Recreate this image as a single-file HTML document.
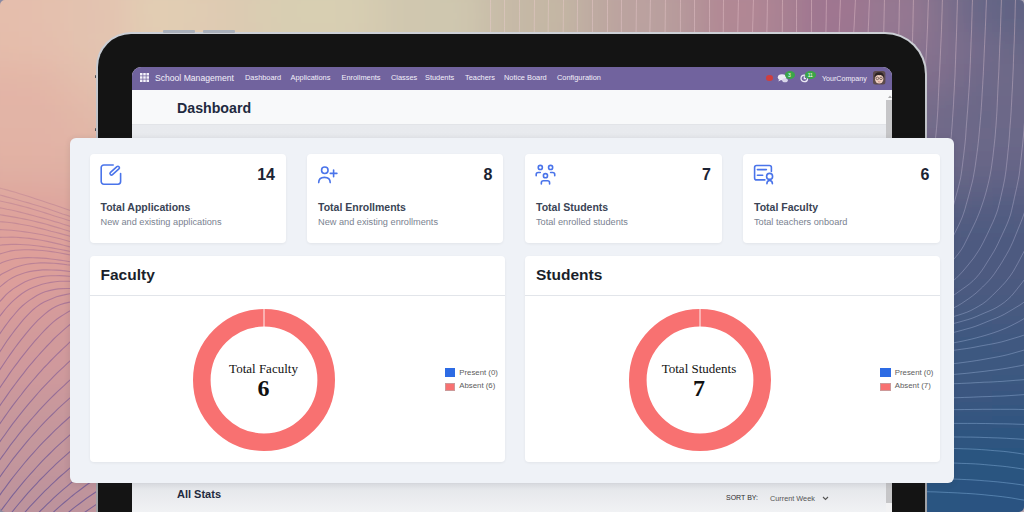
<!DOCTYPE html>
<html><head><meta charset="utf-8">
<style>
*{margin:0;padding:0;box-sizing:border-box}
html,body{width:1024px;height:512px;overflow:hidden;background:#7a6e88}
body{position:relative;font-family:"Liberation Sans",sans-serif}
.abs{position:absolute}
#tablet{position:absolute;left:96px;top:32px;width:831px;height:540px;border-radius:35px 42px 0 0;background:linear-gradient(#cdd0d6,#b4b6bc 30%,#9c9ea2);}
#bezel{position:absolute;left:2.3px;top:2.3px;right:2.3px;bottom:0;border-radius:33px 40px 0 0;background:#141414}
#screen{position:absolute;left:132px;top:67px;width:760px;height:460px;border-radius:9px 9px 0 0;overflow:hidden;background:linear-gradient(#e8eaee 58px,#eceef1 300px,#e3e5e9 416px,#f3f4f6 450px)}
#nav{position:absolute;left:0;top:0;width:760px;height:23px;background:#71639e;color:#fff;font-size:7.4px}
#nav span{position:absolute;top:6.4px;white-space:nowrap;color:#f3f0fa}
#cp{position:absolute;left:0;top:23px;width:760px;height:34.6px;background:#f8f9fa;border-bottom:1px solid #e2e4e8}
#overlay{position:absolute;left:70px;top:138px;width:884px;height:344.5px;border-radius:6px;background:#eff2f7;box-shadow:0 1px 6px rgba(40,40,60,.12)}
.card{position:absolute;background:#fff;border-radius:4px;box-shadow:0 1px 3px rgba(0,0,0,.06)}
.stat .num{position:absolute;right:10.5px;top:12.4px;font-size:16px;font-weight:bold;color:#1c2333}
.stat .t{position:absolute;left:11px;top:46.8px;font-size:10.5px;font-weight:bold;color:#3a4455;white-space:nowrap}
.stat .s{position:absolute;left:11px;top:63px;font-size:9.2px;color:#7a8290;white-space:nowrap}
.stat svg{position:absolute}
.chart .h{position:absolute;left:11px;top:9.4px;font-size:15.5px;font-weight:bold;color:#1a1f2b}
.chart .line{position:absolute;left:0;right:0;top:39px;height:1px;background:#e2e5ea}
.legend{position:absolute;font-size:7.8px;color:#5c5c5c;white-space:nowrap}
.legend i{position:absolute;left:0;width:10.5px;height:8.5px}
.legend span{position:absolute;left:14.5px}
.ctext{position:absolute;font-family:"Liberation Serif",serif;text-align:center;color:#111}
</style></head><body>
<svg width="1024" height="512" style="position:absolute;left:0;top:0"><defs><filter id="bl" x="-5%" y="-5%" width="110%" height="110%"><feGaussianBlur stdDeviation="14" edgeMode="duplicate"/></filter></defs><g filter="url(#bl)"><rect x="-32" y="-32" width="32" height="32" fill="#e5beac"/><rect x="0" y="-32" width="32" height="32" fill="#e5bfad"/><rect x="32" y="-32" width="32" height="32" fill="#e4c0ad"/><rect x="64" y="-32" width="32" height="32" fill="#e3c2af"/><rect x="96" y="-32" width="32" height="32" fill="#e3c5b0"/><rect x="128" y="-32" width="32" height="32" fill="#e2ccb3"/><rect x="160" y="-32" width="32" height="32" fill="#e1cdb3"/><rect x="192" y="-32" width="32" height="32" fill="#e0cbb2"/><rect x="224" y="-32" width="32" height="32" fill="#dccbb1"/><rect x="256" y="-32" width="32" height="32" fill="#d9cdb2"/><rect x="288" y="-32" width="32" height="32" fill="#d8cfb2"/><rect x="320" y="-32" width="32" height="32" fill="#d8cfb2"/><rect x="352" y="-32" width="32" height="32" fill="#d5ccb1"/><rect x="384" y="-32" width="32" height="32" fill="#d0c7af"/><rect x="416" y="-32" width="32" height="32" fill="#cfc7af"/><rect x="448" y="-32" width="32" height="32" fill="#cec5ae"/><rect x="480" y="-32" width="32" height="32" fill="#c8bca8"/><rect x="512" y="-32" width="32" height="32" fill="#c5b7a5"/><rect x="544" y="-32" width="32" height="32" fill="#c4b6a4"/><rect x="576" y="-32" width="32" height="32" fill="#beaba2"/><rect x="608" y="-32" width="32" height="32" fill="#bba29f"/><rect x="640" y="-32" width="32" height="32" fill="#baa09f"/><rect x="672" y="-32" width="32" height="32" fill="#b5959a"/><rect x="704" y="-32" width="32" height="32" fill="#b18994"/><rect x="736" y="-32" width="32" height="32" fill="#b08794"/><rect x="768" y="-32" width="32" height="32" fill="#a88192"/><rect x="800" y="-32" width="32" height="32" fill="#9f7790"/><rect x="832" y="-32" width="32" height="32" fill="#9e7690"/><rect x="864" y="-32" width="32" height="32" fill="#967790"/><rect x="896" y="-32" width="32" height="32" fill="#907690"/><rect x="928" y="-32" width="32" height="32" fill="#7d6f8c"/><rect x="960" y="-32" width="32" height="32" fill="#6b6787"/><rect x="992" y="-32" width="32" height="32" fill="#626384"/><rect x="1024" y="-32" width="32" height="32" fill="#626384"/><rect x="-32" y="0" width="32" height="32" fill="#e5beac"/><rect x="0" y="0" width="32" height="32" fill="#e5beac"/><rect x="32" y="0" width="32" height="32" fill="#e4c0ae"/><rect x="64" y="0" width="32" height="32" fill="#e3c2af"/><rect x="96" y="0" width="32" height="32" fill="#e3c3b0"/><rect x="128" y="0" width="32" height="32" fill="#e2cdb3"/><rect x="160" y="0" width="32" height="32" fill="#e1cdb3"/><rect x="192" y="0" width="32" height="32" fill="#e0ccb3"/><rect x="224" y="0" width="32" height="32" fill="#dccbb2"/><rect x="256" y="0" width="32" height="32" fill="#d9ceb2"/><rect x="288" y="0" width="32" height="32" fill="#d8cfb2"/><rect x="320" y="0" width="32" height="32" fill="#d8cfb2"/><rect x="352" y="0" width="32" height="32" fill="#d6ccb1"/><rect x="384" y="0" width="32" height="32" fill="#d0c7af"/><rect x="416" y="0" width="32" height="32" fill="#cfc7af"/><rect x="448" y="0" width="32" height="32" fill="#cfc7af"/><rect x="480" y="0" width="32" height="32" fill="#c8bca8"/><rect x="512" y="0" width="32" height="32" fill="#c5b7a5"/><rect x="544" y="0" width="32" height="32" fill="#c4b7a4"/><rect x="576" y="0" width="32" height="32" fill="#beaaa1"/><rect x="608" y="0" width="32" height="32" fill="#bba29f"/><rect x="640" y="0" width="32" height="32" fill="#baa19f"/><rect x="672" y="0" width="32" height="32" fill="#b5969a"/><rect x="704" y="0" width="32" height="32" fill="#b18894"/><rect x="736" y="0" width="32" height="32" fill="#b18794"/><rect x="768" y="0" width="32" height="32" fill="#a98192"/><rect x="800" y="0" width="32" height="32" fill="#9f7690"/><rect x="832" y="0" width="32" height="32" fill="#9f7690"/><rect x="864" y="0" width="32" height="32" fill="#967891"/><rect x="896" y="0" width="32" height="32" fill="#957991"/><rect x="928" y="0" width="32" height="32" fill="#7f708c"/><rect x="960" y="0" width="32" height="32" fill="#6a6888"/><rect x="992" y="0" width="32" height="32" fill="#616384"/><rect x="1024" y="0" width="32" height="32" fill="#626384"/><rect x="-32" y="32" width="32" height="32" fill="#e4bcab"/><rect x="0" y="32" width="32" height="32" fill="#e5bdab"/><rect x="32" y="32" width="32" height="32" fill="#e4bead"/><rect x="64" y="32" width="32" height="32" fill="#e3c2af"/><rect x="96" y="32" width="32" height="32" fill="#e3c4b0"/><rect x="128" y="32" width="32" height="32" fill="#e2cab2"/><rect x="160" y="32" width="32" height="32" fill="#e1ccb3"/><rect x="192" y="32" width="32" height="32" fill="#e0cab2"/><rect x="224" y="32" width="32" height="32" fill="#dccab1"/><rect x="256" y="32" width="32" height="32" fill="#d9ccb1"/><rect x="288" y="32" width="32" height="32" fill="#d8ceb2"/><rect x="320" y="32" width="32" height="32" fill="#d8ceb2"/><rect x="352" y="32" width="32" height="32" fill="#d5cbb1"/><rect x="384" y="32" width="32" height="32" fill="#d0c7af"/><rect x="416" y="32" width="32" height="32" fill="#cfc7af"/><rect x="448" y="32" width="32" height="32" fill="#cec5ae"/><rect x="480" y="32" width="32" height="32" fill="#c8bca8"/><rect x="512" y="32" width="32" height="32" fill="#c4b7a5"/><rect x="544" y="32" width="32" height="32" fill="#c3b5a4"/><rect x="576" y="32" width="32" height="32" fill="#beaaa1"/><rect x="608" y="32" width="32" height="32" fill="#baa29f"/><rect x="640" y="32" width="32" height="32" fill="#b9a09f"/><rect x="672" y="32" width="32" height="32" fill="#b4959a"/><rect x="704" y="32" width="32" height="32" fill="#b08a95"/><rect x="736" y="32" width="32" height="32" fill="#af8794"/><rect x="768" y="32" width="32" height="32" fill="#a68092"/><rect x="800" y="32" width="32" height="32" fill="#9e7890"/><rect x="832" y="32" width="32" height="32" fill="#9b7690"/><rect x="864" y="32" width="32" height="32" fill="#937790"/><rect x="896" y="32" width="32" height="32" fill="#8d7590"/><rect x="928" y="32" width="32" height="32" fill="#816f8d"/><rect x="960" y="32" width="32" height="32" fill="#756b8a"/><rect x="992" y="32" width="32" height="32" fill="#6b6787"/><rect x="1024" y="32" width="32" height="32" fill="#686686"/><rect x="-32" y="64" width="32" height="32" fill="#e3b6a7"/><rect x="0" y="64" width="32" height="32" fill="#e3b5a6"/><rect x="32" y="64" width="32" height="32" fill="#e3b7a8"/><rect x="64" y="64" width="32" height="32" fill="#e3bdac"/><rect x="96" y="64" width="32" height="32" fill="#e2c1ae"/><rect x="128" y="64" width="32" height="32" fill="#e1c5b0"/><rect x="160" y="64" width="32" height="32" fill="#e0c7b1"/><rect x="192" y="64" width="32" height="32" fill="#dec7b0"/><rect x="224" y="64" width="32" height="32" fill="#dbc7b0"/><rect x="256" y="64" width="32" height="32" fill="#d8c9b0"/><rect x="288" y="64" width="32" height="32" fill="#d7cbb1"/><rect x="320" y="64" width="32" height="32" fill="#d6cab0"/><rect x="352" y="64" width="32" height="32" fill="#d3c8af"/><rect x="384" y="64" width="32" height="32" fill="#cfc5ae"/><rect x="416" y="64" width="32" height="32" fill="#cec3ad"/><rect x="448" y="64" width="32" height="32" fill="#cbc0ac"/><rect x="480" y="64" width="32" height="32" fill="#c7baa8"/><rect x="512" y="64" width="32" height="32" fill="#c4b5a5"/><rect x="544" y="64" width="32" height="32" fill="#c1b1a3"/><rect x="576" y="64" width="32" height="32" fill="#bda9a1"/><rect x="608" y="64" width="32" height="32" fill="#b9a29f"/><rect x="640" y="64" width="32" height="32" fill="#b69c9d"/><rect x="672" y="64" width="32" height="32" fill="#b29499"/><rect x="704" y="64" width="32" height="32" fill="#ad8b96"/><rect x="736" y="64" width="32" height="32" fill="#a98594"/><rect x="768" y="64" width="32" height="32" fill="#a17f92"/><rect x="800" y="64" width="32" height="32" fill="#997990"/><rect x="832" y="64" width="32" height="32" fill="#93768f"/><rect x="864" y="64" width="32" height="32" fill="#8a738e"/><rect x="896" y="64" width="32" height="32" fill="#81708d"/><rect x="928" y="64" width="32" height="32" fill="#7e6e8c"/><rect x="960" y="64" width="32" height="32" fill="#6e6989"/><rect x="992" y="64" width="32" height="32" fill="#6e6988"/><rect x="1024" y="64" width="32" height="32" fill="#6d6888"/><rect x="-32" y="96" width="32" height="32" fill="#e2b4a6"/><rect x="0" y="96" width="32" height="32" fill="#e2b4a6"/><rect x="32" y="96" width="32" height="32" fill="#e2b4a6"/><rect x="64" y="96" width="32" height="32" fill="#e2b8a8"/><rect x="96" y="96" width="32" height="32" fill="#e1bcab"/><rect x="128" y="96" width="32" height="32" fill="#e0c0ad"/><rect x="160" y="96" width="32" height="32" fill="#dfc2ae"/><rect x="192" y="96" width="32" height="32" fill="#ddc3ae"/><rect x="224" y="96" width="32" height="32" fill="#dac4ae"/><rect x="256" y="96" width="32" height="32" fill="#d8c5ae"/><rect x="288" y="96" width="32" height="32" fill="#d6c6af"/><rect x="320" y="96" width="32" height="32" fill="#d4c6ae"/><rect x="352" y="96" width="32" height="32" fill="#d1c4ae"/><rect x="384" y="96" width="32" height="32" fill="#cec2ac"/><rect x="416" y="96" width="32" height="32" fill="#cbbfab"/><rect x="448" y="96" width="32" height="32" fill="#c9bcaa"/><rect x="480" y="96" width="32" height="32" fill="#c5b7a7"/><rect x="512" y="96" width="32" height="32" fill="#c2b2a5"/><rect x="544" y="96" width="32" height="32" fill="#beada2"/><rect x="576" y="96" width="32" height="32" fill="#baa6a0"/><rect x="608" y="96" width="32" height="32" fill="#b69f9e"/><rect x="640" y="96" width="32" height="32" fill="#b2999b"/><rect x="672" y="96" width="32" height="32" fill="#ad9298"/><rect x="704" y="96" width="32" height="32" fill="#a88a96"/><rect x="736" y="96" width="32" height="32" fill="#a28493"/><rect x="768" y="96" width="32" height="32" fill="#9a7e91"/><rect x="800" y="96" width="32" height="32" fill="#92788f"/><rect x="832" y="96" width="32" height="32" fill="#8b748e"/><rect x="864" y="96" width="32" height="32" fill="#83718d"/><rect x="896" y="96" width="32" height="32" fill="#7a6d8b"/><rect x="928" y="96" width="32" height="32" fill="#706a89"/><rect x="960" y="96" width="32" height="32" fill="#6a6888"/><rect x="992" y="96" width="32" height="32" fill="#6c6888"/><rect x="1024" y="96" width="32" height="32" fill="#6d6888"/><rect x="-32" y="128" width="32" height="32" fill="#e2b3a5"/><rect x="0" y="128" width="32" height="32" fill="#e2b3a5"/><rect x="32" y="128" width="32" height="32" fill="#e2b3a6"/><rect x="64" y="128" width="32" height="32" fill="#e1b5a6"/><rect x="96" y="128" width="32" height="32" fill="#e0b7a8"/><rect x="128" y="128" width="32" height="32" fill="#debaaa"/><rect x="160" y="128" width="32" height="32" fill="#ddbcab"/><rect x="192" y="128" width="32" height="32" fill="#dbbeab"/><rect x="224" y="128" width="32" height="32" fill="#d9bfac"/><rect x="256" y="128" width="32" height="32" fill="#d6c0ac"/><rect x="288" y="128" width="32" height="32" fill="#d4c1ac"/><rect x="320" y="128" width="32" height="32" fill="#d1c1ac"/><rect x="352" y="128" width="32" height="32" fill="#cfbfac"/><rect x="384" y="128" width="32" height="32" fill="#ccbdab"/><rect x="416" y="128" width="32" height="32" fill="#c9bba9"/><rect x="448" y="128" width="32" height="32" fill="#c6b7a8"/><rect x="480" y="128" width="32" height="32" fill="#c2b3a6"/><rect x="512" y="128" width="32" height="32" fill="#bfaea3"/><rect x="544" y="128" width="32" height="32" fill="#bba9a1"/><rect x="576" y="128" width="32" height="32" fill="#b7a39f"/><rect x="608" y="128" width="32" height="32" fill="#b29c9d"/><rect x="640" y="128" width="32" height="32" fill="#ad969a"/><rect x="672" y="128" width="32" height="32" fill="#a88f98"/><rect x="704" y="128" width="32" height="32" fill="#a28895"/><rect x="736" y="128" width="32" height="32" fill="#9b8292"/><rect x="768" y="128" width="32" height="32" fill="#937c90"/><rect x="800" y="128" width="32" height="32" fill="#8b778e"/><rect x="832" y="128" width="32" height="32" fill="#84728d"/><rect x="864" y="128" width="32" height="32" fill="#7c6f8b"/><rect x="896" y="128" width="32" height="32" fill="#756c8a"/><rect x="928" y="128" width="32" height="32" fill="#6f6989"/><rect x="960" y="128" width="32" height="32" fill="#6c6888"/><rect x="992" y="128" width="32" height="32" fill="#6b6888"/><rect x="1024" y="128" width="32" height="32" fill="#6b6888"/><rect x="-32" y="160" width="32" height="32" fill="#e0ada2"/><rect x="0" y="160" width="32" height="32" fill="#e0aea2"/><rect x="32" y="160" width="32" height="32" fill="#e0aea3"/><rect x="64" y="160" width="32" height="32" fill="#dfafa3"/><rect x="96" y="160" width="32" height="32" fill="#deb1a5"/><rect x="128" y="160" width="32" height="32" fill="#dcb3a6"/><rect x="160" y="160" width="32" height="32" fill="#dbb6a8"/><rect x="192" y="160" width="32" height="32" fill="#d9b8a9"/><rect x="224" y="160" width="32" height="32" fill="#d7baa9"/><rect x="256" y="160" width="32" height="32" fill="#d4bbaa"/><rect x="288" y="160" width="32" height="32" fill="#d2bbaa"/><rect x="320" y="160" width="32" height="32" fill="#cfbbaa"/><rect x="352" y="160" width="32" height="32" fill="#ccbaaa"/><rect x="384" y="160" width="32" height="32" fill="#c9b9a9"/><rect x="416" y="160" width="32" height="32" fill="#c6b6a7"/><rect x="448" y="160" width="32" height="32" fill="#c3b3a6"/><rect x="480" y="160" width="32" height="32" fill="#bfafa4"/><rect x="512" y="160" width="32" height="32" fill="#bbaaa2"/><rect x="544" y="160" width="32" height="32" fill="#b7a5a0"/><rect x="576" y="160" width="32" height="32" fill="#b29f9e"/><rect x="608" y="160" width="32" height="32" fill="#ad999b"/><rect x="640" y="160" width="32" height="32" fill="#a89399"/><rect x="672" y="160" width="32" height="32" fill="#a28c96"/><rect x="704" y="160" width="32" height="32" fill="#9b8594"/><rect x="736" y="160" width="32" height="32" fill="#937f91"/><rect x="768" y="160" width="32" height="32" fill="#8c7a8f"/><rect x="800" y="160" width="32" height="32" fill="#84748d"/><rect x="832" y="160" width="32" height="32" fill="#7c708c"/><rect x="864" y="160" width="32" height="32" fill="#756c8a"/><rect x="896" y="160" width="32" height="32" fill="#6e6988"/><rect x="928" y="160" width="32" height="32" fill="#696787"/><rect x="960" y="160" width="32" height="32" fill="#656586"/><rect x="992" y="160" width="32" height="32" fill="#636486"/><rect x="1024" y="160" width="32" height="32" fill="#636486"/><rect x="-32" y="192" width="32" height="32" fill="#dea49d"/><rect x="0" y="192" width="32" height="32" fill="#dea39c"/><rect x="32" y="192" width="32" height="32" fill="#dea49d"/><rect x="64" y="192" width="32" height="32" fill="#dda79f"/><rect x="96" y="192" width="32" height="32" fill="#dcaaa1"/><rect x="128" y="192" width="32" height="32" fill="#daada3"/><rect x="160" y="192" width="32" height="32" fill="#d9b0a5"/><rect x="192" y="192" width="32" height="32" fill="#d7b2a6"/><rect x="224" y="192" width="32" height="32" fill="#d5b4a7"/><rect x="256" y="192" width="32" height="32" fill="#d2b6a8"/><rect x="288" y="192" width="32" height="32" fill="#d0b6a8"/><rect x="320" y="192" width="32" height="32" fill="#cdb6a8"/><rect x="352" y="192" width="32" height="32" fill="#cab6a8"/><rect x="384" y="192" width="32" height="32" fill="#c7b4a7"/><rect x="416" y="192" width="32" height="32" fill="#c4b2a6"/><rect x="448" y="192" width="32" height="32" fill="#c0aea4"/><rect x="480" y="192" width="32" height="32" fill="#bcaba3"/><rect x="512" y="192" width="32" height="32" fill="#b8a6a1"/><rect x="544" y="192" width="32" height="32" fill="#b3a19f"/><rect x="576" y="192" width="32" height="32" fill="#ae9b9c"/><rect x="608" y="192" width="32" height="32" fill="#a8959a"/><rect x="640" y="192" width="32" height="32" fill="#a28f98"/><rect x="672" y="192" width="32" height="32" fill="#9b8995"/><rect x="704" y="192" width="32" height="32" fill="#948293"/><rect x="736" y="192" width="32" height="32" fill="#8c7c90"/><rect x="768" y="192" width="32" height="32" fill="#84778e"/><rect x="800" y="192" width="32" height="32" fill="#7b728c"/><rect x="832" y="192" width="32" height="32" fill="#736d8a"/><rect x="864" y="192" width="32" height="32" fill="#6b6988"/><rect x="896" y="192" width="32" height="32" fill="#626486"/><rect x="928" y="192" width="32" height="32" fill="#5a6083"/><rect x="960" y="192" width="32" height="32" fill="#545d82"/><rect x="992" y="192" width="32" height="32" fill="#535d82"/><rect x="1024" y="192" width="32" height="32" fill="#575f83"/><rect x="-32" y="224" width="32" height="32" fill="#dea09a"/><rect x="0" y="224" width="32" height="32" fill="#dea09a"/><rect x="32" y="224" width="32" height="32" fill="#dea09a"/><rect x="64" y="224" width="32" height="32" fill="#dca29c"/><rect x="96" y="224" width="32" height="32" fill="#daa49e"/><rect x="128" y="224" width="32" height="32" fill="#d8a7a0"/><rect x="160" y="224" width="32" height="32" fill="#d6aaa2"/><rect x="192" y="224" width="32" height="32" fill="#d5ada3"/><rect x="224" y="224" width="32" height="32" fill="#d3afa5"/><rect x="256" y="224" width="32" height="32" fill="#d0b0a5"/><rect x="288" y="224" width="32" height="32" fill="#ceb1a6"/><rect x="320" y="224" width="32" height="32" fill="#cbb2a6"/><rect x="352" y="224" width="32" height="32" fill="#c8b1a6"/><rect x="384" y="224" width="32" height="32" fill="#c4afa5"/><rect x="416" y="224" width="32" height="32" fill="#c1ada4"/><rect x="448" y="224" width="32" height="32" fill="#bdaaa3"/><rect x="480" y="224" width="32" height="32" fill="#b8a6a1"/><rect x="512" y="224" width="32" height="32" fill="#b4a29f"/><rect x="544" y="224" width="32" height="32" fill="#ae9d9d"/><rect x="576" y="224" width="32" height="32" fill="#a9989b"/><rect x="608" y="224" width="32" height="32" fill="#a29299"/><rect x="640" y="224" width="32" height="32" fill="#9c8c96"/><rect x="672" y="224" width="32" height="32" fill="#948594"/><rect x="704" y="224" width="32" height="32" fill="#8c7f91"/><rect x="736" y="224" width="32" height="32" fill="#84798f"/><rect x="768" y="224" width="32" height="32" fill="#7b748c"/><rect x="800" y="224" width="32" height="32" fill="#726e8a"/><rect x="832" y="224" width="32" height="32" fill="#696988"/><rect x="864" y="224" width="32" height="32" fill="#606486"/><rect x="896" y="224" width="32" height="32" fill="#586083"/><rect x="928" y="224" width="32" height="32" fill="#505c81"/><rect x="960" y="224" width="32" height="32" fill="#4d5a80"/><rect x="992" y="224" width="32" height="32" fill="#4d5a80"/><rect x="1024" y="224" width="32" height="32" fill="#4f5b81"/><rect x="-32" y="256" width="32" height="32" fill="#dda09a"/><rect x="0" y="256" width="32" height="32" fill="#de9f9a"/><rect x="32" y="256" width="32" height="32" fill="#dd9f9a"/><rect x="64" y="256" width="32" height="32" fill="#da9f9b"/><rect x="96" y="256" width="32" height="32" fill="#d7a19d"/><rect x="128" y="256" width="32" height="32" fill="#d5a39e"/><rect x="160" y="256" width="32" height="32" fill="#d4a5a0"/><rect x="192" y="256" width="32" height="32" fill="#d3a8a1"/><rect x="224" y="256" width="32" height="32" fill="#d1aaa2"/><rect x="256" y="256" width="32" height="32" fill="#cfaca3"/><rect x="288" y="256" width="32" height="32" fill="#ccada4"/><rect x="320" y="256" width="32" height="32" fill="#c9ada4"/><rect x="352" y="256" width="32" height="32" fill="#c6ada4"/><rect x="384" y="256" width="32" height="32" fill="#c2aba3"/><rect x="416" y="256" width="32" height="32" fill="#bea9a2"/><rect x="448" y="256" width="32" height="32" fill="#baa6a1"/><rect x="480" y="256" width="32" height="32" fill="#b5a29f"/><rect x="512" y="256" width="32" height="32" fill="#b09e9e"/><rect x="544" y="256" width="32" height="32" fill="#aa999c"/><rect x="576" y="256" width="32" height="32" fill="#a49499"/><rect x="608" y="256" width="32" height="32" fill="#9d8e97"/><rect x="640" y="256" width="32" height="32" fill="#958895"/><rect x="672" y="256" width="32" height="32" fill="#8d8292"/><rect x="704" y="256" width="32" height="32" fill="#857c90"/><rect x="736" y="256" width="32" height="32" fill="#7c768d"/><rect x="768" y="256" width="32" height="32" fill="#73708b"/><rect x="800" y="256" width="32" height="32" fill="#696b89"/><rect x="832" y="256" width="32" height="32" fill="#606686"/><rect x="864" y="256" width="32" height="32" fill="#586184"/><rect x="896" y="256" width="32" height="32" fill="#515d82"/><rect x="928" y="256" width="32" height="32" fill="#4d5b80"/><rect x="960" y="256" width="32" height="32" fill="#4d5a80"/><rect x="992" y="256" width="32" height="32" fill="#4d5a80"/><rect x="1024" y="256" width="32" height="32" fill="#4d5a80"/><rect x="-32" y="288" width="32" height="32" fill="#d99e9b"/><rect x="0" y="288" width="32" height="32" fill="#d99d9b"/><rect x="32" y="288" width="32" height="32" fill="#d69c9b"/><rect x="64" y="288" width="32" height="32" fill="#d49c9b"/><rect x="96" y="288" width="32" height="32" fill="#d49e9c"/><rect x="128" y="288" width="32" height="32" fill="#d39f9d"/><rect x="160" y="288" width="32" height="32" fill="#d2a29e"/><rect x="192" y="288" width="32" height="32" fill="#d0a4a0"/><rect x="224" y="288" width="32" height="32" fill="#cfa6a1"/><rect x="256" y="288" width="32" height="32" fill="#cda8a2"/><rect x="288" y="288" width="32" height="32" fill="#caa9a2"/><rect x="320" y="288" width="32" height="32" fill="#c7a9a2"/><rect x="352" y="288" width="32" height="32" fill="#c4a9a2"/><rect x="384" y="288" width="32" height="32" fill="#c0a7a2"/><rect x="416" y="288" width="32" height="32" fill="#bba5a1"/><rect x="448" y="288" width="32" height="32" fill="#b6a29f"/><rect x="480" y="288" width="32" height="32" fill="#b19f9e"/><rect x="512" y="288" width="32" height="32" fill="#ac9a9c"/><rect x="544" y="288" width="32" height="32" fill="#a5969a"/><rect x="576" y="288" width="32" height="32" fill="#9e9098"/><rect x="608" y="288" width="32" height="32" fill="#978b96"/><rect x="640" y="288" width="32" height="32" fill="#8f8593"/><rect x="672" y="288" width="32" height="32" fill="#867f91"/><rect x="704" y="288" width="32" height="32" fill="#7d788e"/><rect x="736" y="288" width="32" height="32" fill="#74728c"/><rect x="768" y="288" width="32" height="32" fill="#6a6d89"/><rect x="800" y="288" width="32" height="32" fill="#616887"/><rect x="832" y="288" width="32" height="32" fill="#586385"/><rect x="864" y="288" width="32" height="32" fill="#505f83"/><rect x="896" y="288" width="32" height="32" fill="#4b5c81"/><rect x="928" y="288" width="32" height="32" fill="#495a80"/><rect x="960" y="288" width="32" height="32" fill="#495a80"/><rect x="992" y="288" width="32" height="32" fill="#4a5a80"/><rect x="1024" y="288" width="32" height="32" fill="#495a80"/><rect x="-32" y="320" width="32" height="32" fill="#d29b9b"/><rect x="0" y="320" width="32" height="32" fill="#d19a9b"/><rect x="32" y="320" width="32" height="32" fill="#d19a9b"/><rect x="64" y="320" width="32" height="32" fill="#d19a9c"/><rect x="96" y="320" width="32" height="32" fill="#d19b9c"/><rect x="128" y="320" width="32" height="32" fill="#d09d9d"/><rect x="160" y="320" width="32" height="32" fill="#cf9f9e"/><rect x="192" y="320" width="32" height="32" fill="#cea19f"/><rect x="224" y="320" width="32" height="32" fill="#cda39f"/><rect x="256" y="320" width="32" height="32" fill="#cba4a0"/><rect x="288" y="320" width="32" height="32" fill="#c8a5a1"/><rect x="320" y="320" width="32" height="32" fill="#c5a6a1"/><rect x="352" y="320" width="32" height="32" fill="#c2a5a1"/><rect x="384" y="320" width="32" height="32" fill="#bda4a0"/><rect x="416" y="320" width="32" height="32" fill="#b9a29f"/><rect x="448" y="320" width="32" height="32" fill="#b49f9e"/><rect x="480" y="320" width="32" height="32" fill="#ae9b9d"/><rect x="512" y="320" width="32" height="32" fill="#a8979b"/><rect x="544" y="320" width="32" height="32" fill="#a19299"/><rect x="576" y="320" width="32" height="32" fill="#9a8d97"/><rect x="608" y="320" width="32" height="32" fill="#928794"/><rect x="640" y="320" width="32" height="32" fill="#898192"/><rect x="672" y="320" width="32" height="32" fill="#807b90"/><rect x="704" y="320" width="32" height="32" fill="#76758d"/><rect x="736" y="320" width="32" height="32" fill="#6c6f8b"/><rect x="768" y="320" width="32" height="32" fill="#626a88"/><rect x="800" y="320" width="32" height="32" fill="#596586"/><rect x="832" y="320" width="32" height="32" fill="#506084"/><rect x="864" y="320" width="32" height="32" fill="#495d82"/><rect x="896" y="320" width="32" height="32" fill="#435a81"/><rect x="928" y="320" width="32" height="32" fill="#405880"/><rect x="960" y="320" width="32" height="32" fill="#3e5880"/><rect x="992" y="320" width="32" height="32" fill="#3f5880"/><rect x="1024" y="320" width="32" height="32" fill="#425980"/><rect x="-32" y="352" width="32" height="32" fill="#cf9a9c"/><rect x="0" y="352" width="32" height="32" fill="#d0999c"/><rect x="32" y="352" width="32" height="32" fill="#d0999c"/><rect x="64" y="352" width="32" height="32" fill="#cf9a9c"/><rect x="96" y="352" width="32" height="32" fill="#ce9a9c"/><rect x="128" y="352" width="32" height="32" fill="#cd9b9c"/><rect x="160" y="352" width="32" height="32" fill="#cd9d9d"/><rect x="192" y="352" width="32" height="32" fill="#cc9e9e"/><rect x="224" y="352" width="32" height="32" fill="#cba09f"/><rect x="256" y="352" width="32" height="32" fill="#c9a29f"/><rect x="288" y="352" width="32" height="32" fill="#c7a3a0"/><rect x="320" y="352" width="32" height="32" fill="#c4a3a0"/><rect x="352" y="352" width="32" height="32" fill="#c0a2a0"/><rect x="384" y="352" width="32" height="32" fill="#bba19f"/><rect x="416" y="352" width="32" height="32" fill="#b69f9e"/><rect x="448" y="352" width="32" height="32" fill="#b19c9d"/><rect x="480" y="352" width="32" height="32" fill="#ab989b"/><rect x="512" y="352" width="32" height="32" fill="#a4949a"/><rect x="544" y="352" width="32" height="32" fill="#9d8f98"/><rect x="576" y="352" width="32" height="32" fill="#958a96"/><rect x="608" y="352" width="32" height="32" fill="#8c8493"/><rect x="640" y="352" width="32" height="32" fill="#837e91"/><rect x="672" y="352" width="32" height="32" fill="#7a788e"/><rect x="704" y="352" width="32" height="32" fill="#70728c"/><rect x="736" y="352" width="32" height="32" fill="#666c89"/><rect x="768" y="352" width="32" height="32" fill="#5c6787"/><rect x="800" y="352" width="32" height="32" fill="#526285"/><rect x="832" y="352" width="32" height="32" fill="#4a5e83"/><rect x="864" y="352" width="32" height="32" fill="#435b82"/><rect x="896" y="352" width="32" height="32" fill="#3f5980"/><rect x="928" y="352" width="32" height="32" fill="#3d5880"/><rect x="960" y="352" width="32" height="32" fill="#3d5880"/><rect x="992" y="352" width="32" height="32" fill="#3c5880"/><rect x="1024" y="352" width="32" height="32" fill="#3d5880"/><rect x="-32" y="384" width="32" height="32" fill="#ca989c"/><rect x="0" y="384" width="32" height="32" fill="#c9989c"/><rect x="32" y="384" width="32" height="32" fill="#c9989c"/><rect x="64" y="384" width="32" height="32" fill="#c9989c"/><rect x="96" y="384" width="32" height="32" fill="#ca999c"/><rect x="128" y="384" width="32" height="32" fill="#ca9a9c"/><rect x="160" y="384" width="32" height="32" fill="#ca9b9d"/><rect x="192" y="384" width="32" height="32" fill="#ca9c9d"/><rect x="224" y="384" width="32" height="32" fill="#c99e9e"/><rect x="256" y="384" width="32" height="32" fill="#c79f9e"/><rect x="288" y="384" width="32" height="32" fill="#c5a09f"/><rect x="320" y="384" width="32" height="32" fill="#c2a09f"/><rect x="352" y="384" width="32" height="32" fill="#bea09f"/><rect x="384" y="384" width="32" height="32" fill="#b99e9e"/><rect x="416" y="384" width="32" height="32" fill="#b49c9d"/><rect x="448" y="384" width="32" height="32" fill="#ae999c"/><rect x="480" y="384" width="32" height="32" fill="#a8969a"/><rect x="512" y="384" width="32" height="32" fill="#a19199"/><rect x="544" y="384" width="32" height="32" fill="#998c97"/><rect x="576" y="384" width="32" height="32" fill="#918794"/><rect x="608" y="384" width="32" height="32" fill="#888292"/><rect x="640" y="384" width="32" height="32" fill="#7e7c90"/><rect x="672" y="384" width="32" height="32" fill="#74768d"/><rect x="704" y="384" width="32" height="32" fill="#6a708b"/><rect x="736" y="384" width="32" height="32" fill="#606a88"/><rect x="768" y="384" width="32" height="32" fill="#566586"/><rect x="800" y="384" width="32" height="32" fill="#4c6084"/><rect x="832" y="384" width="32" height="32" fill="#445c83"/><rect x="864" y="384" width="32" height="32" fill="#3e5a81"/><rect x="896" y="384" width="32" height="32" fill="#3b5880"/><rect x="928" y="384" width="32" height="32" fill="#3a5780"/><rect x="960" y="384" width="32" height="32" fill="#3b5780"/><rect x="992" y="384" width="32" height="32" fill="#395780"/><rect x="1024" y="384" width="32" height="32" fill="#385780"/><rect x="-32" y="416" width="32" height="32" fill="#c6979c"/><rect x="0" y="416" width="32" height="32" fill="#c5979c"/><rect x="32" y="416" width="32" height="32" fill="#c5979c"/><rect x="64" y="416" width="32" height="32" fill="#c5979c"/><rect x="96" y="416" width="32" height="32" fill="#c6979c"/><rect x="128" y="416" width="32" height="32" fill="#c7989c"/><rect x="160" y="416" width="32" height="32" fill="#c7999c"/><rect x="192" y="416" width="32" height="32" fill="#c89b9d"/><rect x="224" y="416" width="32" height="32" fill="#c79c9d"/><rect x="256" y="416" width="32" height="32" fill="#c69d9e"/><rect x="288" y="416" width="32" height="32" fill="#c39e9e"/><rect x="320" y="416" width="32" height="32" fill="#c09e9e"/><rect x="352" y="416" width="32" height="32" fill="#bc9d9e"/><rect x="384" y="416" width="32" height="32" fill="#b89c9d"/><rect x="416" y="416" width="32" height="32" fill="#b29a9c"/><rect x="448" y="416" width="32" height="32" fill="#ac979b"/><rect x="480" y="416" width="32" height="32" fill="#a59399"/><rect x="512" y="416" width="32" height="32" fill="#9e8f98"/><rect x="544" y="416" width="32" height="32" fill="#968a96"/><rect x="576" y="416" width="32" height="32" fill="#8d8594"/><rect x="608" y="416" width="32" height="32" fill="#847f91"/><rect x="640" y="416" width="32" height="32" fill="#7a798f"/><rect x="672" y="416" width="32" height="32" fill="#70748c"/><rect x="704" y="416" width="32" height="32" fill="#656e8a"/><rect x="736" y="416" width="32" height="32" fill="#5b6888"/><rect x="768" y="416" width="32" height="32" fill="#516386"/><rect x="800" y="416" width="32" height="32" fill="#485f84"/><rect x="832" y="416" width="32" height="32" fill="#405b82"/><rect x="864" y="416" width="32" height="32" fill="#3a5881"/><rect x="896" y="416" width="32" height="32" fill="#355781"/><rect x="928" y="416" width="32" height="32" fill="#315680"/><rect x="960" y="416" width="32" height="32" fill="#2e5580"/><rect x="992" y="416" width="32" height="32" fill="#2e5580"/><rect x="1024" y="416" width="32" height="32" fill="#305580"/><rect x="-32" y="448" width="32" height="32" fill="#c3969c"/><rect x="0" y="448" width="32" height="32" fill="#c3969c"/><rect x="32" y="448" width="32" height="32" fill="#c3969c"/><rect x="64" y="448" width="32" height="32" fill="#c2959c"/><rect x="96" y="448" width="32" height="32" fill="#c3969c"/><rect x="128" y="448" width="32" height="32" fill="#c4979c"/><rect x="160" y="448" width="32" height="32" fill="#c5989c"/><rect x="192" y="448" width="32" height="32" fill="#c69a9d"/><rect x="224" y="448" width="32" height="32" fill="#c59b9d"/><rect x="256" y="448" width="32" height="32" fill="#c49c9d"/><rect x="288" y="448" width="32" height="32" fill="#c29c9d"/><rect x="320" y="448" width="32" height="32" fill="#bf9c9d"/><rect x="352" y="448" width="32" height="32" fill="#bb9c9d"/><rect x="384" y="448" width="32" height="32" fill="#b69a9c"/><rect x="416" y="448" width="32" height="32" fill="#b0989b"/><rect x="448" y="448" width="32" height="32" fill="#aa959a"/><rect x="480" y="448" width="32" height="32" fill="#a39199"/><rect x="512" y="448" width="32" height="32" fill="#9b8d97"/><rect x="544" y="448" width="32" height="32" fill="#938895"/><rect x="576" y="448" width="32" height="32" fill="#8a8393"/><rect x="608" y="448" width="32" height="32" fill="#807d90"/><rect x="640" y="448" width="32" height="32" fill="#76788e"/><rect x="672" y="448" width="32" height="32" fill="#6c728c"/><rect x="704" y="448" width="32" height="32" fill="#626c89"/><rect x="736" y="448" width="32" height="32" fill="#576787"/><rect x="768" y="448" width="32" height="32" fill="#4d6285"/><rect x="800" y="448" width="32" height="32" fill="#445e84"/><rect x="832" y="448" width="32" height="32" fill="#3d5a82"/><rect x="864" y="448" width="32" height="32" fill="#365781"/><rect x="896" y="448" width="32" height="32" fill="#315681"/><rect x="928" y="448" width="32" height="32" fill="#2d5480"/><rect x="960" y="448" width="32" height="32" fill="#2c5480"/><rect x="992" y="448" width="32" height="32" fill="#2c5480"/><rect x="1024" y="448" width="32" height="32" fill="#2d5480"/><rect x="-32" y="480" width="32" height="32" fill="#c0949c"/><rect x="0" y="480" width="32" height="32" fill="#bd939c"/><rect x="32" y="480" width="32" height="32" fill="#bd939c"/><rect x="64" y="480" width="32" height="32" fill="#be939c"/><rect x="96" y="480" width="32" height="32" fill="#c1959c"/><rect x="128" y="480" width="32" height="32" fill="#c2969c"/><rect x="160" y="480" width="32" height="32" fill="#c4979c"/><rect x="192" y="480" width="32" height="32" fill="#c4999c"/><rect x="224" y="480" width="32" height="32" fill="#c49a9d"/><rect x="256" y="480" width="32" height="32" fill="#c39b9d"/><rect x="288" y="480" width="32" height="32" fill="#c19b9d"/><rect x="320" y="480" width="32" height="32" fill="#bd9b9d"/><rect x="352" y="480" width="32" height="32" fill="#b99a9c"/><rect x="384" y="480" width="32" height="32" fill="#b4989c"/><rect x="416" y="480" width="32" height="32" fill="#ae969b"/><rect x="448" y="480" width="32" height="32" fill="#a89399"/><rect x="480" y="480" width="32" height="32" fill="#a18f98"/><rect x="512" y="480" width="32" height="32" fill="#998b96"/><rect x="544" y="480" width="32" height="32" fill="#908694"/><rect x="576" y="480" width="32" height="32" fill="#878192"/><rect x="608" y="480" width="32" height="32" fill="#7e7c90"/><rect x="640" y="480" width="32" height="32" fill="#74768e"/><rect x="672" y="480" width="32" height="32" fill="#69718b"/><rect x="704" y="480" width="32" height="32" fill="#5f6b89"/><rect x="736" y="480" width="32" height="32" fill="#556687"/><rect x="768" y="480" width="32" height="32" fill="#4b6185"/><rect x="800" y="480" width="32" height="32" fill="#425d84"/><rect x="832" y="480" width="32" height="32" fill="#3b5982"/><rect x="864" y="480" width="32" height="32" fill="#345781"/><rect x="896" y="480" width="32" height="32" fill="#2f5581"/><rect x="928" y="480" width="32" height="32" fill="#2c5481"/><rect x="960" y="480" width="32" height="32" fill="#2a5381"/><rect x="992" y="480" width="32" height="32" fill="#2a5381"/><rect x="1024" y="480" width="32" height="32" fill="#2c5481"/><rect x="-32" y="512" width="32" height="32" fill="#bf949c"/><rect x="0" y="512" width="32" height="32" fill="#bd939c"/><rect x="32" y="512" width="32" height="32" fill="#bd939c"/><rect x="64" y="512" width="32" height="32" fill="#be939c"/><rect x="96" y="512" width="32" height="32" fill="#c0949c"/><rect x="128" y="512" width="32" height="32" fill="#c1969c"/><rect x="160" y="512" width="32" height="32" fill="#c3979c"/><rect x="192" y="512" width="32" height="32" fill="#c3989c"/><rect x="224" y="512" width="32" height="32" fill="#c3999c"/><rect x="256" y="512" width="32" height="32" fill="#c19a9d"/><rect x="288" y="512" width="32" height="32" fill="#bf9a9d"/><rect x="320" y="512" width="32" height="32" fill="#bc9a9c"/><rect x="352" y="512" width="32" height="32" fill="#b8999c"/><rect x="384" y="512" width="32" height="32" fill="#b3979b"/><rect x="416" y="512" width="32" height="32" fill="#ad949a"/><rect x="448" y="512" width="32" height="32" fill="#a69199"/><rect x="480" y="512" width="32" height="32" fill="#9f8e97"/><rect x="512" y="512" width="32" height="32" fill="#978a96"/><rect x="544" y="512" width="32" height="32" fill="#8e8594"/><rect x="576" y="512" width="32" height="32" fill="#858092"/><rect x="608" y="512" width="32" height="32" fill="#7c7b8f"/><rect x="640" y="512" width="32" height="32" fill="#72758d"/><rect x="672" y="512" width="32" height="32" fill="#68708b"/><rect x="704" y="512" width="32" height="32" fill="#5d6a89"/><rect x="736" y="512" width="32" height="32" fill="#546587"/><rect x="768" y="512" width="32" height="32" fill="#4a6185"/><rect x="800" y="512" width="32" height="32" fill="#425d84"/><rect x="832" y="512" width="32" height="32" fill="#3a5982"/><rect x="864" y="512" width="32" height="32" fill="#345782"/><rect x="896" y="512" width="32" height="32" fill="#2f5581"/><rect x="928" y="512" width="32" height="32" fill="#2b5381"/><rect x="960" y="512" width="32" height="32" fill="#2a5381"/><rect x="992" y="512" width="32" height="32" fill="#2a5381"/><rect x="1024" y="512" width="32" height="32" fill="#2c5481"/></g></svg><svg width="1024" height="512" style="position:absolute;left:0;top:0" fill="none"><defs><linearGradient id="rg" gradientUnits="userSpaceOnUse" x1="0" y1="0" x2="0" y2="512"><stop offset="0" stop-color="#f4d0d4" stop-opacity="0.42"/><stop offset="0.5" stop-color="#c8c8e8" stop-opacity="0.35"/><stop offset="1" stop-color="#8cc0ec" stop-opacity="0.45"/></linearGradient><linearGradient id="lg" gradientUnits="userSpaceOnUse" x1="0" y1="170" x2="0" y2="512"><stop offset="0" stop-color="#a86c8c" stop-opacity="0.1"/><stop offset="0.08" stop-color="#a86c8c" stop-opacity="0.35"/><stop offset="0.4" stop-color="#8a5a94" stop-opacity="0.55"/><stop offset="1" stop-color="#5c4c94" stop-opacity="0.7"/></linearGradient></defs><g stroke="url(#rg)" stroke-width="0.9"><path d="M430.0 359.4 L432.4 355.6 L434.8 351.8 L437.1 348.0 L439.4 344.1 L441.7 340.2 L443.9 336.3 L446.1 332.4 L448.3 328.4 L450.4 324.5 L452.5 320.5 L454.5 316.5 L456.5 312.4 L458.5 308.4 L460.4 304.3 L462.2 300.2 L464.0 296.0 L465.7 291.9 L467.4 287.7 L469.1 283.5 L470.6 279.3 L472.1 275.1 L473.6 270.8 L475.0 266.5 L476.3 262.2 L477.6 257.9 L478.8 253.6 L479.9 249.2 L481.0 244.9 L482.0 240.5 L482.9 236.1 L483.8 231.6 L484.6 227.2 L485.3 222.8 L486.0 218.3 L486.6 213.9 L487.1 209.4 L487.6 204.9 L488.0 200.4 L488.4 196.0 L488.7 191.5 L489.0 187.0 L489.2 182.5 L489.4 178.0 L489.6 173.5 L489.7 169.0 L489.8 164.5 L489.8 160.0 L489.9 155.5 L489.9 151.0 L490.0 146.5 L490.0 142.0 L490.0 137.5 L490.0 133.0 L490.0 128.5 L490.0 124.0 L490.0 119.5 L490.0 115.0 L490.0 110.5 L490.0 106.0 L490.0 101.5 L490.0 97.0 L490.0 92.5 L490.1 88.0 L490.1 83.5 L490.1 79.0 L490.2 74.5 L490.2 70.0 L490.3 65.5 L490.3 61.0 L490.4 56.5 L490.4 52.0 L490.4 47.5 L490.5 43.0 L490.5 38.5 L490.5 34.0 L490.5 29.5 L490.5 25.0 L490.5 20.5 L490.5 16.0 L490.5 11.5 L490.5 7.0 L490.5 2.5 L490.5 -2.0 L490.5 -6.5 L490.5 -6.5"/><path d="M429.6 378.9 L432.2 375.2 L434.7 371.5 L437.3 367.8 L439.8 364.1 L442.2 360.3 L444.7 356.5 L447.1 352.7 L449.5 348.9 L451.8 345.1 L454.1 341.2 L456.4 337.3 L458.6 333.4 L460.8 329.5 L463.0 325.5 L465.1 321.6 L467.2 317.6 L469.2 313.6 L471.2 309.5 L473.1 305.5 L475.0 301.4 L476.9 297.3 L478.6 293.1 L480.4 289.0 L482.0 284.8 L483.7 280.6 L485.2 276.4 L486.7 272.2 L488.2 267.9 L489.5 263.6 L490.9 259.3 L492.1 255.0 L493.3 250.6 L494.4 246.3 L495.4 241.9 L496.4 237.5 L497.3 233.1 L498.2 228.7 L498.9 224.2 L499.6 219.8 L500.3 215.3 L500.9 210.9 L501.4 206.4 L501.8 201.9 L502.3 197.5 L502.6 193.0 L502.9 188.5 L503.2 184.0 L503.4 179.5 L503.5 175.0 L503.7 170.5 L503.8 166.0 L503.9 161.5 L503.9 157.0 L504.0 152.5 L504.0 148.0 L504.0 143.5 L504.0 139.0 L504.0 134.5 L504.0 130.0 L504.0 125.5 L504.0 121.0 L504.0 116.5 L504.0 112.0 L504.0 107.5 L504.0 103.0 L504.0 98.5 L504.0 94.0 L504.1 89.5 L504.1 85.0 L504.1 80.5 L504.2 76.0 L504.2 71.5 L504.3 67.0 L504.3 62.5 L504.4 58.0 L504.4 53.5 L504.4 49.0 L504.5 44.5 L504.5 40.0 L504.5 35.5 L504.5 31.0 L504.5 26.5 L504.5 22.0 L504.5 17.5 L504.5 13.0 L504.5 8.5 L504.5 4.0 L504.5 -0.5 L504.5 -5.0 L504.5 -6.5"/><path d="M429.9 395.2 L432.6 391.6 L435.3 388.0 L437.9 384.4 L440.6 380.8 L443.2 377.1 L445.8 373.4 L448.4 369.7 L450.9 366.0 L453.4 362.3 L455.9 358.5 L458.4 354.8 L460.8 351.0 L463.2 347.2 L465.6 343.3 L467.9 339.5 L470.2 335.6 L472.4 331.7 L474.7 327.8 L476.8 323.9 L479.0 319.9 L481.1 315.9 L483.1 311.9 L485.1 307.9 L487.1 303.8 L489.0 299.7 L490.8 295.6 L492.6 291.5 L494.4 287.4 L496.1 283.2 L497.7 279.0 L499.3 274.8 L500.8 270.6 L502.3 266.3 L503.7 262.0 L505.0 257.7 L506.2 253.4 L507.4 249.1 L508.6 244.7 L509.6 240.3 L510.6 236.0 L511.6 231.6 L512.4 227.1 L513.2 222.7 L514.0 218.3 L514.6 213.8 L515.3 209.4 L515.8 204.9 L516.3 200.4 L516.7 195.9 L517.1 191.5 L517.4 187.0 L517.7 182.5 L517.9 178.0 L518.1 173.5 L518.3 169.0 L518.4 164.5 L518.5 160.0 L518.6 155.5 L518.6 151.0 L518.6 146.5 L518.7 142.0 L518.7 137.5 L518.7 133.0 L518.7 128.5 L518.7 124.0 L518.7 119.5 L518.7 115.0 L518.8 110.5 L518.8 106.0 L518.8 101.5 L518.8 97.0 L518.8 92.5 L518.9 88.0 L518.9 83.5 L519.0 79.0 L519.0 74.5 L519.1 70.0 L519.2 65.5 L519.2 61.0 L519.3 56.5 L519.3 52.0 L519.4 47.5 L519.4 43.0 L519.4 38.5 L519.4 34.0 L519.4 29.5 L519.5 25.0 L519.5 20.5 L519.5 16.0 L519.5 11.5 L519.5 7.0 L519.5 2.5 L519.5 -2.0 L519.5 -6.5 L519.5 -6.5"/><path d="M429.2 409.7 L432.0 406.2 L434.8 402.7 L437.6 399.1 L440.4 395.6 L443.1 392.0 L445.8 388.4 L448.5 384.8 L451.2 381.2 L453.8 377.6 L456.5 373.9 L459.1 370.3 L461.7 366.6 L464.2 362.9 L466.7 359.1 L469.2 355.4 L471.7 351.6 L474.1 347.8 L476.5 344.0 L478.9 340.2 L481.2 336.4 L483.5 332.5 L485.8 328.6 L488.0 324.7 L490.2 320.7 L492.3 316.8 L494.4 312.8 L496.5 308.8 L498.5 304.8 L500.5 300.7 L502.4 296.7 L504.2 292.6 L506.0 288.4 L507.8 284.3 L509.5 280.1 L511.1 275.9 L512.7 271.7 L514.2 267.5 L515.7 263.2 L517.1 259.0 L518.4 254.7 L519.7 250.3 L520.9 246.0 L522.1 241.7 L523.1 237.3 L524.2 232.9 L525.1 228.5 L526.0 224.1 L526.8 219.7 L527.6 215.2 L528.3 210.8 L528.9 206.3 L529.5 201.9 L530.0 197.4 L530.4 192.9 L530.8 188.4 L531.2 184.0 L531.5 179.5 L531.8 175.0 L532.0 170.5 L532.2 166.0 L532.4 161.5 L532.5 157.0 L532.6 152.5 L532.7 148.0 L532.8 143.5 L532.8 139.0 L532.9 134.5 L532.9 130.0 L533.0 125.5 L533.0 121.0 L533.1 116.5 L533.1 112.0 L533.1 107.5 L533.2 103.0 L533.2 98.5 L533.3 94.0 L533.4 89.5 L533.4 85.0 L533.5 80.5 L533.6 76.0 L533.7 71.5 L533.8 67.0 L533.9 62.5 L533.9 58.0 L534.0 53.5 L534.1 49.0 L534.1 44.5 L534.2 40.0 L534.2 35.5 L534.3 31.0 L534.3 26.5 L534.3 22.0 L534.4 17.5 L534.4 13.0 L534.4 8.5 L534.5 4.0 L534.5 -0.5 L534.5 -5.0 L534.5 -6.5"/><path d="M429.4 420.3 L432.3 416.9 L435.1 413.4 L438.0 409.9 L440.8 406.5 L443.6 402.9 L446.4 399.4 L449.2 395.9 L452.0 392.3 L454.7 388.8 L457.5 385.2 L460.2 381.6 L462.9 378.0 L465.5 374.4 L468.1 370.7 L470.8 367.0 L473.3 363.4 L475.9 359.7 L478.4 355.9 L480.9 352.2 L483.4 348.4 L485.8 344.7 L488.3 340.8 L490.6 337.0 L493.0 333.2 L495.3 329.3 L497.5 325.4 L499.8 321.5 L501.9 317.6 L504.1 313.6 L506.2 309.6 L508.2 305.6 L510.3 301.6 L512.2 297.6 L514.1 293.5 L516.0 289.4 L517.8 285.3 L519.6 281.1 L521.3 277.0 L522.9 272.8 L524.5 268.6 L526.0 264.3 L527.5 260.1 L528.9 255.8 L530.3 251.5 L531.6 247.2 L532.8 242.9 L534.0 238.5 L535.1 234.2 L536.1 229.8 L537.1 225.4 L538.0 221.0 L538.8 216.6 L539.6 212.2 L540.3 207.7 L541.0 203.3 L541.6 198.8 L542.2 194.3 L542.7 189.9 L543.2 185.4 L543.6 180.9 L543.9 176.4 L544.3 171.9 L544.5 167.4 L544.8 163.0 L545.0 158.5 L545.2 154.0 L545.4 149.5 L545.5 145.0 L545.7 140.5 L545.8 136.0 L545.9 131.5 L546.0 127.0 L546.1 122.5 L546.2 118.0 L546.3 113.5 L546.4 109.0 L546.5 104.5 L546.6 100.0 L546.7 95.5 L546.8 91.0 L546.9 86.5 L547.1 82.0 L547.2 77.5 L547.3 73.0 L547.4 68.5 L547.5 64.0 L547.6 59.5 L547.7 55.0 L547.8 50.5 L547.9 46.0 L548.0 41.5 L548.0 37.0 L548.1 32.5 L548.2 28.0 L548.2 23.5 L548.3 19.0 L548.3 14.5 L548.4 10.0 L548.4 5.5 L548.5 1.0 L548.5 -3.5 L548.6 -6.5"/><path d="M429.6 430.5 L432.6 427.1 L435.5 423.7 L438.4 420.3 L441.4 416.8 L444.3 413.4 L447.1 409.9 L450.0 406.5 L452.8 403.0 L455.7 399.5 L458.5 396.0 L461.3 392.4 L464.0 388.9 L466.8 385.3 L469.5 381.8 L472.3 378.2 L474.9 374.6 L477.6 370.9 L480.3 367.3 L482.9 363.6 L485.5 360.0 L488.0 356.3 L490.6 352.6 L493.1 348.8 L495.6 345.1 L498.0 341.3 L500.4 337.5 L502.8 333.7 L505.2 329.8 L507.5 326.0 L509.7 322.1 L512.0 318.2 L514.2 314.3 L516.3 310.3 L518.4 306.3 L520.5 302.3 L522.5 298.3 L524.5 294.3 L526.4 290.2 L528.3 286.1 L530.1 282.0 L531.9 277.9 L533.6 273.7 L535.3 269.5 L536.9 265.3 L538.4 261.1 L539.9 256.9 L541.4 252.6 L542.7 248.3 L544.1 244.0 L545.3 239.7 L546.5 235.3 L547.6 231.0 L548.7 226.6 L549.7 222.2 L550.7 217.8 L551.6 213.4 L552.4 209.0 L553.2 204.6 L553.9 200.1 L554.6 195.7 L555.2 191.2 L555.8 186.8 L556.4 182.3 L556.8 177.8 L557.3 173.3 L557.7 168.9 L558.1 164.4 L558.4 159.9 L558.7 155.4 L559.0 150.9 L559.3 146.4 L559.5 141.9 L559.8 137.4 L560.0 132.9 L560.2 128.4 L560.4 124.0 L560.6 119.5 L560.8 115.0 L561.0 110.5 L561.1 106.0 L561.3 101.5 L561.5 97.0 L561.7 92.5 L561.8 88.0 L562.0 83.5 L562.2 79.0 L562.3 74.5 L562.5 70.0 L562.6 65.5 L562.7 61.0 L562.8 56.5 L562.9 52.0 L563.0 47.5 L563.1 43.0 L563.1 38.5 L563.2 34.0 L563.2 29.5 L563.3 25.0 L563.3 20.5 L563.3 16.0 L563.4 11.5 L563.4 7.0 L563.5 2.5 L563.5 -2.0 L563.5 -6.5 L563.5 -6.5"/><path d="M430.0 439.3 L433.0 435.9 L436.0 432.5 L438.9 429.2 L441.9 425.8 L444.9 422.4 L447.8 419.0 L450.7 415.6 L453.6 412.1 L456.5 408.7 L459.4 405.2 L462.3 401.8 L465.1 398.3 L468.0 394.8 L470.8 391.3 L473.6 387.7 L476.3 384.2 L479.1 380.6 L481.8 377.1 L484.6 373.5 L487.2 369.9 L489.9 366.3 L492.6 362.6 L495.2 359.0 L497.8 355.3 L500.3 351.6 L502.9 347.9 L505.4 344.1 L507.9 340.4 L510.3 336.6 L512.7 332.8 L515.1 329.0 L517.4 325.1 L519.8 321.3 L522.0 317.4 L524.3 313.5 L526.4 309.6 L528.6 305.6 L530.7 301.6 L532.8 297.6 L534.8 293.6 L536.8 289.6 L538.7 285.5 L540.6 281.4 L542.4 277.3 L544.2 273.2 L545.9 269.0 L547.5 264.8 L549.1 260.6 L550.7 256.4 L552.2 252.1 L553.6 247.9 L555.0 243.6 L556.4 239.3 L557.6 235.0 L558.8 230.6 L560.0 226.3 L561.1 221.9 L562.1 217.6 L563.1 213.2 L564.0 208.8 L564.9 204.4 L565.8 199.9 L566.5 195.5 L567.3 191.1 L567.9 186.6 L568.6 182.2 L569.2 177.7 L569.7 173.2 L570.3 168.8 L570.8 164.3 L571.2 159.8 L571.6 155.3 L572.0 150.8 L572.4 146.4 L572.8 141.9 L573.1 137.4 L573.5 132.9 L573.8 128.4 L574.1 123.9 L574.4 119.4 L574.6 114.9 L574.9 110.4 L575.2 106.0 L575.4 101.5 L575.6 97.0 L575.9 92.5 L576.1 88.0 L576.3 83.5 L576.5 79.0 L576.6 74.5 L576.8 70.0 L576.9 65.5 L577.0 61.0 L577.1 56.5 L577.2 52.0 L577.3 47.5 L577.3 43.0 L577.4 38.5 L577.4 34.0 L577.4 29.5 L577.4 25.0 L577.4 20.5 L577.4 16.0 L577.5 11.5 L577.5 7.0 L577.5 2.5 L577.5 -2.0 L577.5 -6.5 L577.5 -6.5"/><path d="M429.8 448.7 L432.9 445.4 L435.9 442.0 L438.9 438.7 L442.0 435.4 L445.0 432.0 L448.0 428.7 L451.0 425.3 L454.0 422.0 L456.9 418.6 L459.9 415.2 L462.8 411.8 L465.7 408.3 L468.6 404.9 L471.5 401.5 L474.4 398.0 L477.3 394.5 L480.1 391.1 L482.9 387.5 L485.8 384.0 L488.5 380.5 L491.3 377.0 L494.1 373.4 L496.8 369.8 L499.5 366.2 L502.2 362.6 L504.8 359.0 L507.5 355.3 L510.1 351.6 L512.6 348.0 L515.2 344.3 L517.7 340.5 L520.2 336.8 L522.7 333.0 L525.1 329.2 L527.5 325.4 L529.9 321.6 L532.2 317.7 L534.5 313.9 L536.7 310.0 L538.9 306.0 L541.1 302.1 L543.2 298.1 L545.3 294.1 L547.3 290.1 L549.3 286.1 L551.3 282.0 L553.2 278.0 L555.0 273.9 L556.8 269.7 L558.6 265.6 L560.3 261.4 L561.9 257.2 L563.5 253.0 L565.0 248.8 L566.5 244.5 L568.0 240.3 L569.3 236.0 L570.6 231.7 L571.9 227.4 L573.1 223.0 L574.3 218.7 L575.4 214.3 L576.4 209.9 L577.4 205.5 L578.3 201.1 L579.2 196.7 L580.1 192.3 L580.9 187.9 L581.7 183.5 L582.4 179.0 L583.1 174.6 L583.7 170.1 L584.3 165.7 L584.9 161.2 L585.4 156.7 L586.0 152.3 L586.5 147.8 L586.9 143.3 L587.4 138.8 L587.8 134.4 L588.2 129.9 L588.6 125.4 L589.0 120.9 L589.3 116.4 L589.7 111.9 L590.0 107.4 L590.3 103.0 L590.6 98.5 L590.9 94.0 L591.1 89.5 L591.4 85.0 L591.6 80.5 L591.8 76.0 L591.9 71.5 L592.1 67.0 L592.2 62.5 L592.3 58.0 L592.3 53.5 L592.4 49.0 L592.4 44.5 L592.5 40.0 L592.5 35.5 L592.5 31.0 L592.5 26.5 L592.5 22.0 L592.5 17.5 L592.5 13.0 L592.5 8.5 L592.5 4.0 L592.5 -0.5 L592.5 -5.0 L592.5 -6.5"/><path d="M429.8 457.7 L432.9 454.5 L435.9 451.2 L439.0 447.9 L442.1 444.6 L445.2 441.4 L448.2 438.1 L451.3 434.7 L454.3 431.4 L457.3 428.1 L460.4 424.8 L463.4 421.4 L466.4 418.0 L469.3 414.7 L472.3 411.3 L475.2 407.9 L478.2 404.5 L481.1 401.1 L484.0 397.6 L486.9 394.2 L489.8 390.7 L492.6 387.2 L495.5 383.7 L498.3 380.2 L501.1 376.7 L503.9 373.2 L506.7 369.6 L509.4 366.1 L512.1 362.5 L514.8 358.9 L517.5 355.3 L520.1 351.6 L522.8 348.0 L525.4 344.3 L527.9 340.6 L530.5 336.9 L533.0 333.2 L535.5 329.4 L537.9 325.6 L540.3 321.8 L542.7 318.0 L545.1 314.2 L547.4 310.3 L549.7 306.4 L551.9 302.5 L554.1 298.6 L556.2 294.6 L558.4 290.7 L560.4 286.7 L562.4 282.7 L564.4 278.6 L566.4 274.5 L568.2 270.5 L570.1 266.4 L571.9 262.2 L573.6 258.1 L575.3 253.9 L576.9 249.7 L578.5 245.5 L580.0 241.3 L581.5 237.0 L582.9 232.7 L584.3 228.4 L585.6 224.1 L586.8 219.8 L588.0 215.5 L589.2 211.1 L590.3 206.8 L591.3 202.4 L592.3 198.0 L593.3 193.6 L594.2 189.2 L595.1 184.8 L595.9 180.4 L596.7 175.9 L597.4 171.5 L598.1 167.0 L598.8 162.6 L599.4 158.1 L600.0 153.7 L600.6 149.2 L601.1 144.7 L601.6 140.3 L602.1 135.8 L602.6 131.3 L603.1 126.9 L603.5 122.4 L603.9 117.9 L604.3 113.4 L604.7 108.9 L605.0 104.4 L605.3 100.0 L605.6 95.5 L605.9 91.0 L606.2 86.5 L606.4 82.0 L606.6 77.5 L606.8 73.0 L607.0 68.5 L607.1 64.0 L607.2 59.5 L607.3 55.0 L607.4 50.5 L607.4 46.0 L607.4 41.5 L607.5 37.0 L607.5 32.5 L607.5 28.0 L607.5 23.5 L607.5 19.0 L607.5 14.5 L607.5 10.0 L607.5 5.5 L607.5 1.0 L607.5 -3.5 L607.5 -6.5"/><path d="M429.2 466.6 L432.4 463.4 L435.5 460.2 L438.6 457.0 L441.8 453.7 L444.9 450.5 L448.0 447.2 L451.1 443.9 L454.2 440.7 L457.3 437.4 L460.3 434.1 L463.4 430.8 L466.4 427.5 L469.5 424.2 L472.5 420.9 L475.5 417.5 L478.5 414.2 L481.5 410.8 L484.5 407.4 L487.5 404.1 L490.4 400.7 L493.4 397.3 L496.3 393.8 L499.2 390.4 L502.1 387.0 L505.0 383.5 L507.8 380.0 L510.7 376.5 L513.5 373.0 L516.3 369.5 L519.1 366.0 L521.8 362.4 L524.6 358.8 L527.3 355.3 L530.0 351.7 L532.7 348.0 L535.3 344.4 L537.9 340.7 L540.5 337.1 L543.1 333.4 L545.6 329.6 L548.1 325.9 L550.6 322.1 L553.0 318.4 L555.5 314.6 L557.8 310.7 L560.2 306.9 L562.5 303.0 L564.7 299.1 L567.0 295.2 L569.2 291.3 L571.3 287.3 L573.4 283.4 L575.5 279.4 L577.5 275.3 L579.4 271.3 L581.4 267.2 L583.2 263.1 L585.1 259.0 L586.8 254.9 L588.6 250.7 L590.2 246.5 L591.8 242.3 L593.4 238.1 L594.9 233.9 L596.4 229.6 L597.8 225.4 L599.1 221.1 L600.4 216.8 L601.7 212.4 L602.9 208.1 L604.0 203.7 L605.1 199.4 L606.1 195.0 L607.1 190.6 L608.0 186.2 L608.9 181.8 L609.7 177.4 L610.5 172.9 L611.3 168.5 L612.0 164.1 L612.7 159.6 L613.3 155.1 L613.9 150.7 L614.5 146.2 L615.0 141.8 L615.5 137.3 L616.0 132.8 L616.5 128.3 L616.9 123.9 L617.3 119.4 L617.7 114.9 L618.1 110.4 L618.5 105.9 L618.8 101.4 L619.1 96.9 L619.4 92.5 L619.7 88.0 L620.0 83.5 L620.2 79.0 L620.4 74.5 L620.6 70.0 L620.8 65.5 L620.9 61.0 L621.1 56.5 L621.2 52.0 L621.2 47.5 L621.3 43.0 L621.3 38.5 L621.4 34.0 L621.4 29.5 L621.4 25.0 L621.4 20.5 L621.4 16.0 L621.5 11.5 L621.5 7.0 L621.5 2.5 L621.5 -2.0 L621.5 -6.5 L621.5 -6.5"/><path d="M429.8 475.1 L433.0 471.9 L436.2 468.7 L439.4 465.5 L442.5 462.3 L445.7 459.1 L448.8 455.9 L452.0 452.7 L455.1 449.5 L458.3 446.2 L461.4 443.0 L464.5 439.8 L467.6 436.5 L470.7 433.2 L473.8 430.0 L476.9 426.7 L479.9 423.4 L483.0 420.1 L486.1 416.8 L489.1 413.5 L492.1 410.1 L495.1 406.8 L498.1 403.4 L501.1 400.1 L504.1 396.7 L507.1 393.3 L510.0 389.9 L512.9 386.5 L515.9 383.1 L518.8 379.6 L521.7 376.2 L524.5 372.7 L527.4 369.2 L530.2 365.7 L533.0 362.2 L535.8 358.7 L538.6 355.1 L541.3 351.6 L544.0 348.0 L546.7 344.4 L549.4 340.8 L552.1 337.2 L554.7 333.5 L557.3 329.8 L559.9 326.1 L562.4 322.4 L564.9 318.7 L567.4 314.9 L569.9 311.2 L572.3 307.4 L574.7 303.5 L577.0 299.7 L579.3 295.8 L581.6 292.0 L583.8 288.1 L586.0 284.1 L588.2 280.2 L590.3 276.2 L592.3 272.2 L594.3 268.2 L596.3 264.1 L598.2 260.1 L600.1 256.0 L601.9 251.8 L603.7 247.7 L605.4 243.6 L607.1 239.4 L608.7 235.2 L610.3 230.9 L611.7 226.7 L613.2 222.4 L614.6 218.2 L615.9 213.9 L617.2 209.5 L618.4 205.2 L619.5 200.8 L620.6 196.5 L621.6 192.1 L622.6 187.7 L623.5 183.3 L624.4 178.9 L625.2 174.5 L625.9 170.0 L626.6 165.6 L627.3 161.1 L627.9 156.7 L628.5 152.2 L629.0 147.7 L629.5 143.3 L630.0 138.8 L630.5 134.3 L630.9 129.8 L631.3 125.4 L631.7 120.9 L632.0 116.4 L632.4 111.9 L632.7 107.4 L633.0 102.9 L633.4 98.4 L633.7 93.9 L633.9 89.5 L634.2 85.0 L634.5 80.5 L634.7 76.0 L634.9 71.5 L635.1 67.0 L635.3 62.5 L635.5 58.0 L635.6 53.5 L635.7 49.0 L635.9 44.5 L636.0 40.0 L636.0 35.5 L636.1 31.0 L636.2 26.5 L636.2 22.0 L636.3 17.5 L636.3 13.0 L636.4 8.5 L636.4 4.0 L636.5 -0.5 L636.5 -5.0 L636.6 -6.5"/><path d="M429.3 484.3 L432.6 481.1 L435.8 478.0 L439.0 474.8 L442.2 471.7 L445.4 468.5 L448.6 465.4 L451.8 462.2 L455.0 459.0 L458.2 455.8 L461.4 452.7 L464.5 449.5 L467.7 446.3 L470.9 443.1 L474.0 439.8 L477.1 436.6 L480.3 433.4 L483.4 430.1 L486.5 426.9 L489.6 423.6 L492.7 420.4 L495.8 417.1 L498.9 413.8 L501.9 410.5 L505.0 407.2 L508.0 403.9 L511.1 400.6 L514.1 397.2 L517.1 393.9 L520.1 390.5 L523.1 387.2 L526.0 383.8 L529.0 380.4 L531.9 377.0 L534.9 373.6 L537.8 370.1 L540.6 366.7 L543.5 363.2 L546.4 359.7 L549.2 356.2 L552.0 352.7 L554.8 349.2 L557.6 345.6 L560.3 342.1 L563.0 338.5 L565.7 334.9 L568.4 331.3 L571.1 327.6 L573.7 324.0 L576.3 320.3 L578.9 316.6 L581.4 312.9 L583.9 309.2 L586.4 305.4 L588.8 301.6 L591.2 297.8 L593.6 294.0 L595.9 290.2 L598.2 286.3 L600.5 282.4 L602.7 278.5 L604.9 274.5 L607.0 270.6 L609.1 266.6 L611.1 262.6 L613.1 258.5 L615.1 254.5 L616.9 250.4 L618.8 246.3 L620.6 242.1 L622.3 238.0 L623.9 233.8 L625.5 229.6 L627.1 225.4 L628.5 221.1 L630.0 216.8 L631.3 212.5 L632.6 208.2 L633.8 203.9 L634.9 199.5 L636.0 195.2 L637.0 190.8 L637.9 186.4 L638.8 182.0 L639.6 177.5 L640.4 173.1 L641.0 168.7 L641.7 164.2 L642.2 159.7 L642.8 155.3 L643.2 150.8 L643.7 146.3 L644.1 141.8 L644.5 137.3 L644.8 132.9 L645.1 128.4 L645.4 123.9 L645.7 119.4 L646.0 114.9 L646.3 110.4 L646.6 105.9 L646.8 101.4 L647.1 96.9 L647.4 92.4 L647.6 87.9 L647.9 83.5 L648.1 79.0 L648.4 74.5 L648.6 70.0 L648.8 65.5 L649.0 61.0 L649.2 56.5 L649.3 52.0 L649.5 47.5 L649.6 43.0 L649.7 38.5 L649.8 34.0 L649.9 29.5 L650.0 25.0 L650.1 20.5 L650.2 16.0 L650.3 11.5 L650.3 7.0 L650.4 2.5 L650.5 -2.0 L650.6 -6.5 L650.6 -6.5"/><path d="M429.6 493.7 L432.8 490.6 L436.1 487.5 L439.4 484.4 L442.6 481.3 L445.9 478.2 L449.1 475.1 L452.4 472.0 L455.6 468.9 L458.8 465.7 L462.1 462.6 L465.3 459.5 L468.5 456.3 L471.7 453.2 L474.9 450.0 L478.1 446.8 L481.3 443.7 L484.5 440.5 L487.7 437.3 L490.9 434.1 L494.0 430.9 L497.2 427.7 L500.3 424.5 L503.5 421.3 L506.6 418.0 L509.7 414.8 L512.8 411.6 L515.9 408.3 L519.0 405.0 L522.1 401.8 L525.2 398.5 L528.3 395.2 L531.3 391.9 L534.4 388.6 L537.4 385.2 L540.4 381.9 L543.4 378.5 L546.4 375.2 L549.4 371.8 L552.3 368.4 L555.3 365.0 L558.2 361.6 L561.1 358.2 L564.0 354.7 L566.9 351.2 L569.7 347.8 L572.6 344.3 L575.4 340.8 L578.2 337.2 L581.0 333.7 L583.7 330.1 L586.4 326.6 L589.1 323.0 L591.8 319.3 L594.5 315.7 L597.1 312.0 L599.7 308.4 L602.2 304.7 L604.8 300.9 L607.3 297.2 L609.7 293.4 L612.1 289.6 L614.5 285.8 L616.9 282.0 L619.2 278.1 L621.5 274.2 L623.7 270.3 L625.9 266.4 L628.0 262.4 L630.1 258.4 L632.1 254.4 L634.1 250.4 L636.0 246.3 L637.9 242.2 L639.6 238.1 L641.4 233.9 L643.0 229.7 L644.6 225.5 L646.2 221.3 L647.6 217.0 L649.0 212.8 L650.3 208.4 L651.5 204.1 L652.6 199.8 L653.7 195.4 L654.7 191.0 L655.6 186.6 L656.4 182.2 L657.1 177.7 L657.7 173.3 L658.3 168.8 L658.8 164.3 L659.3 159.9 L659.7 155.4 L660.1 150.9 L660.4 146.4 L660.6 141.9 L660.9 137.4 L661.1 132.9 L661.3 128.4 L661.5 123.9 L661.7 119.4 L661.9 114.9 L662.1 110.4 L662.2 105.9 L662.4 101.4 L662.6 96.9 L662.8 92.5 L663.0 88.0 L663.2 83.5 L663.5 79.0 L663.7 74.5 L663.9 70.0 L664.1 65.5 L664.3 61.0 L664.4 56.5 L664.6 52.0 L664.7 47.5 L664.8 43.0 L664.9 38.5 L665.0 34.0 L665.1 29.5 L665.2 25.0 L665.2 20.5 L665.3 16.0 L665.3 11.5 L665.4 7.0 L665.4 2.5 L665.5 -2.0 L665.6 -6.5 L665.6 -6.5"/><path d="M429.5 502.7 L432.8 499.7 L436.1 496.6 L439.4 493.6 L442.7 490.5 L446.0 487.4 L449.3 484.4 L452.5 481.3 L455.8 478.2 L459.1 475.1 L462.4 472.0 L465.6 468.9 L468.9 465.8 L472.2 462.7 L475.4 459.6 L478.7 456.5 L481.9 453.4 L485.2 450.3 L488.4 447.1 L491.6 444.0 L494.9 440.9 L498.1 437.7 L501.3 434.6 L504.5 431.4 L507.7 428.3 L510.9 425.1 L514.1 421.9 L517.3 418.7 L520.4 415.5 L523.6 412.3 L526.8 409.1 L529.9 405.9 L533.0 402.7 L536.2 399.5 L539.3 396.2 L542.4 393.0 L545.5 389.7 L548.6 386.4 L551.7 383.1 L554.7 379.9 L557.8 376.5 L560.8 373.2 L563.9 369.9 L566.9 366.6 L569.9 363.2 L572.9 359.8 L575.8 356.5 L578.8 353.1 L581.7 349.7 L584.6 346.2 L587.6 342.8 L590.4 339.4 L593.3 335.9 L596.1 332.4 L599.0 328.9 L601.8 325.4 L604.6 321.8 L607.3 318.3 L610.0 314.7 L612.7 311.1 L615.4 307.5 L618.1 303.8 L620.7 300.2 L623.3 296.5 L625.8 292.8 L628.3 289.1 L630.8 285.3 L633.2 281.5 L635.6 277.7 L638.0 273.9 L640.3 270.0 L642.6 266.1 L644.8 262.2 L647.0 258.3 L649.1 254.3 L651.1 250.3 L653.1 246.3 L655.1 242.2 L656.9 238.1 L658.7 234.0 L660.5 229.8 L662.1 225.6 L663.7 221.4 L665.2 217.2 L666.6 212.9 L667.9 208.6 L669.1 204.3 L670.3 199.9 L671.3 195.5 L672.2 191.1 L673.1 186.7 L673.8 182.3 L674.5 177.8 L675.1 173.4 L675.6 168.9 L676.0 164.4 L676.3 159.9 L676.6 155.4 L676.9 150.9 L677.1 146.4 L677.3 142.0 L677.4 137.5 L677.5 133.0 L677.6 128.5 L677.8 124.0 L677.9 119.5 L678.0 115.0 L678.1 110.5 L678.2 106.0 L678.3 101.5 L678.4 97.0 L678.6 92.5 L678.7 88.0 L678.9 83.5 L679.1 79.0 L679.3 74.5 L679.5 70.0 L679.6 65.5 L679.8 61.0 L680.0 56.5 L680.1 52.0 L680.2 47.5 L680.3 43.0 L680.3 38.5 L680.4 34.0 L680.4 29.5 L680.4 25.0 L680.4 20.5 L680.4 16.0 L680.4 11.5 L680.5 7.0 L680.5 2.5 L680.5 -2.0 L680.5 -6.5 L680.5 -6.5"/><path d="M429.4 509.8 L432.7 506.8 L436.1 503.7 L439.4 500.7 L442.7 497.7 L446.0 494.6 L449.3 491.6 L452.7 488.5 L456.0 485.5 L459.3 482.4 L462.6 479.4 L465.9 476.3 L469.2 473.3 L472.5 470.2 L475.8 467.1 L479.1 464.1 L482.3 461.0 L485.6 457.9 L488.9 454.8 L492.2 451.7 L495.4 448.7 L498.7 445.6 L502.0 442.5 L505.2 439.3 L508.5 436.2 L511.7 433.1 L515.0 430.0 L518.2 426.9 L521.4 423.7 L524.6 420.6 L527.8 417.4 L531.1 414.3 L534.3 411.1 L537.5 407.9 L540.6 404.8 L543.8 401.6 L547.0 398.4 L550.1 395.2 L553.3 392.0 L556.4 388.7 L559.6 385.5 L562.7 382.3 L565.8 379.0 L568.9 375.8 L572.0 372.5 L575.1 369.2 L578.2 365.9 L581.2 362.6 L584.3 359.3 L587.3 356.0 L590.3 352.6 L593.3 349.3 L596.3 345.9 L599.2 342.5 L602.2 339.1 L605.1 335.7 L608.0 332.3 L610.9 328.8 L613.8 325.4 L616.6 321.9 L619.5 318.4 L622.3 314.9 L625.1 311.3 L627.8 307.8 L630.5 304.2 L633.2 300.6 L635.9 297.0 L638.5 293.3 L641.1 289.6 L643.7 285.9 L646.2 282.2 L648.7 278.5 L651.2 274.7 L653.6 270.9 L655.9 267.1 L658.2 263.2 L660.5 259.3 L662.7 255.4 L664.8 251.4 L666.9 247.4 L668.9 243.4 L670.9 239.4 L672.8 235.3 L674.6 231.2 L676.3 227.0 L678.0 222.8 L679.5 218.6 L681.0 214.3 L682.4 210.1 L683.7 205.7 L684.9 201.4 L685.9 197.0 L686.9 192.6 L687.8 188.2 L688.6 183.8 L689.3 179.4 L689.8 174.9 L690.3 170.4 L690.7 165.9 L691.1 161.4 L691.3 157.0 L691.5 152.5 L691.7 148.0 L691.9 143.5 L692.0 139.0 L692.1 134.5 L692.1 130.0 L692.2 125.5 L692.3 121.0 L692.4 116.5 L692.5 112.0 L692.6 107.5 L692.6 103.0 L692.7 98.5 L692.9 94.0 L693.0 89.5 L693.1 85.0 L693.3 80.5 L693.5 76.0 L693.6 71.5 L693.8 67.0 L694.0 62.5 L694.1 58.0 L694.2 53.5 L694.3 49.0 L694.4 44.5 L694.4 40.0 L694.5 35.5 L694.5 31.0 L694.5 26.5 L694.5 22.0 L694.5 17.5 L694.5 13.0 L694.5 8.5 L694.5 4.0 L694.5 -0.5 L694.5 -5.0 L694.5 -6.5"/><path d="M429.8 515.6 L433.1 512.6 L436.5 509.6 L439.8 506.6 L443.2 503.6 L446.5 500.6 L449.8 497.6 L453.2 494.5 L456.5 491.5 L459.9 488.5 L463.2 485.5 L466.5 482.5 L469.8 479.4 L473.2 476.4 L476.5 473.4 L479.8 470.3 L483.1 467.3 L486.4 464.2 L489.8 461.2 L493.1 458.1 L496.4 455.1 L499.7 452.0 L503.0 449.0 L506.3 445.9 L509.6 442.8 L512.8 439.7 L516.1 436.7 L519.4 433.6 L522.7 430.5 L525.9 427.4 L529.2 424.3 L532.4 421.2 L535.7 418.1 L538.9 415.0 L542.2 411.8 L545.4 408.7 L548.6 405.6 L551.9 402.4 L555.1 399.3 L558.3 396.1 L561.5 393.0 L564.7 389.8 L567.9 386.6 L571.0 383.4 L574.2 380.2 L577.3 377.0 L580.5 373.8 L583.6 370.6 L586.7 367.3 L589.9 364.1 L593.0 360.8 L596.1 357.5 L599.1 354.2 L602.2 350.9 L605.2 347.6 L608.3 344.3 L611.3 341.0 L614.3 337.6 L617.3 334.3 L620.2 330.9 L623.2 327.5 L626.1 324.1 L629.0 320.6 L631.9 317.2 L634.8 313.7 L637.6 310.2 L640.4 306.7 L643.2 303.2 L646.0 299.6 L648.7 296.0 L651.4 292.4 L654.1 288.8 L656.7 285.2 L659.3 281.5 L661.9 277.8 L664.4 274.0 L666.8 270.3 L669.3 266.5 L671.6 262.7 L674.0 258.8 L676.2 254.9 L678.5 251.0 L680.6 247.1 L682.7 243.1 L684.7 239.1 L686.7 235.0 L688.6 230.9 L690.4 226.8 L692.1 222.6 L693.7 218.4 L695.2 214.2 L696.7 210.0 L698.0 205.7 L699.3 201.3 L700.4 197.0 L701.4 192.6 L702.4 188.2 L703.2 183.8 L703.9 179.3 L704.5 174.9 L705.1 170.4 L705.5 165.9 L705.8 161.4 L706.1 156.9 L706.4 152.5 L706.5 148.0 L706.7 143.5 L706.8 139.0 L706.9 134.5 L707.0 130.0 L707.1 125.5 L707.1 121.0 L707.2 116.5 L707.3 112.0 L707.4 107.5 L707.5 103.0 L707.6 98.5 L707.7 94.0 L707.8 89.5 L708.0 85.0 L708.2 80.5 L708.3 76.0 L708.5 71.5 L708.7 67.0 L708.9 62.5 L709.1 58.0 L709.2 53.5 L709.3 49.0 L709.4 44.5 L709.4 40.0 L709.4 35.5 L709.5 31.0 L709.5 26.5 L709.5 22.0 L709.5 17.5 L709.5 13.0 L709.5 8.5 L709.5 4.0 L709.5 -0.5 L709.5 -5.0 L709.5 -6.5"/><path d="M429.2 520.7 L432.6 517.7 L435.9 514.8 L439.3 511.8 L442.7 508.8 L446.0 505.8 L449.4 502.8 L452.7 499.8 L456.1 496.8 L459.5 493.8 L462.8 490.8 L466.2 487.8 L469.5 484.8 L472.9 481.8 L476.2 478.8 L479.5 475.8 L482.9 472.8 L486.2 469.7 L489.6 466.7 L492.9 463.7 L496.2 460.7 L499.6 457.6 L502.9 454.6 L506.2 451.6 L509.5 448.5 L512.8 445.5 L516.1 442.4 L519.5 439.4 L522.8 436.3 L526.1 433.3 L529.4 430.2 L532.7 427.2 L535.9 424.1 L539.2 421.0 L542.5 417.9 L545.8 414.8 L549.0 411.7 L552.3 408.6 L555.6 405.5 L558.8 402.4 L562.1 399.3 L565.3 396.2 L568.5 393.1 L571.8 389.9 L575.0 386.8 L578.2 383.6 L581.4 380.5 L584.6 377.3 L587.8 374.1 L590.9 370.9 L594.1 367.7 L597.3 364.5 L600.4 361.3 L603.5 358.1 L606.7 354.8 L609.8 351.6 L612.9 348.3 L616.0 345.0 L619.0 341.7 L622.1 338.4 L625.1 335.1 L628.1 331.8 L631.1 328.4 L634.1 325.1 L637.1 321.7 L640.0 318.3 L643.0 314.9 L645.9 311.4 L648.8 308.0 L651.6 304.5 L654.4 301.0 L657.2 297.5 L660.0 293.9 L662.7 290.3 L665.4 286.7 L668.1 283.1 L670.7 279.5 L673.3 275.8 L675.9 272.1 L678.4 268.4 L680.9 264.6 L683.3 260.8 L685.6 257.0 L687.9 253.1 L690.2 249.2 L692.4 245.3 L694.5 241.3 L696.6 237.3 L698.6 233.3 L700.5 229.2 L702.3 225.1 L704.1 220.9 L705.7 216.8 L707.3 212.5 L708.8 208.3 L710.2 204.0 L711.5 199.7 L712.7 195.4 L713.8 191.0 L714.7 186.6 L715.6 182.2 L716.4 177.8 L717.1 173.3 L717.6 168.9 L718.1 164.4 L718.6 159.9 L718.9 155.4 L719.2 150.9 L719.4 146.4 L719.6 141.9 L719.7 137.4 L719.9 132.9 L720.0 128.4 L720.1 123.9 L720.2 119.4 L720.3 114.9 L720.4 110.4 L720.6 105.9 L720.7 101.4 L720.8 96.9 L721.0 92.5 L721.2 88.0 L721.4 83.5 L721.6 79.0 L721.8 74.5 L722.1 70.0 L722.3 65.5 L722.5 61.0 L722.7 56.5 L722.8 52.0 L723.0 47.5 L723.1 43.0 L723.2 38.5 L723.2 34.0 L723.3 29.5 L723.3 25.0 L723.4 20.5 L723.4 16.0 L723.4 11.5 L723.4 7.0 L723.5 2.5 L723.5 -2.0 L723.5 -6.5 L723.5 -6.5"/><path d="M433.5 520.9 L436.9 517.9 L440.3 514.9 L443.6 512.0 L447.0 509.0 L450.4 506.0 L453.8 503.0 L457.1 500.0 L460.5 497.1 L463.9 494.1 L467.2 491.1 L470.6 488.1 L474.0 485.1 L477.3 482.1 L480.7 479.1 L484.1 476.1 L487.4 473.2 L490.8 470.2 L494.1 467.2 L497.5 464.2 L500.8 461.1 L504.2 458.1 L507.5 455.1 L510.9 452.1 L514.2 449.1 L517.5 446.1 L520.9 443.1 L524.2 440.0 L527.5 437.0 L530.9 434.0 L534.2 430.9 L537.5 427.9 L540.8 424.8 L544.1 421.8 L547.4 418.7 L550.7 415.7 L554.0 412.6 L557.3 409.5 L560.6 406.5 L563.9 403.4 L567.1 400.3 L570.4 397.2 L573.7 394.1 L576.9 391.0 L580.2 387.9 L583.4 384.8 L586.7 381.7 L589.9 378.5 L593.1 375.4 L596.3 372.2 L599.5 369.1 L602.7 365.9 L605.9 362.7 L609.1 359.5 L612.3 356.3 L615.4 353.1 L618.6 349.9 L621.7 346.7 L624.8 343.4 L627.9 340.2 L631.0 336.9 L634.1 333.6 L637.2 330.3 L640.2 327.0 L643.2 323.7 L646.2 320.3 L649.2 317.0 L652.2 313.6 L655.1 310.2 L658.0 306.7 L660.9 303.3 L663.8 299.8 L666.6 296.3 L669.5 292.8 L672.2 289.3 L675.0 285.7 L677.7 282.1 L680.4 278.5 L683.0 274.9 L685.6 271.2 L688.2 267.5 L690.7 263.8 L693.1 260.0 L695.5 256.2 L697.9 252.4 L700.2 248.5 L702.5 244.6 L704.6 240.7 L706.8 236.7 L708.8 232.7 L710.8 228.6 L712.7 224.6 L714.5 220.5 L716.2 216.3 L717.9 212.1 L719.5 207.9 L720.9 203.7 L722.3 199.4 L723.6 195.1 L724.8 190.7 L725.9 186.4 L726.9 182.0 L727.8 177.6 L728.6 173.1 L729.3 168.7 L730.0 164.2 L730.5 159.8 L731.0 155.3 L731.4 150.8 L731.8 146.3 L732.1 141.8 L732.4 137.3 L732.6 132.9 L732.8 128.4 L733.0 123.9 L733.2 119.4 L733.4 114.9 L733.7 110.4 L733.9 105.9 L734.1 101.4 L734.3 96.9 L734.6 92.4 L734.9 87.9 L735.1 83.4 L735.4 78.9 L735.7 74.4 L736.0 69.9 L736.3 65.5 L736.6 61.0 L736.8 56.5 L737.0 52.0 L737.2 47.5 L737.4 43.0 L737.6 38.5 L737.7 34.0 L737.8 29.5 L737.9 25.0 L738.0 20.5 L738.1 16.0 L738.2 11.5 L738.3 7.0 L738.4 2.5 L738.5 -2.0 L738.6 -6.5 L738.6 -6.5"/><path d="M437.3 521.0 L440.7 518.0 L444.1 515.1 L447.5 512.1 L450.9 509.1 L454.2 506.2 L457.6 503.2 L461.0 500.3 L464.4 497.3 L467.8 494.3 L471.2 491.3 L474.5 488.4 L477.9 485.4 L481.3 482.4 L484.7 479.5 L488.0 476.5 L491.4 473.5 L494.8 470.5 L498.2 467.5 L501.5 464.5 L504.9 461.6 L508.3 458.6 L511.6 455.6 L515.0 452.6 L518.3 449.6 L521.7 446.6 L525.0 443.6 L528.4 440.6 L531.7 437.6 L535.1 434.6 L538.4 431.6 L541.8 428.5 L545.1 425.5 L548.4 422.5 L551.8 419.5 L555.1 416.4 L558.4 413.4 L561.7 410.3 L565.0 407.3 L568.3 404.2 L571.6 401.2 L574.9 398.1 L578.2 395.1 L581.5 392.0 L584.8 388.9 L588.1 385.8 L591.3 382.7 L594.6 379.6 L597.9 376.5 L601.1 373.4 L604.3 370.3 L607.6 367.2 L610.8 364.0 L614.0 360.9 L617.2 357.7 L620.4 354.5 L623.6 351.4 L626.8 348.2 L629.9 345.0 L633.1 341.7 L636.2 338.5 L639.3 335.3 L642.5 332.0 L645.5 328.8 L648.6 325.5 L651.7 322.2 L654.7 318.8 L657.7 315.5 L660.7 312.2 L663.7 308.8 L666.7 305.4 L669.6 302.0 L672.5 298.5 L675.4 295.1 L678.2 291.6 L681.0 288.1 L683.8 284.5 L686.6 281.0 L689.3 277.4 L692.0 273.8 L694.6 270.1 L697.2 266.5 L699.8 262.8 L702.3 259.0 L704.7 255.2 L707.1 251.4 L709.5 247.6 L711.8 243.7 L714.0 239.8 L716.2 235.9 L718.3 231.9 L720.3 227.9 L722.3 223.8 L724.2 219.8 L726.0 215.6 L727.7 211.5 L729.4 207.3 L730.9 203.1 L732.4 198.8 L733.8 194.6 L735.1 190.2 L736.3 185.9 L737.5 181.6 L738.5 177.2 L739.5 172.8 L740.3 168.4 L741.1 163.9 L741.9 159.5 L742.5 155.1 L743.1 150.6 L743.7 146.1 L744.2 141.7 L744.6 137.2 L745.1 132.7 L745.5 128.2 L745.9 123.7 L746.2 119.2 L746.6 114.8 L747.0 110.3 L747.3 105.8 L747.7 101.3 L748.1 96.8 L748.5 92.3 L748.9 87.9 L749.3 83.4 L749.6 78.9 L750.0 74.4 L750.4 69.9 L750.7 65.4 L751.0 60.9 L751.3 56.5 L751.6 52.0 L751.8 47.5 L752.0 43.0 L752.2 38.5 L752.4 34.0 L752.6 29.5 L752.7 25.0 L752.9 20.5 L753.0 16.0 L753.1 11.5 L753.2 7.0 L753.4 2.5 L753.5 -2.0 L753.6 -6.5 L753.6 -6.5"/><path d="M441.1 520.9 L444.5 518.0 L447.9 515.0 L451.3 512.1 L454.7 509.1 L458.1 506.2 L461.5 503.2 L464.9 500.3 L468.3 497.3 L471.7 494.4 L475.1 491.4 L478.5 488.5 L481.9 485.5 L485.3 482.5 L488.7 479.6 L492.1 476.6 L495.4 473.7 L498.8 470.7 L502.2 467.7 L505.6 464.8 L509.0 461.8 L512.4 458.8 L515.7 455.9 L519.1 452.9 L522.5 449.9 L525.9 446.9 L529.2 443.9 L532.6 441.0 L536.0 438.0 L539.3 435.0 L542.7 432.0 L546.0 429.0 L549.4 426.0 L552.8 423.0 L556.1 420.0 L559.4 417.0 L562.8 414.0 L566.1 411.0 L569.5 407.9 L572.8 404.9 L576.1 401.9 L579.5 398.8 L582.8 395.8 L586.1 392.8 L589.4 389.7 L592.7 386.7 L596.0 383.6 L599.3 380.5 L602.6 377.5 L605.9 374.4 L609.1 371.3 L612.4 368.2 L615.7 365.1 L618.9 362.0 L622.1 358.9 L625.4 355.7 L628.6 352.6 L631.8 349.4 L635.0 346.3 L638.2 343.1 L641.4 339.9 L644.5 336.7 L647.7 333.5 L650.8 330.3 L654.0 327.0 L657.1 323.8 L660.2 320.5 L663.2 317.2 L666.3 313.9 L669.3 310.6 L672.3 307.2 L675.3 303.9 L678.3 300.5 L681.2 297.1 L684.1 293.6 L687.0 290.2 L689.9 286.7 L692.7 283.2 L695.5 279.7 L698.2 276.1 L700.9 272.5 L703.6 268.9 L706.2 265.3 L708.8 261.6 L711.4 257.9 L713.9 254.1 L716.3 250.3 L718.7 246.5 L721.1 242.7 L723.3 238.8 L725.6 234.9 L727.7 230.9 L729.8 227.0 L731.8 222.9 L733.8 218.9 L735.7 214.8 L737.5 210.7 L739.2 206.5 L740.9 202.4 L742.5 198.1 L744.0 193.9 L745.4 189.6 L746.8 185.3 L748.0 181.0 L749.2 176.7 L750.3 172.3 L751.4 168.0 L752.3 163.6 L753.3 159.2 L754.1 154.7 L754.9 150.3 L755.7 145.9 L756.4 141.4 L757.0 137.0 L757.7 132.5 L758.3 128.1 L758.9 123.6 L759.5 119.1 L760.0 114.7 L760.6 110.2 L761.1 105.7 L761.6 101.3 L762.1 96.8 L762.6 92.3 L763.1 87.9 L763.6 83.4 L764.0 78.9 L764.5 74.4 L764.8 69.9 L765.2 65.4 L765.5 61.0 L765.8 56.5 L766.1 52.0 L766.3 47.5 L766.5 43.0 L766.7 38.5 L766.8 34.0 L766.9 29.5 L767.0 25.0 L767.1 20.5 L767.2 16.0 L767.3 11.5 L767.3 7.0 L767.4 2.5 L767.5 -2.0 L767.6 -6.5 L767.6 -6.5"/><path d="M446.4 520.2 L449.8 517.2 L453.3 514.3 L456.7 511.4 L460.1 508.4 L463.5 505.5 L466.9 502.6 L470.3 499.6 L473.7 496.7 L477.1 493.8 L480.5 490.8 L483.9 487.9 L487.4 484.9 L490.8 482.0 L494.2 479.1 L497.6 476.1 L501.0 473.2 L504.4 470.2 L507.8 467.3 L511.2 464.3 L514.6 461.4 L518.0 458.4 L521.4 455.5 L524.8 452.5 L528.2 449.6 L531.6 446.6 L535.0 443.7 L538.3 440.7 L541.7 437.7 L545.1 434.8 L548.5 431.8 L551.9 428.8 L555.3 425.9 L558.6 422.9 L562.0 419.9 L565.4 416.9 L568.8 414.0 L572.1 411.0 L575.5 408.0 L578.9 405.0 L582.2 402.0 L585.6 399.0 L588.9 396.0 L592.3 393.0 L595.6 390.0 L598.9 387.0 L602.3 383.9 L605.6 380.9 L608.9 377.9 L612.2 374.8 L615.5 371.8 L618.9 368.7 L622.2 365.7 L625.4 362.6 L628.7 359.5 L632.0 356.4 L635.3 353.3 L638.5 350.2 L641.8 347.1 L645.0 344.0 L648.2 340.8 L651.4 337.7 L654.6 334.5 L657.8 331.4 L661.0 328.2 L664.2 325.0 L667.3 321.7 L670.4 318.5 L673.5 315.3 L676.6 312.0 L679.7 308.7 L682.8 305.4 L685.8 302.1 L688.8 298.7 L691.8 295.3 L694.7 291.9 L697.6 288.5 L700.5 285.1 L703.4 281.6 L706.2 278.1 L709.0 274.6 L711.8 271.0 L714.5 267.4 L717.2 263.8 L719.8 260.2 L722.4 256.5 L725.0 252.8 L727.5 249.1 L729.9 245.3 L732.3 241.5 L734.7 237.6 L737.0 233.8 L739.2 229.9 L741.4 225.9 L743.5 221.9 L745.5 217.9 L747.5 213.9 L749.4 209.8 L751.3 205.7 L753.0 201.6 L754.7 197.4 L756.4 193.2 L757.9 189.0 L759.4 184.7 L760.8 180.5 L762.2 176.2 L763.4 171.9 L764.7 167.5 L765.8 163.2 L766.9 158.8 L767.9 154.4 L768.9 150.0 L769.8 145.6 L770.7 141.2 L771.6 136.8 L772.4 132.4 L773.1 127.9 L773.9 123.5 L774.6 119.1 L775.3 114.6 L775.9 110.2 L776.6 105.7 L777.2 101.3 L777.8 96.8 L778.3 92.3 L778.9 87.9 L779.4 83.4 L779.9 78.9 L780.3 74.4 L780.7 70.0 L781.1 65.5 L781.4 61.0 L781.6 56.5 L781.9 52.0 L782.0 47.5 L782.1 43.0 L782.2 38.5 L782.3 34.0 L782.3 29.5 L782.4 25.0 L782.4 20.5 L782.4 16.0 L782.4 11.5 L782.4 7.0 L782.5 2.5 L782.5 -2.0 L782.5 -6.5 L782.5 -6.5"/><path d="M451.0 520.2 L454.4 517.3 L457.8 514.4 L461.3 511.5 L464.7 508.6 L468.1 505.7 L471.5 502.7 L475.0 499.8 L478.4 496.9 L481.8 494.0 L485.2 491.1 L488.7 488.1 L492.1 485.2 L495.5 482.3 L498.9 479.4 L502.4 476.5 L505.8 473.5 L509.2 470.6 L512.6 467.7 L516.1 464.8 L519.5 461.8 L522.9 458.9 L526.3 456.0 L529.7 453.1 L533.1 450.1 L536.6 447.2 L540.0 444.3 L543.4 441.3 L546.8 438.4 L550.2 435.5 L553.6 432.5 L557.0 429.6 L560.4 426.7 L563.8 423.7 L567.2 420.8 L570.6 417.8 L574.0 414.9 L577.4 411.9 L580.8 409.0 L584.2 406.0 L587.6 403.1 L591.0 400.1 L594.4 397.1 L597.8 394.2 L601.1 391.2 L604.5 388.2 L607.9 385.2 L611.3 382.2 L614.6 379.2 L618.0 376.3 L621.3 373.2 L624.7 370.2 L628.0 367.2 L631.4 364.2 L634.7 361.2 L638.0 358.1 L641.3 355.1 L644.6 352.0 L647.9 349.0 L651.2 345.9 L654.5 342.8 L657.8 339.7 L661.0 336.6 L664.3 333.5 L667.5 330.4 L670.7 327.2 L673.9 324.1 L677.1 320.9 L680.3 317.7 L683.4 314.5 L686.6 311.3 L689.7 308.1 L692.8 304.8 L695.9 301.5 L699.0 298.2 L702.0 294.9 L705.0 291.5 L708.0 288.2 L710.9 284.8 L713.9 281.4 L716.8 277.9 L719.6 274.4 L722.4 270.9 L725.2 267.4 L728.0 263.9 L730.7 260.3 L733.4 256.6 L736.0 253.0 L738.6 249.3 L741.1 245.6 L743.6 241.8 L746.1 238.1 L748.4 234.3 L750.8 230.4 L753.0 226.5 L755.3 222.6 L757.4 218.7 L759.5 214.7 L761.5 210.7 L763.5 206.6 L765.4 202.5 L767.2 198.4 L769.0 194.3 L770.7 190.1 L772.3 185.9 L773.9 181.7 L775.3 177.4 L776.7 173.2 L778.1 168.9 L779.3 164.5 L780.6 160.2 L781.7 155.9 L782.8 151.5 L783.8 147.1 L784.7 142.7 L785.6 138.3 L786.5 133.9 L787.3 129.4 L788.0 125.0 L788.7 120.6 L789.4 116.1 L790.1 111.7 L790.7 107.2 L791.3 102.8 L791.9 98.3 L792.5 93.8 L793.0 89.4 L793.5 84.9 L794.0 80.4 L794.5 75.9 L794.9 71.5 L795.3 67.0 L795.6 62.5 L795.9 58.0 L796.1 53.5 L796.2 49.0 L796.3 44.5 L796.4 40.0 L796.4 35.5 L796.5 31.0 L796.5 26.5 L796.5 22.0 L796.5 17.5 L796.5 13.0 L796.5 8.5 L796.5 4.0 L796.5 -0.5 L796.5 -5.0 L796.5 -6.5"/><path d="M456.2 520.6 L459.7 517.7 L463.1 514.8 L466.6 511.9 L470.0 509.0 L473.5 506.1 L476.9 503.2 L480.3 500.3 L483.8 497.4 L487.2 494.5 L490.7 491.6 L494.1 488.7 L497.6 485.8 L501.0 482.9 L504.5 480.0 L507.9 477.1 L511.3 474.3 L514.8 471.4 L518.2 468.5 L521.7 465.6 L525.1 462.7 L528.6 459.8 L532.0 456.9 L535.5 454.0 L538.9 451.1 L542.3 448.2 L545.8 445.3 L549.2 442.4 L552.7 439.5 L556.1 436.6 L559.6 433.7 L563.0 430.8 L566.4 427.9 L569.9 425.0 L573.3 422.1 L576.7 419.2 L580.2 416.3 L583.6 413.4 L587.0 410.4 L590.5 407.5 L593.9 404.6 L597.3 401.7 L600.8 398.8 L604.2 395.9 L607.6 392.9 L611.0 390.0 L614.4 387.1 L617.9 384.2 L621.3 381.2 L624.7 378.3 L628.1 375.3 L631.5 372.4 L634.9 369.4 L638.3 366.5 L641.6 363.5 L645.0 360.5 L648.4 357.6 L651.8 354.6 L655.1 351.6 L658.5 348.6 L661.8 345.6 L665.1 342.5 L668.5 339.5 L671.8 336.5 L675.1 333.4 L678.4 330.4 L681.7 327.3 L684.9 324.2 L688.2 321.1 L691.4 318.0 L694.7 314.8 L697.9 311.7 L701.1 308.5 L704.3 305.3 L707.4 302.1 L710.5 298.9 L713.7 295.6 L716.8 292.4 L719.8 289.1 L722.9 285.7 L725.9 282.4 L728.9 279.0 L731.8 275.6 L734.7 272.2 L737.6 268.8 L740.5 265.3 L743.3 261.8 L746.1 258.2 L748.8 254.7 L751.5 251.1 L754.2 247.4 L756.8 243.8 L759.4 240.1 L761.9 236.4 L764.3 232.6 L766.7 228.8 L769.1 225.0 L771.4 221.1 L773.6 217.2 L775.8 213.2 L777.9 209.3 L780.0 205.3 L781.9 201.2 L783.8 197.1 L785.7 193.0 L787.4 188.9 L789.1 184.7 L790.7 180.5 L792.2 176.2 L793.6 172.0 L794.9 167.7 L796.2 163.3 L797.3 159.0 L798.4 154.6 L799.4 150.2 L800.3 145.8 L801.2 141.4 L801.9 137.0 L802.6 132.5 L803.3 128.1 L803.9 123.6 L804.5 119.2 L805.0 114.7 L805.5 110.2 L806.0 105.8 L806.5 101.3 L807.0 96.8 L807.5 92.3 L808.0 87.9 L808.5 83.4 L808.9 78.9 L809.4 74.4 L809.8 70.0 L810.1 65.5 L810.5 61.0 L810.7 56.5 L811.0 52.0 L811.1 47.5 L811.3 43.0 L811.3 38.5 L811.4 34.0 L811.4 29.5 L811.4 25.0 L811.5 20.5 L811.5 16.0 L811.5 11.5 L811.5 7.0 L811.5 2.5 L811.5 -2.0 L811.5 -6.5 L811.5 -6.5"/><path d="M462.2 520.6 L465.7 517.7 L469.2 514.8 L472.6 512.0 L476.1 509.1 L479.5 506.2 L483.0 503.3 L486.5 500.5 L489.9 497.6 L493.4 494.7 L496.9 491.9 L500.3 489.0 L503.8 486.1 L507.3 483.2 L510.7 480.4 L514.2 477.5 L517.7 474.6 L521.1 471.8 L524.6 468.9 L528.1 466.0 L531.5 463.2 L535.0 460.3 L538.5 457.5 L542.0 454.6 L545.4 451.7 L548.9 448.9 L552.4 446.0 L555.9 443.1 L559.3 440.3 L562.8 437.4 L566.3 434.6 L569.8 431.7 L573.2 428.8 L576.7 426.0 L580.2 423.1 L583.6 420.3 L587.1 417.4 L590.6 414.5 L594.1 411.7 L597.5 408.8 L601.0 406.0 L604.5 403.1 L607.9 400.2 L611.4 397.4 L614.9 394.5 L618.3 391.6 L621.8 388.7 L625.3 385.9 L628.7 383.0 L632.2 380.1 L635.6 377.2 L639.1 374.3 L642.5 371.5 L646.0 368.6 L649.4 365.7 L652.9 362.8 L656.3 359.8 L659.7 356.9 L663.2 354.0 L666.6 351.1 L670.0 348.1 L673.4 345.2 L676.8 342.3 L680.2 339.3 L683.6 336.3 L686.9 333.3 L690.3 330.4 L693.7 327.4 L697.0 324.3 L700.3 321.3 L703.6 318.3 L706.9 315.2 L710.2 312.1 L713.5 309.0 L716.8 305.9 L720.0 302.8 L723.2 299.7 L726.4 296.5 L729.6 293.3 L732.7 290.1 L735.9 286.9 L739.0 283.6 L742.1 280.3 L745.1 277.0 L748.1 273.7 L751.1 270.3 L754.1 267.0 L757.0 263.5 L759.9 260.1 L762.8 256.6 L765.6 253.1 L768.4 249.6 L771.1 246.0 L773.8 242.4 L776.4 238.7 L779.0 235.1 L781.6 231.3 L784.0 227.6 L786.5 223.8 L788.8 220.0 L791.1 216.1 L793.4 212.2 L795.5 208.3 L797.6 204.3 L799.6 200.2 L801.5 196.2 L803.4 192.1 L805.1 187.9 L806.7 183.7 L808.3 179.5 L809.7 175.2 L811.1 170.9 L812.3 166.6 L813.5 162.3 L814.5 157.9 L815.4 153.5 L816.2 149.0 L816.9 144.6 L817.5 140.1 L818.1 135.7 L818.5 131.2 L818.9 126.7 L819.3 122.2 L819.7 117.7 L820.0 113.3 L820.4 108.8 L820.7 104.3 L821.1 99.8 L821.4 95.3 L821.8 90.8 L822.2 86.4 L822.7 81.9 L823.1 77.4 L823.5 72.9 L823.9 68.4 L824.3 63.9 L824.6 59.5 L825.0 55.0 L825.2 50.5 L825.5 46.0 L825.7 41.5 L825.8 37.0 L825.9 32.5 L826.0 28.0 L826.1 23.5 L826.2 19.0 L826.2 14.5 L826.3 10.0 L826.4 5.5 L826.4 1.0 L826.5 -3.5 L826.6 -6.5"/><path d="M467.2 520.9 L470.7 518.0 L474.2 515.1 L477.6 512.3 L481.1 509.4 L484.6 506.6 L488.1 503.7 L491.6 500.9 L495.0 498.0 L498.5 495.2 L502.0 492.3 L505.5 489.5 L509.0 486.6 L512.5 483.8 L516.0 480.9 L519.4 478.1 L522.9 475.3 L526.4 472.4 L529.9 469.6 L533.4 466.7 L536.9 463.9 L540.4 461.1 L543.9 458.2 L547.4 455.4 L550.9 452.6 L554.4 449.7 L557.9 446.9 L561.4 444.1 L564.9 441.3 L568.4 438.4 L571.9 435.6 L575.4 432.8 L578.9 430.0 L582.4 427.1 L585.9 424.3 L589.4 421.5 L592.9 418.7 L596.4 415.9 L599.9 413.0 L603.5 410.2 L607.0 407.4 L610.5 404.6 L614.0 401.8 L617.5 398.9 L621.0 396.1 L624.5 393.3 L628.0 390.5 L631.5 387.7 L635.0 384.8 L638.5 382.0 L642.0 379.2 L645.5 376.4 L649.0 373.5 L652.5 370.7 L656.0 367.9 L659.5 365.0 L663.0 362.2 L666.5 359.3 L669.9 356.5 L673.4 353.6 L676.9 350.8 L680.4 347.9 L683.8 345.0 L687.3 342.1 L690.7 339.2 L694.2 336.3 L697.6 333.4 L701.0 330.5 L704.4 327.6 L707.8 324.6 L711.2 321.7 L714.6 318.7 L718.0 315.7 L721.3 312.7 L724.7 309.7 L728.0 306.7 L731.3 303.6 L734.6 300.6 L737.9 297.5 L741.1 294.4 L744.4 291.2 L747.6 288.1 L750.8 284.9 L753.9 281.7 L757.1 278.5 L760.2 275.2 L763.3 272.0 L766.3 268.7 L769.4 265.3 L772.3 262.0 L775.3 258.6 L778.2 255.1 L781.1 251.7 L783.9 248.2 L786.7 244.7 L789.5 241.1 L792.2 237.5 L794.8 233.9 L797.4 230.2 L800.0 226.5 L802.4 222.7 L804.9 218.9 L807.2 215.1 L809.4 211.2 L811.6 207.2 L813.7 203.2 L815.7 199.2 L817.5 195.1 L819.3 191.0 L821.0 186.8 L822.5 182.6 L824.0 178.3 L825.4 174.0 L826.6 169.7 L827.8 165.4 L828.8 161.0 L829.7 156.6 L830.4 152.1 L831.1 147.7 L831.6 143.2 L832.0 138.7 L832.3 134.2 L832.5 129.7 L832.8 125.2 L833.0 120.7 L833.2 116.3 L833.4 111.8 L833.6 107.3 L833.8 102.8 L834.1 98.3 L834.4 93.8 L834.7 89.3 L835.1 84.8 L835.5 80.3 L835.9 75.8 L836.3 71.4 L836.7 66.9 L837.1 62.4 L837.5 57.9 L837.8 53.4 L838.2 48.9 L838.5 44.5 L838.7 40.0 L839.0 35.5 L839.2 31.0 L839.4 26.5 L839.6 22.0 L839.8 17.5 L839.9 13.0 L840.1 8.5 L840.3 4.0 L840.4 -0.5 L840.6 -5.0 L840.7 -6.5"/><path d="M472.5 520.8 L476.0 517.9 L479.5 515.1 L482.9 512.3 L486.4 509.4 L489.9 506.6 L493.4 503.8 L496.9 500.9 L500.4 498.1 L503.9 495.3 L507.4 492.5 L510.9 489.6 L514.4 486.8 L518.0 484.0 L521.5 481.2 L525.0 478.4 L528.5 475.5 L532.0 472.7 L535.5 469.9 L539.0 467.1 L542.5 464.3 L546.1 461.5 L549.6 458.7 L553.1 455.9 L556.6 453.1 L560.2 450.3 L563.7 447.5 L567.2 444.7 L570.7 441.9 L574.3 439.1 L577.8 436.3 L581.3 433.5 L584.9 430.8 L588.4 428.0 L591.9 425.2 L595.5 422.4 L599.0 419.6 L602.6 416.9 L606.1 414.1 L609.6 411.3 L613.2 408.5 L616.7 405.8 L620.3 403.0 L623.8 400.2 L627.4 397.5 L630.9 394.7 L634.5 391.9 L638.0 389.1 L641.6 386.4 L645.1 383.6 L648.7 380.8 L652.2 378.1 L655.7 375.3 L659.3 372.5 L662.8 369.8 L666.4 367.0 L669.9 364.2 L673.5 361.4 L677.0 358.6 L680.5 355.8 L684.0 353.0 L687.6 350.2 L691.1 347.4 L694.6 344.6 L698.1 341.8 L701.6 339.0 L705.1 336.2 L708.6 333.3 L712.1 330.5 L715.6 327.6 L719.0 324.7 L722.5 321.9 L725.9 319.0 L729.4 316.1 L732.8 313.1 L736.2 310.2 L739.6 307.3 L743.0 304.3 L746.4 301.3 L749.7 298.3 L753.0 295.3 L756.3 292.2 L759.6 289.2 L762.9 286.1 L766.2 283.0 L769.4 279.8 L772.6 276.6 L775.7 273.4 L778.9 270.2 L782.0 267.0 L785.1 263.7 L788.1 260.4 L791.1 257.0 L794.1 253.6 L797.0 250.2 L799.9 246.8 L802.8 243.3 L805.6 239.8 L808.3 236.2 L811.0 232.6 L813.7 229.0 L816.3 225.3 L818.8 221.6 L821.3 217.8 L823.6 214.0 L825.9 210.1 L828.0 206.1 L830.0 202.1 L831.9 198.0 L833.7 193.9 L835.4 189.7 L836.9 185.5 L838.3 181.2 L839.7 176.9 L841.0 172.6 L842.2 168.3 L843.2 163.9 L844.2 159.5 L845.1 155.1 L845.7 150.7 L846.3 146.2 L846.7 141.7 L846.9 137.2 L847.2 132.7 L847.3 128.2 L847.5 123.7 L847.7 119.2 L847.8 114.7 L848.0 110.2 L848.1 105.7 L848.3 101.2 L848.6 96.7 L848.8 92.3 L849.1 87.8 L849.5 83.3 L849.9 78.8 L850.3 74.3 L850.7 69.8 L851.1 65.4 L851.5 60.9 L851.9 56.4 L852.3 51.9 L852.7 47.4 L853.0 42.9 L853.3 38.4 L853.6 34.0 L853.9 29.5 L854.2 25.0 L854.4 20.5 L854.6 16.0 L854.8 11.5 L855.1 7.0 L855.3 2.5 L855.5 -2.0 L855.7 -6.5 L855.7 -6.5"/><path d="M477.8 520.0 L481.3 517.2 L484.8 514.4 L488.3 511.6 L491.8 508.8 L495.3 505.9 L498.8 503.1 L502.4 500.3 L505.9 497.5 L509.4 494.7 L512.9 491.9 L516.4 489.1 L520.0 486.3 L523.5 483.5 L527.0 480.7 L530.5 477.9 L534.1 475.1 L537.6 472.3 L541.1 469.6 L544.7 466.8 L548.2 464.0 L551.7 461.2 L555.3 458.4 L558.8 455.7 L562.4 452.9 L565.9 450.1 L569.5 447.4 L573.0 444.6 L576.6 441.8 L580.1 439.1 L583.7 436.3 L587.3 433.6 L590.8 430.8 L594.4 428.1 L597.9 425.3 L601.5 422.6 L605.1 419.8 L608.6 417.1 L612.2 414.4 L615.8 411.6 L619.4 408.9 L622.9 406.2 L626.5 403.4 L630.1 400.7 L633.7 398.0 L637.3 395.2 L640.8 392.5 L644.4 389.8 L648.0 387.1 L651.6 384.4 L655.2 381.6 L658.8 378.9 L662.4 376.2 L665.9 373.5 L669.5 370.8 L673.1 368.0 L676.7 365.3 L680.3 362.6 L683.8 359.9 L687.4 357.1 L691.0 354.4 L694.6 351.7 L698.1 348.9 L701.7 346.2 L705.3 343.4 L708.8 340.7 L712.4 337.9 L715.9 335.1 L719.5 332.4 L723.0 329.6 L726.5 326.8 L730.0 324.0 L733.6 321.2 L737.1 318.3 L740.5 315.5 L744.0 312.6 L747.5 309.8 L750.9 306.9 L754.4 304.0 L757.8 301.1 L761.2 298.1 L764.6 295.2 L768.0 292.2 L771.3 289.2 L774.7 286.2 L778.0 283.1 L781.2 280.0 L784.5 276.9 L787.7 273.8 L790.9 270.6 L794.1 267.4 L797.2 264.2 L800.4 260.9 L803.4 257.7 L806.5 254.3 L809.5 251.0 L812.5 247.6 L815.4 244.2 L818.3 240.8 L821.2 237.3 L824.0 233.8 L826.7 230.2 L829.4 226.6 L832.1 223.0 L834.6 219.3 L837.0 215.5 L839.3 211.6 L841.5 207.7 L843.5 203.7 L845.3 199.5 L847.0 195.4 L848.6 191.1 L850.0 186.9 L851.4 182.6 L852.6 178.3 L853.9 173.9 L855.1 169.6 L856.2 165.3 L857.3 160.9 L858.3 156.5 L859.2 152.1 L859.9 147.7 L860.5 143.2 L860.9 138.7 L861.2 134.2 L861.4 129.7 L861.6 125.2 L861.8 120.7 L862.0 116.2 L862.2 111.7 L862.4 107.2 L862.6 102.7 L862.9 98.3 L863.2 93.8 L863.5 89.3 L863.9 84.8 L864.3 80.3 L864.7 75.8 L865.1 71.4 L865.6 66.9 L866.0 62.4 L866.4 57.9 L866.8 53.4 L867.1 48.9 L867.4 44.5 L867.7 40.0 L868.0 35.5 L868.2 31.0 L868.4 26.5 L868.6 22.0 L868.8 17.5 L868.9 13.0 L869.1 8.5 L869.3 4.0 L869.4 -0.5 L869.6 -5.0 L869.7 -6.5"/><path d="M481.7 520.1 L485.2 517.3 L488.7 514.5 L492.3 511.7 L495.8 508.9 L499.3 506.1 L502.8 503.3 L506.4 500.5 L509.9 497.7 L513.4 494.9 L517.0 492.1 L520.5 489.3 L524.0 486.6 L527.6 483.8 L531.1 481.0 L534.7 478.2 L538.2 475.5 L541.8 472.7 L545.3 469.9 L548.9 467.2 L552.4 464.4 L556.0 461.7 L559.5 458.9 L563.1 456.2 L566.7 453.4 L570.2 450.7 L573.8 447.9 L577.4 445.2 L580.9 442.5 L584.5 439.7 L588.1 437.0 L591.7 434.3 L595.3 431.6 L598.9 428.9 L602.4 426.1 L606.0 423.4 L609.6 420.7 L613.2 418.0 L616.8 415.3 L620.4 412.6 L624.0 409.9 L627.6 407.2 L631.2 404.5 L634.9 401.8 L638.5 399.2 L642.1 396.5 L645.7 393.8 L649.3 391.1 L652.9 388.4 L656.5 385.8 L660.2 383.1 L663.8 380.4 L667.4 377.7 L671.0 375.1 L674.6 372.4 L678.3 369.7 L681.9 367.1 L685.5 364.4 L689.1 361.7 L692.7 359.0 L696.4 356.4 L700.0 353.7 L703.6 351.0 L707.2 348.3 L710.8 345.6 L714.4 342.9 L718.0 340.2 L721.6 337.5 L725.2 334.8 L728.8 332.1 L732.4 329.4 L736.0 326.7 L739.5 323.9 L743.1 321.2 L746.6 318.4 L750.2 315.6 L753.7 312.8 L757.2 310.0 L760.7 307.2 L764.2 304.4 L767.7 301.5 L771.2 298.7 L774.6 295.8 L778.1 292.9 L781.5 289.9 L784.9 287.0 L788.2 284.0 L791.6 281.0 L794.9 277.9 L798.2 274.8 L801.4 271.7 L804.7 268.6 L807.9 265.5 L811.0 262.3 L814.2 259.0 L817.3 255.8 L820.4 252.5 L823.5 249.2 L826.5 245.9 L829.5 242.6 L832.5 239.2 L835.5 235.8 L838.4 232.4 L841.3 228.9 L844.1 225.4 L846.8 221.8 L849.4 218.2 L851.8 214.4 L854.1 210.5 L856.1 206.4 L857.9 202.3 L859.4 198.1 L860.9 193.8 L862.2 189.5 L863.4 185.2 L864.6 180.9 L865.8 176.5 L867.0 172.2 L868.2 167.9 L869.4 163.5 L870.5 159.2 L871.6 154.8 L872.6 150.4 L873.5 146.0 L874.2 141.6 L874.9 137.1 L875.4 132.6 L875.9 128.2 L876.3 123.7 L876.7 119.2 L877.0 114.7 L877.4 110.2 L877.8 105.7 L878.2 101.3 L878.6 96.8 L879.0 92.3 L879.5 87.8 L879.9 83.3 L880.4 78.9 L880.9 74.4 L881.3 69.9 L881.7 65.4 L882.1 60.9 L882.4 56.5 L882.8 52.0 L883.0 47.5 L883.3 43.0 L883.5 38.5 L883.6 34.0 L883.8 29.5 L883.9 25.0 L884.0 20.5 L884.1 16.0 L884.2 11.5 L884.3 7.0 L884.4 2.5 L884.5 -2.0 L884.6 -6.5 L884.6 -6.5"/><path d="M484.5 520.8 L488.0 518.0 L491.5 515.2 L495.1 512.4 L498.6 509.6 L502.1 506.8 L505.7 504.0 L509.2 501.3 L512.8 498.5 L516.3 495.7 L519.9 492.9 L523.4 490.2 L527.0 487.4 L530.5 484.6 L534.1 481.9 L537.6 479.1 L541.2 476.4 L544.7 473.6 L548.3 470.9 L551.9 468.2 L555.5 465.4 L559.0 462.7 L562.6 459.9 L566.2 457.2 L569.8 454.5 L573.4 451.8 L576.9 449.1 L580.5 446.4 L584.1 443.6 L587.7 440.9 L591.3 438.2 L594.9 435.5 L598.5 432.8 L602.1 430.2 L605.8 427.5 L609.4 424.8 L613.0 422.1 L616.6 419.4 L620.2 416.8 L623.8 414.1 L627.5 411.4 L631.1 408.8 L634.7 406.1 L638.4 403.5 L642.0 400.8 L645.6 398.2 L649.3 395.5 L652.9 392.9 L656.6 390.3 L660.2 387.6 L663.9 385.0 L667.5 382.4 L671.2 379.7 L674.8 377.1 L678.5 374.5 L682.1 371.9 L685.8 369.2 L689.5 366.6 L693.1 364.0 L696.8 361.4 L700.4 358.7 L704.1 356.1 L707.7 353.5 L711.4 350.9 L715.0 348.2 L718.7 345.6 L722.3 343.0 L726.0 340.3 L729.6 337.7 L733.3 335.0 L736.9 332.4 L740.5 329.7 L744.1 327.0 L747.8 324.4 L751.4 321.7 L755.0 319.0 L758.6 316.3 L762.1 313.5 L765.7 310.8 L769.3 308.1 L772.8 305.3 L776.4 302.5 L779.9 299.7 L783.4 296.9 L786.9 294.0 L790.3 291.1 L793.8 288.3 L797.2 285.3 L800.6 282.4 L804.0 279.4 L807.3 276.4 L810.6 273.4 L813.9 270.3 L817.2 267.2 L820.4 264.1 L823.7 260.9 L826.9 257.8 L830.0 254.6 L833.2 251.4 L836.3 248.2 L839.5 244.9 L842.6 241.7 L845.8 238.5 L848.9 235.2 L851.9 232.0 L855.0 228.6 L858.0 225.3 L860.8 221.8 L863.5 218.2 L866.0 214.4 L868.2 210.5 L870.1 206.4 L871.7 202.2 L873.1 197.9 L874.4 193.6 L875.6 189.3 L876.8 184.9 L877.9 180.6 L879.1 176.3 L880.3 171.9 L881.4 167.6 L882.6 163.2 L883.8 158.9 L884.9 154.5 L886.0 150.1 L887.0 145.8 L887.9 141.4 L888.7 136.9 L889.5 132.5 L890.2 128.1 L890.8 123.6 L891.4 119.1 L892.0 114.7 L892.6 110.2 L893.1 105.7 L893.6 101.3 L894.1 96.8 L894.6 92.3 L895.0 87.8 L895.5 83.4 L895.9 78.9 L896.3 74.4 L896.7 69.9 L897.1 65.4 L897.5 61.0 L897.8 56.5 L898.1 52.0 L898.3 47.5 L898.5 43.0 L898.7 38.5 L898.8 34.0 L898.9 29.5 L899.0 25.0 L899.1 20.5 L899.2 16.0 L899.2 11.5 L899.3 7.0 L899.4 2.5 L899.5 -2.0 L899.6 -6.5 L899.6 -6.5"/><path d="M488.7 520.1 L492.3 517.3 L495.8 514.6 L499.4 511.8 L502.9 509.0 L506.4 506.2 L510.0 503.5 L513.5 500.7 L517.1 498.0 L520.7 495.2 L524.2 492.4 L527.8 489.7 L531.4 486.9 L534.9 484.2 L538.5 481.5 L542.1 478.7 L545.6 476.0 L549.2 473.3 L552.8 470.6 L556.4 467.8 L560.0 465.1 L563.6 462.4 L567.2 459.7 L570.8 457.0 L574.4 454.3 L578.0 451.6 L581.6 448.9 L585.2 446.2 L588.8 443.5 L592.4 440.9 L596.0 438.2 L599.6 435.5 L603.3 432.9 L606.9 430.2 L610.5 427.5 L614.2 424.9 L617.8 422.2 L621.5 419.6 L625.1 417.0 L628.7 414.3 L632.4 411.7 L636.1 409.1 L639.7 406.4 L643.4 403.8 L647.0 401.2 L650.7 398.6 L654.4 396.0 L658.0 393.4 L661.7 390.8 L665.4 388.2 L669.1 385.6 L672.8 383.0 L676.4 380.4 L680.1 377.9 L683.8 375.3 L687.5 372.7 L691.2 370.1 L694.9 367.6 L698.6 365.0 L702.3 362.4 L706.0 359.8 L709.6 357.3 L713.3 354.7 L717.0 352.1 L720.7 349.5 L724.4 347.0 L728.1 344.4 L731.8 341.8 L735.5 339.2 L739.2 336.6 L742.8 334.0 L746.5 331.4 L750.2 328.8 L753.8 326.2 L757.5 323.6 L761.1 321.0 L764.8 318.3 L768.4 315.7 L772.1 313.0 L775.7 310.3 L779.3 307.7 L782.9 304.9 L786.4 302.2 L790.0 299.5 L793.6 296.7 L797.1 293.9 L800.6 291.1 L804.1 288.2 L807.6 285.4 L811.0 282.5 L814.4 279.5 L817.8 276.6 L821.2 273.6 L824.5 270.6 L827.8 267.5 L831.1 264.5 L834.4 261.4 L837.7 258.3 L840.9 255.2 L844.2 252.1 L847.4 249.0 L850.7 245.9 L854.0 242.8 L857.3 239.8 L860.6 236.7 L863.9 233.6 L867.1 230.5 L870.3 227.3 L873.4 224.1 L876.3 220.6 L879.0 217.0 L881.4 213.2 L883.4 209.2 L885.2 205.1 L886.7 200.8 L888.1 196.5 L889.4 192.2 L890.6 187.9 L891.8 183.6 L893.0 179.2 L894.2 174.9 L895.4 170.5 L896.5 166.2 L897.7 161.9 L898.9 157.5 L900.0 153.1 L901.0 148.8 L902.0 144.4 L902.9 140.0 L903.7 135.5 L904.5 131.1 L905.1 126.7 L905.8 122.2 L906.3 117.7 L906.9 113.3 L907.3 108.8 L907.8 104.3 L908.2 99.8 L908.6 95.3 L908.9 90.9 L909.3 86.4 L909.7 81.9 L910.0 77.4 L910.4 72.9 L910.7 68.4 L911.1 63.9 L911.4 59.5 L911.7 55.0 L912.0 50.5 L912.2 46.0 L912.4 41.5 L912.6 37.0 L912.7 32.5 L912.8 28.0 L913.0 23.5 L913.0 19.0 L913.1 14.5 L913.2 10.0 L913.3 5.5 L913.4 1.0 L913.5 -3.5 L913.6 -6.5"/><path d="M492.2 520.6 L495.7 517.8 L499.3 515.1 L502.8 512.3 L506.4 509.6 L509.9 506.8 L513.5 504.1 L517.1 501.3 L520.6 498.6 L524.2 495.8 L527.8 493.1 L531.4 490.4 L534.9 487.7 L538.5 484.9 L542.1 482.2 L545.7 479.5 L549.3 476.8 L552.9 474.1 L556.5 471.4 L560.1 468.7 L563.7 466.0 L567.3 463.3 L570.9 460.6 L574.5 458.0 L578.2 455.3 L581.8 452.6 L585.4 450.0 L589.0 447.3 L592.7 444.6 L596.3 442.0 L600.0 439.4 L603.6 436.7 L607.3 434.1 L610.9 431.5 L614.6 428.8 L618.2 426.2 L621.9 423.6 L625.6 421.0 L629.2 418.4 L632.9 415.8 L636.6 413.2 L640.3 410.6 L643.9 408.0 L647.6 405.5 L651.3 402.9 L655.0 400.3 L658.7 397.8 L662.4 395.2 L666.1 392.7 L669.8 390.1 L673.6 387.6 L677.3 385.0 L681.0 382.5 L684.7 380.0 L688.4 377.4 L692.2 374.9 L695.9 372.4 L699.6 369.9 L703.4 367.4 L707.1 364.8 L710.8 362.3 L714.6 359.8 L718.3 357.3 L722.0 354.8 L725.8 352.3 L729.5 349.8 L733.2 347.3 L737.0 344.8 L740.7 342.3 L744.5 339.8 L748.2 337.3 L751.9 334.7 L755.6 332.2 L759.4 329.7 L763.1 327.2 L766.8 324.6 L770.5 322.1 L774.2 319.5 L777.9 316.9 L781.6 314.4 L785.3 311.8 L788.9 309.2 L792.6 306.5 L796.2 303.9 L799.9 301.2 L803.5 298.6 L807.1 295.9 L810.7 293.1 L814.2 290.4 L817.7 287.6 L821.3 284.8 L824.7 281.9 L828.2 279.0 L831.6 276.1 L835.0 273.2 L838.4 270.2 L841.8 267.2 L845.1 264.2 L848.5 261.2 L851.8 258.2 L855.2 255.2 L858.6 252.2 L862.0 249.3 L865.4 246.3 L868.8 243.4 L872.2 240.5 L875.6 237.6 L879.0 234.6 L882.4 231.6 L885.6 228.5 L888.7 225.3 L891.6 221.8 L894.3 218.2 L896.7 214.4 L898.9 210.4 L900.8 206.4 L902.6 202.3 L904.2 198.1 L905.8 193.8 L907.2 189.6 L908.6 185.3 L910.0 181.0 L911.2 176.7 L912.5 172.4 L913.7 168.0 L914.8 163.7 L915.9 159.3 L916.9 154.9 L917.8 150.5 L918.6 146.1 L919.4 141.6 L920.1 137.2 L920.7 132.7 L921.3 128.3 L921.8 123.8 L922.2 119.3 L922.5 114.8 L922.9 110.4 L923.1 105.9 L923.4 101.4 L923.6 96.9 L923.9 92.4 L924.1 87.9 L924.4 83.4 L924.7 78.9 L925.0 74.4 L925.3 69.9 L925.5 65.4 L925.8 60.9 L926.1 56.4 L926.3 52.0 L926.6 47.5 L926.8 43.0 L927.0 38.5 L927.2 34.0 L927.4 29.5 L927.6 25.0 L927.7 20.5 L927.9 16.0 L928.0 11.5 L928.2 7.0 L928.3 2.5 L928.5 -2.0 L928.7 -6.5 L928.7 -6.5"/><path d="M498.6 520.1 L502.2 517.3 L505.8 514.6 L509.3 511.9 L512.9 509.1 L516.5 506.4 L520.1 503.7 L523.7 501.0 L527.3 498.3 L530.9 495.6 L534.5 492.9 L538.1 490.2 L541.7 487.5 L545.3 484.8 L548.9 482.1 L552.5 479.4 L556.1 476.7 L559.7 474.1 L563.4 471.4 L567.0 468.7 L570.6 466.1 L574.3 463.4 L577.9 460.8 L581.6 458.2 L585.2 455.5 L588.9 452.9 L592.5 450.3 L596.2 447.7 L599.8 445.0 L603.5 442.4 L607.2 439.8 L610.9 437.3 L614.6 434.7 L618.2 432.1 L621.9 429.5 L625.6 427.0 L629.3 424.4 L633.0 421.8 L636.7 419.3 L640.5 416.8 L644.2 414.2 L647.9 411.7 L651.6 409.2 L655.4 406.7 L659.1 404.2 L662.8 401.7 L666.6 399.2 L670.3 396.7 L674.1 394.2 L677.9 391.7 L681.6 389.2 L685.4 386.8 L689.1 384.3 L692.9 381.9 L696.7 379.4 L700.5 377.0 L704.3 374.5 L708.0 372.1 L711.8 369.7 L715.6 367.3 L719.4 364.8 L723.2 362.4 L727.0 360.0 L730.8 357.6 L734.6 355.2 L738.4 352.8 L742.2 350.4 L746.0 348.0 L749.8 345.6 L753.7 343.2 L757.5 340.8 L761.3 338.4 L765.1 336.0 L768.9 333.6 L772.7 331.2 L776.5 328.8 L780.3 326.4 L784.1 323.9 L787.9 321.5 L791.6 319.1 L795.4 316.6 L799.2 314.2 L803.0 311.7 L806.7 309.2 L810.5 306.7 L814.2 304.2 L817.9 301.7 L821.6 299.1 L825.3 296.5 L828.9 293.9 L832.6 291.3 L836.2 288.6 L839.8 285.9 L843.3 283.1 L846.8 280.3 L850.3 277.4 L853.8 274.6 L857.2 271.7 L860.6 268.7 L864.1 265.8 L867.5 262.9 L870.9 260.0 L874.4 257.1 L877.8 254.2 L881.2 251.3 L884.7 248.4 L888.1 245.5 L891.6 242.6 L894.9 239.6 L898.2 236.5 L901.4 233.3 L904.3 229.9 L907.1 226.4 L909.7 222.7 L912.1 218.9 L914.3 215.0 L916.3 211.0 L918.3 206.9 L920.0 202.8 L921.7 198.6 L923.3 194.4 L924.7 190.1 L926.1 185.8 L927.4 181.5 L928.6 177.2 L929.7 172.8 L930.6 168.4 L931.5 164.0 L932.4 159.6 L933.1 155.1 L933.8 150.7 L934.5 146.2 L935.1 141.8 L935.6 137.3 L936.1 132.8 L936.5 128.4 L936.9 123.9 L937.2 119.4 L937.5 114.9 L937.8 110.4 L938.0 105.9 L938.2 101.4 L938.4 96.9 L938.6 92.4 L938.8 87.9 L939.0 83.4 L939.2 78.9 L939.5 74.4 L939.7 69.9 L939.9 65.4 L940.1 61.0 L940.3 56.5 L940.5 52.0 L940.7 47.5 L940.9 43.0 L941.1 38.5 L941.3 34.0 L941.5 29.5 L941.6 25.0 L941.8 20.5 L941.9 16.0 L942.1 11.5 L942.2 7.0 L942.3 2.5 L942.5 -2.0 L942.7 -6.5 L942.7 -6.5"/><path d="M505.4 520.6 L509.0 517.9 L512.6 515.1 L516.2 512.4 L519.8 509.8 L523.4 507.1 L527.0 504.4 L530.7 501.7 L534.3 499.0 L537.9 496.3 L541.5 493.7 L545.1 491.0 L548.8 488.4 L552.4 485.7 L556.1 483.1 L559.7 480.4 L563.4 477.8 L567.0 475.2 L570.7 472.6 L574.3 469.9 L578.0 467.3 L581.7 464.7 L585.3 462.1 L589.0 459.5 L592.7 457.0 L596.4 454.4 L600.1 451.8 L603.8 449.3 L607.5 446.7 L611.2 444.2 L614.9 441.6 L618.7 439.1 L622.4 436.6 L626.1 434.1 L629.9 431.6 L633.6 429.1 L637.3 426.6 L641.1 424.1 L644.9 421.6 L648.6 419.1 L652.4 416.7 L656.2 414.2 L659.9 411.8 L663.7 409.4 L667.5 406.9 L671.3 404.5 L675.1 402.1 L678.9 399.7 L682.7 397.3 L686.5 394.9 L690.4 392.5 L694.2 390.2 L698.0 387.8 L701.9 385.5 L705.7 383.1 L709.5 380.8 L713.4 378.5 L717.3 376.1 L721.1 373.8 L725.0 371.5 L728.8 369.2 L732.7 366.9 L736.6 364.6 L740.5 362.4 L744.4 360.1 L748.2 357.8 L752.1 355.6 L756.0 353.3 L759.9 351.1 L763.8 348.8 L767.7 346.6 L771.6 344.3 L775.5 342.1 L779.4 339.9 L783.3 337.6 L787.3 335.4 L791.2 333.2 L795.1 330.9 L799.0 328.7 L802.9 326.5 L806.8 324.3 L810.7 322.0 L814.6 319.8 L818.5 317.6 L822.4 315.3 L826.3 313.1 L830.2 310.8 L834.1 308.6 L838.0 306.3 L841.9 304.0 L845.7 301.7 L849.5 299.3 L853.4 296.9 L857.1 294.4 L860.9 291.9 L864.6 289.4 L868.2 286.7 L871.8 284.0 L875.3 281.3 L878.9 278.4 L882.3 275.6 L885.8 272.7 L889.2 269.8 L892.7 266.9 L896.1 263.9 L899.4 261.0 L902.8 258.0 L906.1 254.9 L909.3 251.7 L912.4 248.5 L915.4 245.1 L918.3 241.7 L921.0 238.1 L923.6 234.4 L926.0 230.6 L928.3 226.8 L930.5 222.8 L932.5 218.8 L934.4 214.7 L936.1 210.5 L937.6 206.3 L939.1 202.0 L940.4 197.7 L941.7 193.4 L943.0 189.1 L944.1 184.8 L945.2 180.4 L946.2 176.0 L947.0 171.6 L947.7 167.1 L948.3 162.7 L948.8 158.2 L949.4 153.7 L950.0 149.3 L950.5 144.8 L950.9 140.3 L951.3 135.8 L951.6 131.4 L952.0 126.9 L952.3 122.4 L952.6 117.9 L952.9 113.4 L953.2 108.9 L953.5 104.4 L953.7 99.9 L953.9 95.4 L954.2 90.9 L954.4 86.4 L954.6 81.9 L954.9 77.5 L955.1 73.0 L955.2 68.5 L955.4 64.0 L955.6 59.5 L955.7 55.0 L955.9 50.5 L956.0 46.0 L956.2 41.5 L956.4 37.0 L956.5 32.5 L956.7 28.0 L956.8 23.5 L956.9 19.0 L957.0 14.5 L957.2 10.0 L957.3 5.5 L957.4 1.0 L957.5 -3.5 L957.6 -6.5"/><path d="M510.6 520.0 L514.2 517.4 L517.8 514.7 L521.5 512.0 L525.1 509.3 L528.7 506.7 L532.3 504.0 L536.0 501.3 L539.6 498.7 L543.2 496.0 L546.9 493.4 L550.5 490.8 L554.2 488.1 L557.8 485.5 L561.5 482.9 L565.2 480.3 L568.8 477.7 L572.5 475.1 L576.2 472.5 L579.9 469.9 L583.6 467.3 L587.3 464.8 L591.0 462.2 L594.7 459.6 L598.4 457.1 L602.1 454.6 L605.8 452.0 L609.5 449.5 L613.3 447.0 L617.0 444.5 L620.7 442.0 L624.5 439.5 L628.2 437.0 L632.0 434.5 L635.8 432.1 L639.5 429.6 L643.3 427.2 L647.1 424.7 L650.9 422.3 L654.7 419.9 L658.5 417.5 L662.3 415.1 L666.1 412.7 L669.9 410.3 L673.7 407.9 L677.6 405.6 L681.4 403.2 L685.3 400.9 L689.1 398.5 L693.0 396.2 L696.8 393.9 L700.7 391.6 L704.5 389.3 L708.4 387.0 L712.3 384.7 L716.2 382.5 L720.1 380.2 L724.0 377.9 L727.9 375.7 L731.8 373.5 L735.7 371.2 L739.6 369.0 L743.5 366.8 L747.5 364.6 L751.4 362.4 L755.3 360.3 L759.3 358.1 L763.2 355.9 L767.2 353.8 L771.1 351.6 L775.1 349.5 L779.0 347.3 L783.0 345.2 L787.0 343.1 L790.9 341.0 L794.9 338.9 L798.9 336.8 L802.9 334.7 L806.9 332.6 L810.9 330.5 L814.8 328.4 L818.8 326.3 L822.8 324.3 L826.8 322.2 L830.8 320.2 L834.9 318.1 L838.9 316.1 L842.9 314.0 L846.9 312.0 L850.9 310.0 L854.9 307.9 L858.9 305.9 L862.9 303.8 L866.9 301.7 L870.9 299.6 L874.8 297.4 L878.7 295.1 L882.5 292.7 L886.3 290.3 L890.0 287.8 L893.7 285.2 L897.3 282.5 L900.8 279.7 L904.3 276.9 L907.8 274.0 L911.1 271.0 L914.4 268.0 L917.7 264.8 L920.8 261.6 L923.9 258.3 L926.9 254.9 L929.7 251.5 L932.5 247.9 L935.1 244.2 L937.6 240.5 L940.0 236.7 L942.2 232.8 L944.3 228.8 L946.3 224.8 L948.2 220.7 L949.9 216.5 L951.4 212.3 L952.7 208.0 L954.0 203.6 L955.1 199.3 L956.3 195.0 L957.5 190.6 L958.6 186.3 L959.7 181.9 L960.7 177.5 L961.4 173.1 L962.0 168.6 L962.6 164.1 L963.1 159.7 L963.7 155.2 L964.2 150.7 L964.7 146.3 L965.2 141.8 L965.6 137.3 L965.9 132.8 L966.2 128.3 L966.5 123.8 L966.9 119.4 L967.2 114.9 L967.6 110.4 L967.9 105.9 L968.2 101.4 L968.5 96.9 L968.8 92.4 L969.1 87.9 L969.4 83.4 L969.6 78.9 L969.8 74.5 L970.0 70.0 L970.2 65.5 L970.4 61.0 L970.5 56.5 L970.7 52.0 L970.9 47.5 L971.0 43.0 L971.2 38.5 L971.4 34.0 L971.6 29.5 L971.7 25.0 L971.8 20.5 L972.0 16.0 L972.1 11.5 L972.2 7.0 L972.4 2.5 L972.5 -2.0 L972.7 -6.5 L972.7 -6.5"/><path d="M512.6 520.4 L516.2 517.7 L519.9 515.0 L523.5 512.3 L527.1 509.7 L530.7 507.0 L534.4 504.4 L538.0 501.7 L541.7 499.1 L545.3 496.4 L549.0 493.8 L552.6 491.2 L556.3 488.6 L560.0 486.0 L563.6 483.4 L567.3 480.8 L571.0 478.2 L574.7 475.6 L578.4 473.0 L582.0 470.4 L585.7 467.9 L589.5 465.3 L593.2 462.8 L596.9 460.2 L600.6 457.7 L604.3 455.2 L608.1 452.7 L611.8 450.2 L615.5 447.7 L619.3 445.2 L623.0 442.7 L626.8 440.2 L630.6 437.8 L634.3 435.3 L638.1 432.9 L641.9 430.4 L645.7 428.0 L649.5 425.6 L653.3 423.2 L657.1 420.8 L660.9 418.4 L664.7 416.0 L668.6 413.7 L672.4 411.3 L676.3 409.0 L680.1 406.6 L683.9 404.3 L687.8 402.0 L691.7 399.7 L695.5 397.4 L699.4 395.1 L703.3 392.8 L707.2 390.6 L711.1 388.3 L715.0 386.1 L718.9 383.8 L722.8 381.6 L726.7 379.4 L730.7 377.2 L734.6 375.0 L738.5 372.8 L742.5 370.7 L746.4 368.5 L750.4 366.3 L754.3 364.2 L758.3 362.1 L762.2 359.9 L766.2 357.8 L770.2 355.7 L774.2 353.6 L778.2 351.5 L782.1 349.5 L786.1 347.4 L790.1 345.3 L794.1 343.3 L798.2 341.2 L802.2 339.2 L806.2 337.2 L810.2 335.1 L814.2 333.1 L818.3 331.1 L822.3 329.2 L826.4 327.2 L830.4 325.2 L834.5 323.3 L838.5 321.4 L842.6 319.5 L846.7 317.6 L850.8 315.7 L854.9 313.9 L859.0 312.0 L863.1 310.2 L867.2 308.4 L871.4 306.6 L875.5 304.7 L879.5 302.9 L883.6 300.9 L887.6 298.9 L891.6 296.8 L895.5 294.6 L899.4 292.3 L903.2 289.9 L906.9 287.3 L910.5 284.7 L914.1 281.9 L917.6 279.1 L921.0 276.1 L924.3 273.1 L927.6 270.0 L930.7 266.8 L933.8 263.5 L936.8 260.1 L939.7 256.7 L942.5 253.2 L945.2 249.6 L947.7 245.8 L950.1 242.0 L952.2 238.1 L954.3 234.1 L956.3 230.0 L958.3 226.0 L960.2 221.9 L962.0 217.8 L963.5 213.6 L964.9 209.3 L966.1 204.9 L967.3 200.6 L968.5 196.3 L969.7 191.9 L970.8 187.6 L972.0 183.2 L973.0 178.8 L973.8 174.4 L974.6 170.0 L975.3 165.5 L975.9 161.1 L976.5 156.6 L977.1 152.2 L977.7 147.7 L978.2 143.2 L978.7 138.8 L979.1 134.3 L979.5 129.8 L979.9 125.3 L980.3 120.8 L980.7 116.4 L981.0 111.9 L981.3 107.4 L981.6 102.9 L981.9 98.4 L982.1 93.9 L982.4 89.4 L982.7 84.9 L982.9 80.4 L983.2 75.9 L983.4 71.4 L983.6 66.9 L983.8 62.4 L984.0 57.9 L984.2 53.5 L984.4 49.0 L984.6 44.5 L984.8 40.0 L985.0 35.5 L985.2 31.0 L985.4 26.5 L985.6 22.0 L985.8 17.5 L985.9 13.0 L986.1 8.5 L986.3 4.0 L986.4 -0.5 L986.6 -5.0 L986.7 -6.5"/><path d="M514.4 520.8 L518.0 518.1 L521.6 515.5 L525.3 512.8 L528.9 510.2 L532.5 507.5 L536.2 504.9 L539.8 502.2 L543.5 499.6 L547.1 497.0 L550.8 494.4 L554.5 491.8 L558.1 489.2 L561.8 486.6 L565.5 484.0 L569.2 481.4 L572.9 478.8 L576.6 476.2 L580.3 473.7 L584.0 471.1 L587.7 468.6 L591.4 466.0 L595.1 463.5 L598.8 461.0 L602.6 458.5 L606.3 456.0 L610.0 453.5 L613.8 451.0 L617.5 448.5 L621.3 446.0 L625.1 443.6 L628.9 441.1 L632.6 438.7 L636.4 436.2 L640.2 433.8 L644.0 431.4 L647.8 429.0 L651.6 426.6 L655.4 424.2 L659.3 421.9 L663.1 419.5 L666.9 417.1 L670.8 414.8 L674.6 412.5 L678.5 410.1 L682.3 407.8 L686.2 405.5 L690.1 403.3 L694.0 401.0 L697.9 398.7 L701.7 396.5 L705.6 394.2 L709.6 392.0 L713.5 389.8 L717.4 387.5 L721.3 385.3 L725.2 383.2 L729.2 381.0 L733.1 378.8 L737.1 376.7 L741.0 374.5 L745.0 372.4 L749.0 370.3 L752.9 368.2 L756.9 366.1 L760.9 364.0 L764.9 361.9 L768.9 359.8 L772.9 357.8 L776.9 355.7 L780.9 353.7 L784.9 351.6 L789.0 349.6 L793.0 347.6 L797.0 345.6 L801.1 343.7 L805.1 341.7 L809.2 339.7 L813.2 337.8 L817.3 335.9 L821.4 333.9 L825.4 332.1 L829.5 330.2 L833.6 328.3 L837.7 326.5 L841.9 324.7 L846.0 322.9 L850.2 321.2 L854.3 319.5 L858.5 317.9 L862.7 316.3 L866.9 314.7 L871.2 313.1 L875.4 311.6 L879.7 310.2 L883.9 308.7 L888.1 307.2 L892.4 305.6 L896.5 303.9 L900.7 302.1 L904.7 300.2 L908.7 298.1 L912.6 295.9 L916.4 293.5 L920.2 291.0 L923.8 288.4 L927.4 285.6 L930.9 282.8 L934.4 279.9 L937.7 276.9 L941.0 273.8 L944.1 270.6 L947.1 267.2 L950.0 263.8 L952.9 260.4 L955.8 256.9 L958.6 253.4 L961.3 249.7 L963.6 245.9 L965.6 241.9 L967.6 237.9 L969.6 233.8 L971.6 229.8 L973.6 225.7 L975.5 221.7 L977.3 217.5 L979.0 213.4 L980.6 209.2 L982.1 204.9 L983.5 200.7 L984.8 196.4 L986.1 192.0 L987.2 187.7 L988.3 183.3 L989.3 178.9 L990.2 174.5 L991.0 170.1 L991.7 165.6 L992.3 161.2 L992.9 156.7 L993.4 152.2 L993.9 147.8 L994.4 143.3 L994.9 138.8 L995.3 134.3 L995.6 129.9 L996.0 125.4 L996.3 120.9 L996.6 116.4 L996.9 111.9 L997.1 107.4 L997.3 102.9 L997.5 98.4 L997.7 93.9 L997.9 89.4 L998.1 84.9 L998.3 80.4 L998.6 75.9 L998.8 71.4 L999.0 67.0 L999.1 62.5 L999.3 58.0 L999.5 53.5 L999.6 49.0 L999.8 44.5 L1000.0 40.0 L1000.2 35.5 L1000.4 31.0 L1000.5 26.5 L1000.7 22.0 L1000.8 17.5 L1001.0 13.0 L1001.1 8.5 L1001.3 4.0 L1001.4 -0.5 L1001.6 -5.0 L1001.7 -6.5"/><path d="M517.3 520.4 L520.9 517.7 L524.5 515.1 L528.2 512.4 L531.8 509.8 L535.5 507.2 L539.1 504.5 L542.8 501.9 L546.4 499.3 L550.1 496.7 L553.8 494.1 L557.4 491.5 L561.1 488.9 L564.8 486.3 L568.5 483.7 L572.2 481.2 L575.9 478.6 L579.6 476.1 L583.3 473.5 L587.0 471.0 L590.7 468.5 L594.5 465.9 L598.2 463.4 L601.9 460.9 L605.7 458.4 L609.4 455.9 L613.2 453.5 L617.0 451.0 L620.7 448.5 L624.5 446.1 L628.3 443.6 L632.1 441.2 L635.9 438.8 L639.7 436.4 L643.5 434.0 L647.3 431.6 L651.1 429.2 L654.9 426.8 L658.8 424.5 L662.6 422.1 L666.4 419.8 L670.3 417.5 L674.2 415.2 L678.0 412.9 L681.9 410.6 L685.8 408.3 L689.7 406.0 L693.6 403.8 L697.5 401.5 L701.4 399.3 L705.3 397.1 L709.2 394.9 L713.1 392.7 L717.1 390.5 L721.0 388.3 L724.9 386.1 L728.9 384.0 L732.9 381.9 L736.8 379.7 L740.8 377.6 L744.8 375.5 L748.8 373.4 L752.8 371.3 L756.8 369.3 L760.8 367.2 L764.8 365.2 L768.8 363.2 L772.8 361.1 L776.8 359.1 L780.9 357.1 L784.9 355.2 L789.0 353.2 L793.0 351.2 L797.1 349.3 L801.1 347.4 L805.2 345.5 L809.3 343.6 L813.4 341.7 L817.5 339.8 L821.6 338.0 L825.7 336.1 L829.8 334.4 L834.0 332.6 L838.1 330.8 L842.3 329.1 L846.5 327.5 L850.7 325.9 L854.9 324.3 L859.1 322.8 L863.4 321.4 L867.7 320.0 L872.0 318.8 L876.3 317.5 L880.7 316.4 L885.0 315.3 L889.4 314.2 L893.8 313.1 L898.1 311.9 L902.4 310.7 L906.7 309.3 L910.9 307.7 L915.1 305.9 L919.1 304.0 L923.1 301.9 L927.0 299.6 L930.8 297.2 L934.5 294.7 L938.2 292.1 L941.8 289.5 L945.4 286.7 L949.0 284.0 L952.6 281.2 L956.0 278.4 L959.2 275.2 L962.3 271.9 L965.2 268.5 L968.1 265.0 L970.9 261.5 L973.7 258.0 L976.2 254.3 L978.7 250.5 L981.0 246.6 L983.1 242.7 L985.1 238.6 L987.1 234.6 L989.0 230.5 L990.9 226.4 L992.8 222.4 L994.6 218.2 L996.2 214.1 L997.7 209.8 L998.8 205.4 L999.9 201.1 L1000.9 196.7 L1001.9 192.3 L1002.9 187.9 L1003.8 183.5 L1004.7 179.1 L1005.4 174.6 L1006.0 170.2 L1006.5 165.7 L1007.0 161.2 L1007.5 156.8 L1007.9 152.3 L1008.4 147.8 L1008.8 143.3 L1009.2 138.8 L1009.5 134.4 L1009.8 129.9 L1010.1 125.4 L1010.5 120.9 L1010.8 116.4 L1011.1 111.9 L1011.3 107.4 L1011.6 102.9 L1011.8 98.4 L1012.0 93.9 L1012.3 89.4 L1012.5 84.9 L1012.7 80.5 L1012.9 76.0 L1013.1 71.5 L1013.3 67.0 L1013.4 62.5 L1013.6 58.0 L1013.7 53.5 L1013.9 49.0 L1014.1 44.5 L1014.3 40.0 L1014.4 35.5 L1014.6 31.0 L1014.7 26.5 L1014.8 22.0 L1015.0 17.5 L1015.1 13.0 L1015.2 8.5 L1015.3 4.0 L1015.5 -0.5 L1015.6 -5.0 L1015.6 -6.5"/><path d="M519.1 520.8 L522.7 518.1 L526.4 515.5 L530.0 512.8 L533.7 510.2 L537.3 507.6 L541.0 505.0 L544.6 502.4 L548.3 499.8 L552.0 497.2 L555.7 494.6 L559.3 492.0 L563.0 489.4 L566.7 486.8 L570.4 484.3 L574.1 481.7 L577.8 479.2 L581.6 476.6 L585.3 474.1 L589.0 471.6 L592.7 469.1 L596.5 466.6 L600.2 464.1 L604.0 461.6 L607.7 459.1 L611.5 456.6 L615.2 454.2 L619.0 451.7 L622.8 449.3 L626.6 446.8 L630.4 444.4 L634.2 442.0 L638.0 439.6 L641.8 437.2 L645.6 434.8 L649.4 432.5 L653.3 430.1 L657.1 427.8 L661.0 425.4 L664.8 423.1 L668.7 420.8 L672.5 418.5 L676.4 416.2 L680.3 413.9 L684.2 411.7 L688.1 409.4 L692.0 407.2 L695.9 404.9 L699.8 402.7 L703.7 400.5 L707.7 398.3 L711.6 396.2 L715.6 394.0 L719.5 391.8 L723.5 389.7 L727.4 387.6 L731.4 385.5 L735.4 383.4 L739.4 381.3 L743.4 379.2 L747.4 377.1 L751.4 375.1 L755.4 373.0 L759.4 371.0 L763.4 369.0 L767.5 367.0 L771.5 365.0 L775.5 363.1 L779.6 361.1 L783.7 359.2 L787.7 357.2 L791.8 355.3 L795.9 353.4 L800.0 351.5 L804.1 349.7 L808.2 347.8 L812.3 346.0 L816.4 344.2 L820.5 342.4 L824.7 340.6 L828.8 338.9 L833.0 337.2 L837.2 335.5 L841.4 333.9 L845.6 332.3 L849.8 330.8 L854.1 329.4 L858.3 328.0 L862.6 326.7 L867.0 325.4 L871.3 324.3 L875.7 323.3 L880.1 322.4 L884.5 321.5 L889.0 320.7 L893.4 320.0 L897.8 319.2 L902.3 318.4 L906.7 317.6 L911.1 316.5 L915.4 315.3 L919.6 313.8 L923.8 312.1 L927.9 310.3 L932.0 308.4 L936.0 306.3 L939.9 304.1 L943.8 301.8 L947.6 299.4 L951.3 296.8 L955.0 294.3 L958.7 291.7 L962.3 289.1 L966.0 286.5 L969.6 283.8 L973.0 280.8 L976.2 277.6 L979.1 274.2 L981.8 270.6 L984.3 266.9 L986.7 263.0 L989.1 259.2 L991.5 255.4 L993.8 251.6 L996.0 247.6 L998.0 243.6 L999.9 239.5 L1001.8 235.5 L1003.7 231.4 L1005.6 227.3 L1007.4 223.2 L1009.0 219.0 L1010.5 214.7 L1011.6 210.4 L1012.6 206.0 L1013.6 201.6 L1014.5 197.2 L1015.5 192.8 L1016.5 188.4 L1017.4 184.0 L1018.3 179.6 L1019.1 175.2 L1019.7 170.7 L1020.2 166.2 L1020.7 161.8 L1021.2 157.3 L1021.7 152.8 L1022.2 148.3 L1022.7 143.9 L1023.1 139.4 L1023.5 134.9 L1023.9 130.4 L1024.2 125.9 L1024.6 121.4 L1024.9 117.0 L1025.3 112.5 L1025.7 108.0 L1026.0 103.5 L1026.3 99.0 L1026.7 94.5 L1027.0 90.0 L1027.3 85.5 L1027.5 81.1 L1027.8 76.6 L1028.0 72.1 L1028.3 67.6 L1028.5 63.1 L1028.7 58.6 L1028.8 54.1 L1029.0 49.6 L1029.2 45.1 L1029.4 40.6 L1029.6 36.1 L1029.8 31.6 L1029.9 27.1 L1030.0 24.1"/><path d="M521.6 520.6 L525.2 518.0 L528.9 515.4 L532.5 512.7 L536.2 510.1 L539.8 507.5 L543.5 504.9 L547.2 502.3 L550.9 499.7 L554.5 497.1 L558.2 494.5 L561.9 492.0 L565.6 489.4 L569.3 486.9 L573.0 484.3 L576.8 481.8 L580.5 479.2 L584.2 476.7 L587.9 474.2 L591.7 471.7 L595.4 469.2 L599.2 466.7 L602.9 464.2 L606.7 461.8 L610.4 459.3 L614.2 456.8 L618.0 454.4 L621.8 452.0 L625.6 449.5 L629.4 447.1 L633.2 444.7 L637.0 442.3 L640.8 440.0 L644.6 437.6 L648.5 435.2 L652.3 432.9 L656.2 430.6 L660.0 428.2 L663.9 425.9 L667.8 423.6 L671.6 421.3 L675.5 419.1 L679.4 416.8 L683.3 414.6 L687.2 412.3 L691.1 410.1 L695.0 407.9 L699.0 405.7 L702.9 403.5 L706.8 401.3 L710.8 399.2 L714.7 397.0 L718.7 394.9 L722.7 392.8 L726.6 390.7 L730.6 388.6 L734.6 386.5 L738.6 384.4 L742.6 382.4 L746.6 380.4 L750.7 378.3 L754.7 376.3 L758.7 374.3 L762.8 372.4 L766.8 370.4 L770.9 368.4 L774.9 366.5 L779.0 364.6 L783.1 362.7 L787.2 360.8 L791.3 358.9 L795.4 357.1 L799.5 355.2 L803.6 353.4 L807.7 351.6 L811.9 349.8 L816.0 348.1 L820.1 346.4 L824.3 344.7 L828.5 343.0 L832.7 341.3 L836.9 339.7 L841.1 338.2 L845.3 336.7 L849.6 335.2 L853.9 333.8 L858.2 332.5 L862.5 331.3 L866.9 330.2 L871.3 329.2 L875.7 328.3 L880.1 327.6 L884.6 326.9 L889.0 326.3 L893.5 325.7 L898.0 325.2 L902.4 324.6 L906.9 324.0 L911.3 323.3 L915.7 322.4 L920.1 321.3 L924.4 320.0 L928.7 318.5 L932.8 316.9 L937.0 315.2 L941.2 313.5 L945.3 311.7 L949.4 309.9 L953.5 308.0 L957.5 305.9 L961.4 303.6 L965.1 301.1 L968.8 298.6 L972.5 295.9 L976.0 293.1 L979.3 290.1 L982.6 287.0 L985.8 283.8 L988.9 280.6 L991.8 277.2 L994.5 273.6 L997.0 269.8 L999.5 266.1 L1001.9 262.3 L1004.2 258.4 L1006.5 254.5 L1008.7 250.6 L1010.7 246.6 L1012.6 242.5 L1014.3 238.4 L1016.0 234.2 L1017.7 230.0 L1019.4 225.8 L1021.1 221.7 L1022.7 217.5 L1024.2 213.2 L1025.6 208.9 L1026.8 204.6 L1028.0 200.3 L1029.1 195.9 L1030.2 191.6 L1030.2 191.6"/><path d="M523.6 520.8 L527.3 518.2 L530.9 515.5 L534.6 512.9 L538.2 510.3 L541.9 507.7 L545.6 505.1 L549.3 502.5 L553.0 500.0 L556.6 497.4 L560.3 494.8 L564.0 492.3 L567.8 489.7 L571.5 487.2 L575.2 484.6 L578.9 482.1 L582.6 479.6 L586.4 477.1 L590.1 474.6 L593.9 472.1 L597.6 469.6 L601.4 467.1 L605.1 464.7 L608.9 462.2 L612.7 459.8 L616.5 457.3 L620.3 454.9 L624.1 452.5 L627.9 450.1 L631.7 447.7 L635.5 445.3 L639.3 442.9 L643.2 440.6 L647.0 438.2 L650.8 435.9 L654.7 433.6 L658.6 431.3 L662.4 429.0 L666.3 426.7 L670.2 424.4 L674.1 422.1 L678.0 419.9 L681.9 417.7 L685.8 415.4 L689.7 413.2 L693.6 411.0 L697.6 408.8 L701.5 406.7 L705.5 404.5 L709.4 402.4 L713.4 400.2 L717.3 398.1 L721.3 396.0 L725.3 393.9 L729.3 391.9 L733.3 389.8 L737.3 387.8 L741.3 385.7 L745.4 383.7 L749.4 381.7 L753.4 379.8 L757.5 377.8 L761.5 375.8 L765.6 373.9 L769.7 372.0 L773.8 370.1 L777.8 368.2 L781.9 366.3 L786.0 364.5 L790.1 362.6 L794.3 360.8 L798.4 359.0 L802.5 357.2 L806.7 355.5 L810.8 353.8 L815.0 352.0 L819.1 350.4 L823.3 348.7 L827.5 347.1 L831.7 345.5 L836.0 343.9 L840.2 342.4 L844.5 341.0 L848.7 339.6 L853.0 338.2 L857.4 337.0 L861.7 335.8 L866.1 334.8 L870.5 333.8 L874.9 333.0 L879.4 332.3 L883.8 331.7 L888.3 331.2 L892.8 330.7 L897.2 330.3 L901.7 329.8 L906.2 329.4 L910.7 328.9 L915.1 328.2 L919.5 327.4 L923.9 326.3 L928.2 325.0 L932.5 323.7 L936.8 322.2 L941.0 320.7 L945.3 319.3 L949.5 317.9 L953.8 316.5 L958.1 315.2 L962.4 313.8 L966.7 312.3 L970.8 310.5 L974.8 308.4 L978.7 306.2 L982.5 303.9 L986.2 301.2 L989.5 298.2 L992.8 295.1 L996.0 291.9 L999.1 288.7 L1002.3 285.5 L1005.3 282.2 L1008.1 278.7 L1010.8 275.1 L1013.3 271.3 L1015.5 267.4 L1017.7 263.5 L1019.8 259.5 L1021.9 255.5 L1024.0 251.5 L1026.0 247.5 L1027.9 243.4 L1029.6 239.3 L1030.2 237.9"/><path d="M526.8 520.4 L530.4 517.8 L534.1 515.2 L537.8 512.6 L541.4 510.0 L545.1 507.4 L548.8 504.8 L552.5 502.2 L556.2 499.7 L559.9 497.1 L563.6 494.6 L567.3 492.0 L571.0 489.5 L574.8 487.0 L578.5 484.5 L582.2 481.9 L586.0 479.4 L589.7 477.0 L593.5 474.5 L597.2 472.0 L601.0 469.5 L604.8 467.1 L608.6 464.6 L612.3 462.2 L616.1 459.8 L619.9 457.4 L623.7 455.0 L627.6 452.6 L631.4 450.2 L635.2 447.8 L639.0 445.5 L642.9 443.1 L646.7 440.8 L650.6 438.5 L654.4 436.2 L658.3 433.9 L662.2 431.6 L666.1 429.3 L670.0 427.1 L673.9 424.8 L677.8 422.6 L681.7 420.4 L685.6 418.2 L689.5 416.0 L693.5 413.8 L697.4 411.6 L701.4 409.5 L705.3 407.4 L709.3 405.2 L713.3 403.1 L717.3 401.0 L721.3 399.0 L725.3 396.9 L729.3 394.9 L733.3 392.8 L737.3 390.8 L741.4 388.8 L745.4 386.8 L749.4 384.9 L753.5 382.9 L757.6 381.0 L761.6 379.1 L765.7 377.2 L769.8 375.3 L773.9 373.5 L778.0 371.6 L782.1 369.8 L786.2 368.0 L790.4 366.2 L794.5 364.4 L798.7 362.7 L802.8 360.9 L807.0 359.2 L811.1 357.6 L815.3 355.9 L819.5 354.3 L823.7 352.7 L828.0 351.1 L832.2 349.6 L836.4 348.1 L840.7 346.7 L845.0 345.3 L849.3 343.9 L853.6 342.7 L857.9 341.5 L862.3 340.4 L866.7 339.5 L871.1 338.6 L875.6 337.9 L880.0 337.2 L884.5 336.7 L889.0 336.2 L893.4 335.8 L897.9 335.4 L902.4 335.0 L906.9 334.6 L911.4 334.1 L915.8 333.6 L920.3 332.8 L924.7 331.9 L929.0 330.8 L933.4 329.5 L937.7 328.2 L942.0 326.9 L946.3 325.6 L950.6 324.4 L954.9 323.2 L959.3 322.0 L963.6 320.8 L967.9 319.6 L972.2 318.2 L976.4 316.5 L980.5 314.7 L984.7 312.9 L988.8 311.2 L992.9 309.4 L996.9 307.3 L1000.7 304.9 L1004.4 302.3 L1007.8 299.4 L1011.1 296.3 L1014.0 292.9 L1016.8 289.4 L1019.6 285.8 L1022.4 282.3 L1025.1 278.7 L1027.7 275.0 L1030.1 271.2 L1030.1 271.2"/><path d="M531.4 520.3 L535.1 517.7 L538.8 515.1 L542.4 512.5 L546.1 509.9 L549.8 507.4 L553.5 504.8 L557.2 502.3 L561.0 499.7 L564.7 497.2 L568.4 494.7 L572.1 492.1 L575.9 489.6 L579.6 487.1 L583.4 484.6 L587.1 482.2 L590.9 479.7 L594.6 477.2 L598.4 474.8 L602.2 472.3 L606.0 469.9 L609.8 467.5 L613.6 465.1 L617.4 462.7 L621.2 460.3 L625.0 457.9 L628.9 455.6 L632.7 453.2 L636.5 450.9 L640.4 448.5 L644.2 446.2 L648.1 443.9 L652.0 441.6 L655.9 439.4 L659.8 437.1 L663.7 434.8 L667.6 432.6 L671.5 430.4 L675.4 428.2 L679.3 426.0 L683.3 423.8 L687.2 421.6 L691.1 419.5 L695.1 417.3 L699.1 415.2 L703.1 413.1 L707.0 411.0 L711.0 408.9 L715.0 406.9 L719.0 404.8 L723.1 402.8 L727.1 400.8 L731.1 398.8 L735.2 396.8 L739.2 394.9 L743.3 392.9 L747.3 391.0 L751.4 389.1 L755.5 387.2 L759.6 385.4 L763.7 383.5 L767.8 381.7 L771.9 379.9 L776.1 378.1 L780.2 376.3 L784.4 374.6 L788.5 372.8 L792.7 371.1 L796.8 369.5 L801.0 367.8 L805.2 366.2 L809.4 364.6 L813.6 363.0 L817.9 361.4 L822.1 359.9 L826.3 358.4 L830.6 357.0 L834.9 355.5 L839.2 354.2 L843.5 352.9 L847.8 351.6 L852.1 350.4 L856.5 349.3 L860.9 348.2 L865.2 347.3 L869.7 346.4 L874.1 345.7 L878.6 345.0 L883.0 344.5 L887.5 344.0 L892.0 343.5 L896.5 343.1 L900.9 342.7 L905.4 342.4 L909.9 341.9 L914.4 341.5 L918.8 340.9 L923.3 340.1 L927.7 339.2 L932.1 338.2 L936.4 337.1 L940.8 335.9 L945.1 334.8 L949.5 333.6 L953.8 332.4 L958.2 331.3 L962.5 330.1 L966.8 328.9 L971.2 327.7 L975.5 326.3 L979.7 324.7 L983.9 323.0 L988.0 321.3 L992.2 319.7 L996.4 318.0 L1000.5 316.2 L1004.5 314.2 L1008.4 311.9 L1012.3 309.6 L1016.1 307.3 L1020.0 305.0 L1023.7 302.4 L1027.1 299.5 L1030.2 296.3 L1030.2 296.3"/><path d="M537.2 520.3 L540.9 517.8 L544.6 515.2 L548.3 512.7 L552.0 510.1 L555.7 507.6 L559.4 505.1 L563.2 502.5 L566.9 500.0 L570.6 497.5 L574.4 495.0 L578.1 492.6 L581.9 490.1 L585.7 487.6 L589.4 485.2 L593.2 482.7 L597.0 480.3 L600.8 477.9 L604.6 475.5 L608.4 473.1 L612.2 470.7 L616.0 468.3 L619.9 465.9 L623.7 463.6 L627.6 461.2 L631.4 458.9 L635.3 456.6 L639.1 454.3 L643.0 452.0 L646.9 449.7 L650.8 447.5 L654.7 445.2 L658.6 443.0 L662.5 440.8 L666.4 438.6 L670.3 436.4 L674.3 434.2 L678.2 432.0 L682.2 429.9 L686.2 427.8 L690.1 425.6 L694.1 423.5 L698.1 421.5 L702.1 419.4 L706.1 417.4 L710.1 415.3 L714.1 413.3 L718.2 411.3 L722.2 409.3 L726.3 407.4 L730.3 405.4 L734.4 403.5 L738.5 401.6 L742.6 399.7 L746.7 397.9 L750.8 396.0 L754.9 394.2 L759.0 392.4 L763.1 390.6 L767.3 388.9 L771.4 387.1 L775.6 385.4 L779.8 383.7 L783.9 382.0 L788.1 380.4 L792.3 378.8 L796.5 377.2 L800.7 375.6 L805.0 374.1 L809.2 372.6 L813.5 371.1 L817.7 369.6 L822.0 368.2 L826.3 366.8 L830.6 365.5 L834.9 364.2 L839.2 362.9 L843.5 361.7 L847.9 360.5 L852.2 359.4 L856.6 358.3 L861.0 357.3 L865.4 356.4 L869.8 355.6 L874.3 354.8 L878.7 354.1 L883.2 353.5 L887.6 353.0 L892.1 352.5 L896.6 352.1 L901.1 351.6 L905.5 351.2 L910.0 350.7 L914.5 350.2 L918.9 349.6 L923.4 348.9 L927.8 348.0 L932.2 347.1 L936.6 346.2 L941.0 345.3 L945.4 344.4 L949.8 343.5 L954.3 342.7 L958.7 341.9 L963.1 341.0 L967.5 340.0 L971.9 339.0 L976.2 337.9 L980.6 336.7 L984.9 335.5 L989.2 334.2 L993.5 332.8 L997.8 331.3 L1002.0 329.7 L1006.1 328.0 L1010.2 326.1 L1014.2 324.1 L1018.2 322.0 L1022.1 319.8 L1026.0 317.5 L1029.9 315.2 L1031.2 314.4"/><path d="M542.1 520.4 L545.8 517.8 L549.5 515.3 L553.2 512.8 L556.9 510.3 L560.7 507.7 L564.4 505.2 L568.2 502.8 L571.9 500.3 L575.7 497.8 L579.5 495.3 L583.2 492.9 L587.0 490.5 L590.8 488.0 L594.6 485.6 L598.4 483.2 L602.2 480.8 L606.0 478.4 L609.8 476.0 L613.7 473.7 L617.5 471.3 L621.4 469.0 L625.2 466.7 L629.1 464.3 L632.9 462.0 L636.8 459.8 L640.7 457.5 L644.6 455.2 L648.5 453.0 L652.4 450.7 L656.3 448.5 L660.2 446.3 L664.2 444.1 L668.1 442.0 L672.1 439.8 L676.0 437.7 L680.0 435.6 L684.0 433.4 L687.9 431.4 L691.9 429.3 L695.9 427.2 L700.0 425.2 L704.0 423.2 L708.0 421.2 L712.0 419.2 L716.1 417.2 L720.1 415.3 L724.2 413.3 L728.3 411.4 L732.4 409.5 L736.5 407.7 L740.6 405.8 L744.7 404.0 L748.8 402.2 L752.9 400.4 L757.1 398.7 L761.2 396.9 L765.4 395.2 L769.6 393.5 L773.7 391.8 L777.9 390.2 L782.1 388.6 L786.3 387.0 L790.6 385.4 L794.8 383.9 L799.0 382.4 L803.3 380.9 L807.5 379.4 L811.8 378.0 L816.1 376.6 L820.4 375.3 L824.7 374.0 L829.0 372.7 L833.3 371.5 L837.7 370.3 L842.0 369.1 L846.4 368.0 L850.7 366.9 L855.1 365.9 L859.5 364.9 L863.9 364.0 L868.3 363.1 L872.8 362.3 L877.2 361.6 L881.7 360.9 L886.1 360.3 L890.6 359.7 L895.0 359.2 L899.5 358.7 L904.0 358.1 L908.4 357.6 L912.9 357.0 L917.4 356.4 L921.8 355.7 L926.2 354.9 L930.7 354.1 L935.1 353.3 L939.5 352.4 L943.9 351.7 L948.4 351.0 L952.9 350.4 L957.3 349.8 L961.8 349.2 L966.2 348.6 L970.7 347.9 L975.1 347.1 L979.5 346.2 L983.9 345.4 L988.4 344.6 L992.8 343.8 L997.2 342.9 L1001.6 341.9 L1005.9 340.7 L1010.2 339.4 L1014.5 338.1 L1018.9 336.8 L1023.2 335.4 L1027.4 334.0 L1030.2 333.0"/><path d="M552.0 520.0 L555.8 517.5 L559.5 515.0 L563.3 512.6 L567.0 510.1 L570.8 507.7 L574.6 505.2 L578.4 502.8 L582.2 500.4 L586.0 497.9 L589.8 495.5 L593.6 493.1 L597.4 490.8 L601.2 488.4 L605.1 486.0 L608.9 483.7 L612.8 481.4 L616.6 479.1 L620.5 476.8 L624.4 474.5 L628.2 472.2 L632.1 469.9 L636.0 467.7 L639.9 465.4 L643.9 463.2 L647.8 461.0 L651.7 458.8 L655.6 456.7 L659.6 454.5 L663.6 452.4 L667.5 450.2 L671.5 448.1 L675.5 446.0 L679.5 444.0 L683.5 441.9 L687.5 439.9 L691.5 437.9 L695.5 435.9 L699.6 433.9 L703.6 431.9 L707.7 430.0 L711.8 428.1 L715.8 426.2 L719.9 424.3 L724.0 422.4 L728.1 420.6 L732.3 418.8 L736.4 417.0 L740.5 415.2 L744.7 413.5 L748.8 411.7 L753.0 410.0 L757.2 408.4 L761.4 406.7 L765.6 405.1 L769.8 403.5 L774.0 401.9 L778.2 400.4 L782.5 398.9 L786.7 397.4 L791.0 396.0 L795.2 394.5 L799.5 393.2 L803.8 391.8 L808.1 390.5 L812.4 389.2 L816.7 387.9 L821.1 386.7 L825.4 385.6 L829.8 384.4 L834.1 383.3 L838.5 382.3 L842.9 381.3 L847.3 380.3 L851.7 379.4 L856.1 378.5 L860.5 377.6 L865.0 376.8 L869.4 376.1 L873.8 375.3 L878.3 374.6 L882.7 374.0 L887.2 373.3 L891.6 372.7 L896.1 372.1 L900.6 371.4 L905.0 370.8 L909.5 370.2 L913.9 369.5 L918.4 368.8 L922.8 368.2 L927.3 367.5 L931.7 366.8 L936.2 366.1 L940.6 365.4 L945.1 364.8 L949.5 364.2 L954.0 363.6 L958.4 363.1 L962.9 362.5 L967.4 361.9 L971.8 361.3 L976.3 360.6 L980.7 359.9 L985.1 359.1 L989.6 358.3 L994.0 357.5 L998.4 356.7 L1002.8 355.8 L1007.2 354.8 L1011.6 353.6 L1015.9 352.4 L1020.2 351.2 L1024.6 349.9 L1028.9 348.7 L1030.3 348.2"/><path d="M557.4 520.7 L561.2 518.3 L565.0 515.8 L568.7 513.4 L572.5 510.9 L576.3 508.5 L580.1 506.1 L583.9 503.7 L587.7 501.3 L591.6 498.9 L595.4 496.6 L599.2 494.2 L603.1 491.9 L606.9 489.6 L610.8 487.2 L614.6 484.9 L618.5 482.7 L622.4 480.4 L626.3 478.1 L630.2 475.9 L634.1 473.7 L638.0 471.4 L641.9 469.2 L645.9 467.1 L649.8 464.9 L653.8 462.7 L657.7 460.6 L661.7 458.5 L665.7 456.4 L669.7 454.3 L673.7 452.2 L677.7 450.2 L681.7 448.1 L685.7 446.1 L689.8 444.1 L693.8 442.2 L697.9 440.2 L701.9 438.3 L706.0 436.4 L710.1 434.5 L714.2 432.6 L718.3 430.8 L722.4 429.0 L726.5 427.2 L730.7 425.4 L734.8 423.6 L739.0 421.9 L743.1 420.2 L747.3 418.5 L751.5 416.9 L755.7 415.2 L759.9 413.6 L764.1 412.1 L768.3 410.5 L772.6 409.0 L776.8 407.5 L781.1 406.0 L785.3 404.6 L789.6 403.2 L793.9 401.9 L798.2 400.5 L802.5 399.2 L806.8 398.0 L811.2 396.8 L815.5 395.6 L819.8 394.4 L824.2 393.3 L828.6 392.3 L833.0 391.2 L837.4 390.3 L841.8 389.3 L846.2 388.5 L850.6 387.6 L855.0 386.8 L859.5 386.1 L863.9 385.4 L868.4 384.7 L872.8 384.1 L877.3 383.5 L881.7 382.9 L886.2 382.4 L890.7 381.8 L895.1 381.3 L899.6 380.7 L904.1 380.2 L908.5 379.6 L913.0 379.1 L917.5 378.5 L921.9 377.9 L926.4 377.3 L930.9 376.8 L935.3 376.3 L939.8 375.8 L944.3 375.3 L948.8 374.9 L953.2 374.5 L957.7 374.1 L962.2 373.7 L966.7 373.3 L971.2 372.8 L975.6 372.3 L980.1 371.8 L984.6 371.3 L989.0 370.7 L993.5 370.2 L998.0 369.6 L1002.4 368.9 L1006.9 368.2 L1011.3 367.4 L1015.7 366.6 L1020.1 365.8 L1024.5 364.8 L1028.9 363.8 L1030.4 363.5"/><path d="M563.3 520.3 L567.1 517.9 L570.9 515.5 L574.7 513.1 L578.5 510.7 L582.3 508.3 L586.1 505.9 L590.0 503.5 L593.8 501.2 L597.7 498.8 L601.5 496.5 L605.4 494.2 L609.2 491.9 L613.1 489.6 L617.0 487.3 L620.9 485.1 L624.8 482.8 L628.7 480.6 L632.6 478.4 L636.5 476.2 L640.5 474.0 L644.4 471.8 L648.4 469.7 L652.3 467.5 L656.3 465.4 L660.3 463.3 L664.3 461.2 L668.3 459.2 L672.3 457.1 L676.3 455.1 L680.3 453.1 L684.3 451.1 L688.4 449.1 L692.4 447.2 L696.5 445.2 L700.6 443.3 L704.7 441.4 L708.8 439.6 L712.9 437.7 L717.0 435.9 L721.1 434.1 L725.2 432.3 L729.4 430.6 L733.5 428.9 L737.7 427.2 L741.9 425.5 L746.1 423.8 L750.3 422.2 L754.5 420.6 L758.7 419.0 L762.9 417.5 L767.2 416.0 L771.4 414.5 L775.7 413.1 L779.9 411.6 L784.2 410.3 L788.5 408.9 L792.8 407.6 L797.1 406.3 L801.4 405.0 L805.8 403.8 L810.1 402.6 L814.5 401.5 L818.8 400.4 L823.2 399.4 L827.6 398.4 L832.0 397.4 L836.4 396.5 L840.8 395.6 L845.2 394.8 L849.7 394.0 L854.1 393.3 L858.6 392.6 L863.0 392.0 L867.5 391.4 L872.0 390.9 L876.4 390.4 L880.9 389.9 L885.4 389.5 L889.9 389.1 L894.4 388.8 L898.8 388.4 L903.3 388.0 L907.8 387.6 L912.3 387.2 L916.8 386.7 L921.2 386.2 L925.7 385.8 L930.2 385.3 L934.7 384.9 L939.2 384.6 L943.6 384.2 L948.1 384.0 L952.6 383.7 L957.1 383.6 L961.6 383.4 L966.1 383.2 L970.6 383.0 L975.1 382.7 L979.6 382.5 L984.1 382.2 L988.6 382.1 L993.1 381.9 L997.6 381.6 L1002.1 381.4 L1006.6 381.0 L1011.0 380.7 L1015.5 380.3 L1020.0 380.0 L1024.5 379.6 L1029.0 379.2 L1030.5 379.1"/><path d="M571.9 520.7 L575.7 518.3 L579.5 515.9 L583.4 513.6 L587.2 511.2 L591.0 508.9 L594.9 506.5 L598.8 504.2 L602.6 501.9 L606.5 499.7 L610.4 497.4 L614.3 495.1 L618.2 492.9 L622.1 490.7 L626.0 488.4 L630.0 486.3 L633.9 484.1 L637.8 481.9 L641.8 479.8 L645.8 477.6 L649.7 475.5 L653.7 473.4 L657.7 471.3 L661.7 469.3 L665.7 467.2 L669.7 465.2 L673.8 463.2 L677.8 461.2 L681.9 459.3 L685.9 457.3 L690.0 455.4 L694.1 453.5 L698.2 451.6 L702.3 449.8 L706.4 448.0 L710.5 446.1 L714.6 444.4 L718.8 442.6 L722.9 440.9 L727.1 439.2 L731.2 437.5 L735.4 435.8 L739.6 434.2 L743.8 432.6 L748.0 431.0 L752.3 429.4 L756.5 427.9 L760.7 426.4 L765.0 425.0 L769.3 423.5 L773.5 422.2 L777.8 420.8 L782.1 419.5 L786.4 418.2 L790.8 416.9 L795.1 415.7 L799.4 414.5 L803.8 413.3 L808.1 412.2 L812.5 411.1 L816.9 410.1 L821.3 409.1 L825.7 408.2 L830.1 407.3 L834.5 406.5 L838.9 405.7 L843.4 404.9 L847.8 404.2 L852.3 403.6 L856.7 403.0 L861.2 402.5 L865.7 402.1 L870.2 401.7 L874.7 401.4 L879.2 401.1 L883.7 400.9 L888.2 400.7 L892.6 400.6 L897.1 400.5 L901.6 400.4 L906.1 400.2 L910.6 400.1 L915.1 399.9 L919.6 399.6 L924.1 399.4 L928.6 399.1 L933.1 398.8 L937.6 398.5 L942.1 398.3 L946.6 398.1 L951.1 397.9 L955.6 397.7 L960.1 397.6 L964.6 397.4 L969.1 397.3 L973.6 397.1 L978.1 396.9 L982.6 396.7 L987.1 396.6 L991.6 396.4 L996.1 396.2 L1000.5 396.1 L1005.0 395.9 L1009.5 395.6 L1014.0 395.3 L1018.5 395.0 L1023.0 394.7 L1027.5 394.4 L1030.5 394.2"/><path d="M582.2 520.1 L586.0 517.7 L589.9 515.4 L593.7 513.1 L597.6 510.8 L601.5 508.6 L605.4 506.3 L609.3 504.1 L613.2 501.8 L617.1 499.6 L621.0 497.4 L625.0 495.2 L628.9 493.0 L632.9 490.9 L636.8 488.7 L640.8 486.6 L644.8 484.5 L648.8 482.4 L652.8 480.4 L656.8 478.3 L660.8 476.3 L664.8 474.3 L668.8 472.3 L672.9 470.3 L676.9 468.4 L681.0 466.4 L685.1 464.5 L689.2 462.6 L693.3 460.8 L697.4 458.9 L701.5 457.1 L705.6 455.3 L709.8 453.6 L713.9 451.8 L718.1 450.1 L722.2 448.4 L726.4 446.7 L730.6 445.1 L734.8 443.5 L739.0 441.9 L743.2 440.3 L747.5 438.8 L751.7 437.3 L756.0 435.8 L760.2 434.4 L764.5 433.0 L768.8 431.6 L773.1 430.3 L777.4 429.0 L781.7 427.7 L786.0 426.5 L790.4 425.3 L794.7 424.1 L799.1 423.0 L803.4 421.9 L807.8 420.9 L812.2 419.9 L816.6 418.9 L821.0 418.0 L825.4 417.1 L829.8 416.3 L834.3 415.5 L838.7 414.8 L843.2 414.1 L847.6 413.5 L852.1 413.0 L856.6 412.5 L861.1 412.1 L865.5 411.8 L870.0 411.5 L874.5 411.3 L879.0 411.1 L883.5 411.0 L888.0 411.0 L892.5 410.9 L897.0 410.9 L901.5 410.9 L906.0 410.9 L910.5 410.8 L915.0 410.8 L919.5 410.7 L924.0 410.5 L928.5 410.4 L933.0 410.2 L937.5 410.0 L942.0 409.9 L946.5 409.8 L951.0 409.7 L955.5 409.6 L960.0 409.6 L964.5 409.5 L969.0 409.5 L973.5 409.4 L978.0 409.4 L982.5 409.3 L987.0 409.3 L991.5 409.3 L996.0 409.3 L1000.5 409.3 L1005.0 409.3 L1009.5 409.3 L1014.0 409.3 L1018.5 409.4 L1023.0 409.5 L1027.5 409.5 L1030.5 409.5"/><path d="M595.1 520.7 L599.0 518.5 L602.9 516.2 L606.8 514.0 L610.7 511.8 L614.7 509.6 L618.6 507.4 L622.5 505.3 L626.5 503.1 L630.5 501.0 L634.4 498.9 L638.4 496.8 L642.4 494.7 L646.4 492.7 L650.4 490.7 L654.5 488.6 L658.5 486.6 L662.5 484.7 L666.6 482.7 L670.7 480.8 L674.7 478.9 L678.8 477.0 L682.9 475.1 L687.0 473.3 L691.1 471.4 L695.2 469.6 L699.4 467.9 L703.5 466.1 L707.7 464.4 L711.9 462.7 L716.0 461.0 L720.2 459.4 L724.4 457.7 L728.6 456.2 L732.8 454.6 L737.1 453.1 L741.3 451.6 L745.6 450.1 L749.8 448.6 L754.1 447.2 L758.4 445.9 L762.7 444.5 L767.0 443.2 L771.3 441.9 L775.6 440.7 L780.0 439.5 L784.3 438.3 L788.7 437.2 L793.0 436.1 L797.4 435.0 L801.8 434.0 L806.2 433.0 L810.6 432.1 L815.0 431.2 L819.4 430.4 L823.8 429.6 L828.3 428.8 L832.7 428.1 L837.2 427.5 L841.6 426.9 L846.1 426.3 L850.6 425.8 L855.1 425.4 L859.5 425.0 L864.0 424.7 L868.5 424.5 L873.0 424.3 L877.5 424.2 L882.0 424.1 L886.5 424.1 L891.0 424.0 L895.5 424.0 L900.0 424.0 L904.5 424.0 L909.0 424.0 L913.5 424.0 L918.0 424.0 L922.5 423.9 L927.0 423.8 L931.5 423.7 L936.0 423.6 L940.5 423.5 L945.0 423.4 L949.5 423.4 L954.0 423.4 L958.5 423.4 L963.0 423.4 L967.5 423.4 L972.0 423.4 L976.5 423.4 L981.0 423.5 L985.5 423.5 L990.0 423.6 L994.5 423.7 L999.0 423.8 L1003.5 423.8 L1008.0 423.9 L1012.5 424.0 L1017.0 424.2 L1021.5 424.3 L1026.0 424.5 L1030.5 424.6 L1030.5 424.6"/><path d="M612.3 520.6 L616.3 518.5 L620.2 516.3 L624.2 514.2 L628.2 512.1 L632.2 510.0 L636.2 508.0 L640.2 505.9 L644.2 503.9 L648.3 501.9 L652.3 499.9 L656.3 498.0 L660.4 496.0 L664.5 494.1 L668.6 492.2 L672.6 490.3 L676.7 488.5 L680.9 486.6 L685.0 484.8 L689.1 483.1 L693.3 481.3 L697.4 479.6 L701.6 477.9 L705.7 476.2 L709.9 474.5 L714.1 472.9 L718.3 471.3 L722.5 469.7 L726.8 468.2 L731.0 466.7 L735.3 465.2 L739.5 463.7 L743.8 462.3 L748.1 460.9 L752.4 459.6 L756.7 458.3 L761.0 457.0 L765.3 455.7 L769.6 454.5 L774.0 453.3 L778.3 452.2 L782.7 451.1 L787.1 450.0 L791.4 449.0 L795.8 448.0 L800.2 447.0 L804.6 446.1 L809.1 445.3 L813.5 444.4 L817.9 443.7 L822.4 442.9 L826.8 442.2 L831.3 441.6 L835.7 441.0 L840.2 440.4 L844.6 439.9 L849.1 439.5 L853.6 439.1 L858.1 438.7 L862.6 438.4 L867.1 438.1 L871.6 437.9 L876.1 437.8 L880.6 437.6 L885.1 437.5 L889.6 437.5 L894.1 437.4 L898.6 437.4 L903.1 437.3 L907.6 437.3 L912.1 437.2 L916.6 437.2 L921.1 437.1 L925.6 437.0 L930.1 436.9 L934.6 436.9 L939.1 436.9 L943.6 436.9 L948.1 436.9 L952.6 436.9 L957.1 437.0 L961.6 437.0 L966.1 437.1 L970.6 437.1 L975.1 437.2 L979.6 437.3 L984.1 437.5 L988.6 437.6 L993.0 437.8 L997.5 437.9 L1002.0 438.1 L1006.5 438.3 L1011.0 438.6 L1015.5 438.8 L1020.0 439.1 L1024.5 439.4 L1029.0 439.7 L1030.5 439.8"/><path d="M629.0 520.3 L633.1 518.3 L637.1 516.3 L641.1 514.3 L645.1 512.3 L649.2 510.3 L653.3 508.4 L657.3 506.5 L661.4 504.6 L665.5 502.7 L669.6 500.8 L673.7 499.0 L677.8 497.2 L682.0 495.4 L686.1 493.6 L690.3 491.9 L694.4 490.2 L698.6 488.5 L702.8 486.9 L707.0 485.2 L711.2 483.6 L715.4 482.1 L719.6 480.5 L723.9 479.0 L728.1 477.5 L732.4 476.1 L736.6 474.6 L740.9 473.3 L745.2 471.9 L749.5 470.6 L753.8 469.3 L758.1 468.0 L762.5 466.8 L766.8 465.6 L771.2 464.5 L775.5 463.4 L779.9 462.3 L784.3 461.3 L788.7 460.3 L793.1 459.3 L797.5 458.4 L801.9 457.5 L806.3 456.7 L810.7 455.9 L815.2 455.2 L819.6 454.5 L824.1 453.8 L828.5 453.2 L833.0 452.6 L837.5 452.1 L841.9 451.6 L846.4 451.1 L850.9 450.7 L855.4 450.4 L859.9 450.0 L864.3 449.7 L868.8 449.5 L873.3 449.3 L877.8 449.1 L882.3 448.9 L886.8 448.8 L891.3 448.7 L895.8 448.6 L900.3 448.5 L904.8 448.4 L909.3 448.3 L913.8 448.2 L918.3 448.2 L922.8 448.1 L927.3 448.1 L931.8 448.0 L936.3 448.1 L940.8 448.1 L945.3 448.2 L949.8 448.3 L954.3 448.5 L958.8 448.6 L963.3 448.8 L967.8 448.9 L972.3 449.1 L976.8 449.3 L981.3 449.6 L985.8 449.9 L990.3 450.3 L994.7 450.7 L999.2 451.0 L1003.7 451.4 L1008.2 451.9 L1012.7 452.5 L1017.1 453.1 L1021.6 453.8 L1026.0 454.5 L1030.5 455.2 L1030.5 455.2"/><path d="M651.2 520.5 L655.3 518.6 L659.4 516.8 L663.5 514.9 L667.6 513.1 L671.8 511.3 L675.9 509.5 L680.0 507.8 L684.2 506.1 L688.4 504.4 L692.5 502.7 L696.7 501.0 L700.9 499.4 L705.1 497.8 L709.4 496.3 L713.6 494.7 L717.8 493.2 L722.1 491.8 L726.3 490.3 L730.6 488.9 L734.9 487.5 L739.2 486.2 L743.5 484.9 L747.8 483.6 L752.1 482.3 L756.5 481.1 L760.8 480.0 L765.2 478.8 L769.5 477.7 L773.9 476.7 L778.3 475.6 L782.7 474.7 L787.1 473.7 L791.5 472.8 L795.9 471.9 L800.3 471.1 L804.8 470.3 L809.2 469.6 L813.6 468.9 L818.1 468.2 L822.6 467.6 L827.0 467.1 L831.5 466.5 L836.0 466.0 L840.4 465.6 L844.9 465.2 L849.4 464.8 L853.9 464.5 L858.4 464.2 L862.9 464.0 L867.4 463.7 L871.9 463.5 L876.4 463.3 L880.9 463.2 L885.4 463.1 L889.9 462.9 L894.4 462.8 L898.9 462.8 L903.4 462.7 L907.9 462.6 L912.4 462.6 L916.9 462.5 L921.4 462.5 L925.9 462.5 L930.4 462.5 L934.9 462.6 L939.4 462.7 L943.9 462.8 L948.3 462.9 L952.8 463.0 L957.3 463.2 L961.8 463.4 L966.3 463.5 L970.8 463.7 L975.3 463.9 L979.8 464.2 L984.3 464.6 L988.8 465.0 L993.3 465.4 L997.8 465.8 L1002.2 466.2 L1006.7 466.7 L1011.2 467.3 L1015.6 467.9 L1020.1 468.6 L1024.5 469.3 L1029.0 469.9 L1030.5 470.2"/><path d="M679.5 520.2 L683.7 518.5 L687.9 516.8 L692.1 515.2 L696.3 513.6 L700.5 512.0 L704.7 510.5 L709.0 508.9 L713.2 507.4 L717.5 506.0 L721.7 504.6 L726.0 503.2 L730.3 501.8 L734.6 500.5 L738.9 499.2 L743.2 497.9 L747.5 496.7 L751.9 495.5 L756.2 494.3 L760.6 493.2 L765.0 492.1 L769.3 491.0 L773.7 490.0 L778.1 489.1 L782.5 488.1 L786.9 487.2 L791.3 486.4 L795.8 485.6 L800.2 484.8 L804.6 484.1 L809.1 483.4 L813.5 482.8 L818.0 482.2 L822.5 481.6 L826.9 481.1 L831.4 480.6 L835.9 480.2 L840.4 479.8 L844.9 479.5 L849.4 479.2 L853.9 479.0 L858.4 478.7 L862.8 478.6 L867.3 478.4 L871.8 478.3 L876.3 478.2 L880.8 478.2 L885.3 478.1 L889.8 478.1 L894.3 478.1 L898.8 478.1 L903.3 478.1 L907.8 478.1 L912.3 478.2 L916.8 478.2 L921.3 478.2 L925.8 478.3 L930.3 478.3 L934.8 478.4 L939.3 478.5 L943.8 478.7 L948.3 478.8 L952.8 479.0 L957.3 479.2 L961.8 479.4 L966.3 479.6 L970.8 479.8 L975.3 480.1 L979.8 480.4 L984.3 480.8 L988.8 481.1 L993.2 481.5 L997.7 481.9 L1002.2 482.4 L1006.7 482.9 L1011.1 483.4 L1015.6 484.0 L1020.1 484.6 L1024.5 485.3 L1029.0 485.9 L1030.5 486.2"/><path d="M708.9 520.0 L713.1 518.6 L717.4 517.2 L721.7 515.8 L725.9 514.4 L730.2 513.1 L734.6 511.8 L738.9 510.5 L743.2 509.3 L747.5 508.1 L751.9 506.9 L756.2 505.8 L760.6 504.7 L765.0 503.7 L769.4 502.7 L773.8 501.7 L778.2 500.7 L782.6 499.9 L787.0 499.0 L791.4 498.2 L795.9 497.4 L800.3 496.7 L804.7 496.0 L809.2 495.4 L813.7 494.8 L818.1 494.2 L822.6 493.7 L827.1 493.3 L831.6 492.8 L836.0 492.5 L840.5 492.1 L845.0 491.9 L849.5 491.6 L854.0 491.4 L858.5 491.3 L863.0 491.2 L867.5 491.1 L872.0 491.0 L876.5 491.0 L881.0 491.1 L885.5 491.1 L890.0 491.1 L894.5 491.2 L899.0 491.3 L903.5 491.3 L908.0 491.4 L912.5 491.5 L917.0 491.6 L921.5 491.6 L926.0 491.7 L930.5 491.8 L935.0 491.9 L939.5 492.1 L944.0 492.3 L948.5 492.5 L953.0 492.7 L957.5 492.9 L962.0 493.2 L966.5 493.4 L971.0 493.7 L975.4 494.0 L979.9 494.4 L984.4 494.8 L988.9 495.3 L993.4 495.7 L997.8 496.2 L1002.3 496.7 L1006.8 497.3 L1011.2 497.9 L1015.7 498.7 L1020.1 499.5 L1024.5 500.2 L1029.0 501.0 L1030.4 501.3"/></g><g stroke="url(#lg)" stroke-width="1.1"><path d="M-6.4 186.4 L-2.0 187.5 L2.3 188.7 L6.7 189.9 L11.0 191.1 L15.3 192.3 L19.6 193.7 L23.9 195.0 L28.2 196.3 L32.5 197.7 L36.8 199.2 L41.0 200.6 L45.3 202.0 L49.6 203.4 L53.9 204.8 L58.1 206.2 L62.4 207.7 L66.6 209.2 L70.9 210.7 L75.1 212.2 L79.4 213.7 L83.6 215.2 L87.8 216.7 L92.1 218.2 L96.3 219.7 L100.6 221.2 L104.8 222.7 L109.1 224.2 L113.3 225.7 L117.5 227.2 L120.4 228.2"/><path d="M-6.4 193.5 L-2.0 194.5 L2.4 195.6 L6.7 196.9 L11.0 198.0 L15.4 199.2 L19.7 200.5 L24.0 201.7 L28.4 202.9 L32.7 204.2 L37.0 205.5 L41.3 206.8 L45.6 208.1 L49.8 209.6 L54.1 211.0 L58.4 212.4 L62.6 213.9 L66.9 215.3 L71.2 216.8 L75.4 218.2 L79.7 219.7 L83.9 221.2 L88.2 222.6 L92.4 224.1 L96.7 225.7 L100.9 227.2 L105.1 228.7 L109.4 230.2 L113.6 231.7 L117.9 233.1 L120.7 234.1"/><path d="M-6.4 199.6 L-2.0 200.5 L2.4 201.5 L6.8 202.5 L11.2 203.4 L15.6 204.5 L19.9 205.6 L24.3 206.7 L28.6 207.9 L32.9 209.2 L37.2 210.5 L41.5 211.8 L45.8 213.1 L50.1 214.5 L54.4 215.9 L58.7 217.2 L63.0 218.5 L67.3 219.9 L71.6 221.3 L75.8 222.7 L80.1 224.3 L84.3 225.8 L88.6 227.2 L92.8 228.7 L97.0 230.2 L101.3 231.7 L105.6 233.2 L109.8 234.6 L114.1 236.1 L118.3 237.6 L121.1 238.6"/><path d="M-6.5 206.9 L-2.0 207.5 L2.4 208.3 L6.8 209.2 L11.3 210.0 L15.6 211.0 L20.0 212.1 L24.4 213.3 L28.7 214.4 L33.1 215.5 L37.4 216.7 L41.8 217.9 L46.1 219.0 L50.4 220.3 L54.7 221.6 L59.1 222.8 L63.3 224.2 L67.6 225.6 L71.9 227.0 L76.2 228.4 L80.4 229.9 L84.7 231.3 L89.0 232.7 L93.2 234.1 L97.5 235.6 L101.8 237.1 L106.0 238.5 L110.2 240.1 L114.5 241.6 L118.7 243.1 L120.1 243.6"/><path d="M-6.5 214.0 L-2.0 214.5 L2.5 215.1 L6.9 215.9 L11.3 216.6 L15.8 217.4 L20.2 218.2 L24.6 219.1 L29.0 220.0 L33.4 221.0 L37.8 222.1 L42.1 223.1 L46.5 224.3 L50.8 225.6 L55.1 226.9 L59.4 228.1 L63.7 229.5 L68.0 230.8 L72.3 232.1 L76.6 233.4 L80.9 234.8 L85.2 236.1 L89.5 237.5 L93.8 238.9 L98.0 240.4 L102.3 241.9 L106.5 243.4 L110.8 244.9 L115.0 246.3 L119.3 247.8 L120.7 248.2"/><path d="M-6.5 221.3 L-2.0 221.5 L2.5 221.9 L7.0 222.3 L11.4 222.8 L15.9 223.4 L20.3 224.2 L24.8 225.0 L29.2 225.8 L33.6 226.8 L37.9 227.9 L42.3 228.9 L46.7 230.0 L51.0 231.2 L55.4 232.3 L59.7 233.4 L64.1 234.6 L68.4 235.8 L72.7 237.1 L77.0 238.4 L81.3 239.8 L85.6 241.1 L89.9 242.5 L94.2 243.9 L98.4 245.4 L102.7 246.7 L107.0 248.1 L111.3 249.5 L115.5 251.0 L119.8 252.4 L121.2 252.9"/><path d="M-6.5 229.6 L-2.0 229.5 L2.5 229.7 L7.0 230.0 L11.5 230.3 L16.0 230.7 L20.4 231.3 L24.9 231.9 L29.3 232.5 L33.8 233.2 L38.2 234.0 L42.6 234.8 L47.0 235.7 L51.4 236.7 L55.8 237.7 L60.2 238.8 L64.5 240.0 L68.8 241.3 L73.2 242.5 L77.5 243.8 L81.8 245.1 L86.1 246.4 L90.4 247.6 L94.7 248.9 L99.0 250.3 L103.3 251.6 L107.6 253.0 L111.9 254.5 L116.1 255.9 L120.4 257.3 L120.4 257.3"/><path d="M-6.4 238.2 L-2.0 237.5 L2.5 237.3 L7.0 237.2 L11.5 237.1 L16.0 237.3 L20.5 237.6 L25.0 238.0 L29.4 238.4 L33.9 239.1 L38.3 239.8 L42.8 240.5 L47.2 241.4 L51.6 242.4 L56.0 243.4 L60.4 244.4 L64.7 245.5 L69.1 246.6 L73.4 247.7 L77.8 248.8 L82.1 250.0 L86.5 251.2 L90.8 252.4 L95.1 253.7 L99.4 255.1 L103.7 256.4 L108.0 257.8 L112.2 259.2 L116.5 260.6 L120.8 262.0 L120.8 262.0"/><path d="M-6.4 246.6 L-2.0 245.5 L2.5 244.9 L7.0 244.6 L11.4 244.4 L15.9 244.3 L20.4 244.5 L24.9 244.7 L29.4 245.0 L33.9 245.5 L38.4 246.0 L42.8 246.6 L47.3 247.2 L51.7 247.9 L56.2 248.7 L60.6 249.5 L65.0 250.4 L69.4 251.3 L73.8 252.3 L78.1 253.4 L82.5 254.7 L86.8 255.8 L91.2 257.1 L95.5 258.4 L99.8 259.7 L104.1 260.9 L108.4 262.2 L112.7 263.5 L117.0 264.8 L121.3 266.1 L121.3 266.1"/><path d="M-6.1 256.2 L-2.0 254.5 L2.3 253.2 L6.6 252.0 L11.0 250.9 L15.5 250.3 L20.0 250.0 L24.4 249.8 L28.9 249.7 L33.4 249.9 L37.9 250.2 L42.4 250.5 L46.9 251.0 L51.4 251.6 L55.8 252.2 L60.2 253.0 L64.7 253.9 L69.1 254.8 L73.5 255.8 L77.8 256.9 L82.1 258.1 L86.5 259.2 L90.9 260.4 L95.2 261.6 L99.5 262.7 L103.9 263.9 L108.2 265.2 L112.5 266.4 L116.8 267.7 L121.1 269.1 L121.1 269.1"/><path d="M-5.9 266.8 L-2.0 264.5 L2.1 262.6 L6.3 261.0 L10.6 259.7 L15.0 258.7 L19.5 258.3 L23.9 257.9 L28.4 257.6 L32.9 257.7 L37.4 257.9 L41.9 258.1 L46.4 258.4 L50.9 259.0 L55.3 259.5 L59.8 260.1 L64.3 260.8 L68.7 261.5 L73.1 262.3 L77.5 263.1 L82.0 264.0 L86.4 264.9 L90.8 265.9 L95.1 267.0 L99.5 268.1 L103.8 269.3 L108.1 270.5 L112.5 271.8 L116.8 273.1 L121.1 274.4 L121.1 274.4"/><path d="M-5.6 279.2 L-2.0 276.5 L1.8 274.1 L5.8 272.0 L9.8 269.9 L13.9 268.1 L18.1 266.6 L22.4 265.2 L26.8 264.2 L31.2 263.6 L35.7 263.2 L40.2 262.9 L44.7 262.9 L49.2 263.1 L53.7 263.3 L58.2 263.6 L62.7 264.1 L67.1 264.7 L71.6 265.2 L76.0 266.0 L80.5 266.8 L84.9 267.7 L89.3 268.6 L93.7 269.7 L98.0 270.8 L102.4 271.9 L106.7 273.1 L111.0 274.4 L115.4 275.6 L119.7 276.7 L121.2 277.1"/><path d="M-5.3 291.6 L-2.0 288.5 L1.5 285.6 L5.0 282.8 L8.5 280.1 L12.4 277.7 L16.4 275.8 L20.6 274.2 L24.9 272.7 L29.2 271.6 L33.7 270.9 L38.2 270.4 L42.6 269.9 L47.1 269.9 L51.6 270.0 L56.1 270.1 L60.6 270.4 L65.1 270.9 L69.6 271.5 L74.0 272.0 L78.5 272.8 L82.9 273.6 L87.3 274.4 L91.7 275.3 L96.1 276.2 L100.5 277.1 L104.9 278.1 L109.3 279.1 L113.7 280.1 L118.1 281.2 L121.0 282.0"/><path d="M-5.9 308.0 L-3.0 304.6 L0.0 301.3 L3.1 298.0 L6.1 294.7 L9.5 291.7 L13.1 288.9 L16.9 286.5 L20.7 284.3 L24.6 282.0 L28.7 280.2 L33.0 278.7 L37.3 277.5 L41.7 276.6 L46.2 276.0 L50.7 275.8 L55.2 275.7 L59.7 275.6 L64.2 275.9 L68.7 276.2 L73.2 276.5 L77.6 277.0 L82.1 277.5 L86.6 278.1 L91.0 278.8 L95.4 279.6 L99.9 280.3 L104.3 281.2 L108.7 282.2 L113.0 283.3 L117.4 284.3 L120.3 285.1"/><path d="M-5.6 323.3 L-2.9 319.7 L-0.2 316.1 L2.6 312.6 L5.4 309.0 L8.4 305.7 L11.5 302.4 L14.8 299.4 L18.2 296.5 L21.7 293.7 L25.5 291.2 L29.5 289.1 L33.6 287.3 L37.8 285.7 L42.0 284.2 L46.4 283.2 L50.9 282.4 L55.3 281.7 L59.8 281.3 L64.3 281.3 L68.8 281.3 L73.3 281.4 L77.8 281.8 L82.2 282.2 L86.7 282.6 L91.2 283.2 L95.6 284.0 L100.0 284.8 L104.5 285.6 L108.9 286.6 L113.2 287.7 L117.6 288.7 L120.5 289.4"/><path d="M-5.3 341.5 L-2.8 337.7 L-0.3 334.0 L2.3 330.3 L4.8 326.6 L7.5 323.0 L10.2 319.4 L13.1 316.0 L16.0 312.5 L19.0 309.2 L22.2 306.0 L25.7 303.1 L29.3 300.4 L33.0 298.0 L36.8 295.6 L40.8 293.5 L45.0 291.8 L49.3 290.6 L53.7 289.6 L58.2 288.9 L62.6 288.6 L67.1 288.5 L71.6 288.5 L76.1 288.5 L80.6 288.9 L85.1 289.2 L89.6 289.5 L94.1 290.1 L98.5 290.7 L103.0 291.3 L107.4 292.0 L111.9 292.7 L116.3 293.4 L120.7 294.2 L120.7 294.2"/><path d="M-5.2 359.6 L-2.8 355.8 L-0.3 352.0 L2.2 348.3 L4.6 344.5 L7.1 340.8 L9.7 337.1 L12.4 333.5 L15.1 329.9 L17.9 326.3 L20.7 322.8 L23.6 319.4 L26.6 316.1 L29.8 312.8 L33.0 309.7 L36.5 306.9 L40.2 304.3 L44.1 302.1 L48.2 300.2 L52.4 298.4 L56.5 296.8 L60.9 295.6 L65.3 294.6 L69.7 293.8 L74.2 293.4 L78.7 293.2 L83.2 293.2 L87.7 293.3 L92.2 293.5 L96.7 293.8 L101.1 294.2 L105.6 294.7 L110.1 295.3 L114.5 295.9 L119.0 296.6 L120.4 296.9"/><path d="M-5.2 377.6 L-2.8 373.8 L-0.3 370.0 L2.2 366.3 L4.7 362.5 L7.2 358.8 L9.7 355.1 L12.4 351.4 L15.0 347.8 L17.7 344.2 L20.4 340.6 L23.2 337.1 L26.0 333.6 L28.9 330.1 L31.9 326.7 L34.9 323.4 L38.0 320.2 L41.3 317.1 L44.7 314.1 L48.2 311.3 L51.8 308.7 L55.8 306.4 L59.9 304.7 L64.2 303.4 L68.6 302.4 L73.0 301.5 L77.5 301.1 L82.0 301.0 L86.5 300.9 L91.0 300.9 L95.5 301.2 L100.0 301.5 L104.5 301.7 L108.9 302.3 L113.4 303.0 L117.8 303.4 L120.8 303.8"/><path d="M-5.2 395.5 L-2.8 391.8 L-0.3 388.0 L2.2 384.3 L4.7 380.6 L7.3 376.9 L9.8 373.1 L12.4 369.5 L15.1 365.9 L17.8 362.3 L20.5 358.7 L23.3 355.1 L26.1 351.6 L28.9 348.1 L31.8 344.7 L34.7 341.2 L37.7 337.8 L40.7 334.5 L43.8 331.2 L46.9 328.0 L50.1 324.8 L53.4 321.8 L57.0 319.0 L60.7 316.5 L64.5 314.1 L68.3 311.7 L72.3 309.7 L76.6 308.2 L80.9 307.0 L85.4 306.2 L89.8 305.6 L94.3 305.4 L98.8 305.4 L103.3 305.2 L107.8 305.4 L112.3 305.7 L116.8 305.8 L121.3 306.1 L121.3 306.1"/><path d="M-5.3 413.5 L-2.8 409.7 L-0.3 406.0 L2.2 402.3 L4.8 398.6 L7.4 394.9 L9.9 391.2 L12.6 387.6 L15.3 384.0 L18.0 380.4 L20.7 376.8 L23.5 373.3 L26.3 369.7 L29.1 366.2 L32.0 362.8 L34.9 359.4 L37.9 356.0 L40.9 352.6 L43.9 349.3 L47.0 346.0 L50.1 342.8 L53.2 339.5 L56.4 336.4 L59.8 333.4 L63.1 330.4 L66.5 327.4 L70.0 324.5 L73.7 322.0 L77.7 319.8 L81.7 317.9 L85.8 316.0 L90.0 314.5 L94.4 313.2 L98.7 312.0 L103.1 311.0 L107.5 310.2 L112.0 309.6 L116.4 309.1 L120.9 308.9 L120.9 308.9"/><path d="M-5.3 431.5 L-2.8 427.7 L-0.3 424.0 L2.3 420.3 L4.8 416.6 L7.4 413.0 L10.0 409.3 L12.7 405.7 L15.4 402.1 L18.2 398.5 L21.0 395.0 L23.7 391.4 L26.5 387.9 L29.4 384.4 L32.3 381.0 L35.3 377.6 L38.2 374.2 L41.2 370.8 L44.2 367.5 L47.3 364.3 L50.4 361.0 L53.5 357.8 L56.7 354.6 L60.0 351.5 L63.2 348.4 L66.5 345.3 L69.8 342.2 L73.2 339.3 L76.8 336.5 L80.4 333.8 L84.0 331.1 L87.7 328.6 L91.5 326.2 L95.4 324.0 L99.5 322.1 L103.7 320.6 L108.1 319.4 L112.5 318.5 L116.9 317.6 L121.3 316.9 L121.3 316.9"/><path d="M-5.3 449.5 L-2.8 445.7 L-0.3 442.0 L2.3 438.3 L4.9 434.7 L7.5 431.0 L10.1 427.4 L12.8 423.7 L15.6 420.2 L18.3 416.6 L21.1 413.1 L23.9 409.6 L26.8 406.1 L29.7 402.7 L32.6 399.3 L35.6 395.9 L38.5 392.5 L41.5 389.1 L44.6 385.8 L47.7 382.6 L50.9 379.4 L54.0 376.1 L57.2 372.9 L60.4 369.8 L63.7 366.8 L67.0 363.7 L70.3 360.7 L73.7 357.7 L77.2 354.8 L80.7 352.0 L84.1 349.1 L87.7 346.3 L91.3 343.7 L94.9 341.0 L98.6 338.4 L102.4 336.0 L106.4 333.9 L110.4 331.8 L114.4 329.8 L118.5 327.9 L121.3 326.8"/><path d="M-5.3 467.5 L-2.8 463.7 L-0.3 460.0 L2.3 456.4 L5.0 452.7 L7.6 449.1 L10.2 445.4 L12.9 441.8 L15.7 438.3 L18.5 434.7 L21.3 431.2 L24.1 427.7 L27.0 424.3 L29.9 420.8 L32.9 417.5 L35.9 414.1 L38.9 410.7 L41.9 407.4 L45.0 404.2 L48.1 400.9 L51.3 397.7 L54.5 394.5 L57.7 391.4 L61.0 388.3 L64.3 385.3 L67.6 382.2 L71.0 379.2 L74.4 376.3 L77.8 373.4 L81.3 370.6 L84.8 367.7 L88.3 365.0 L91.9 362.3 L95.6 359.6 L99.2 356.9 L102.9 354.3 L106.6 351.8 L110.4 349.4 L114.2 346.9 L118.0 344.6 L120.6 343.0"/><path d="M-5.4 484.5 L-2.9 480.7 L-0.3 477.1 L2.4 473.4 L5.0 469.8 L7.7 466.1 L10.3 462.5 L13.0 458.9 L15.8 455.4 L18.6 451.9 L21.5 448.4 L24.3 444.9 L27.2 441.4 L30.1 438.0 L33.1 434.7 L36.1 431.3 L39.1 428.0 L42.2 424.7 L45.3 421.4 L48.5 418.2 L51.7 415.0 L54.9 411.9 L58.1 408.7 L61.4 405.7 L64.7 402.7 L68.1 399.6 L71.4 396.7 L74.9 393.7 L78.3 390.9 L81.8 388.0 L85.3 385.2 L88.9 382.5 L92.5 379.8 L96.1 377.1 L99.8 374.5 L103.5 371.9 L107.2 369.4 L111.0 366.9 L114.8 364.5 L118.6 362.1 L121.2 360.6"/><path d="M-5.4 502.4 L-2.9 498.7 L-0.2 495.1 L2.4 491.4 L5.1 487.8 L7.8 484.2 L10.4 480.6 L13.2 477.0 L16.0 473.5 L18.8 470.0 L21.7 466.5 L24.5 463.0 L27.4 459.6 L30.4 456.2 L33.4 452.9 L36.4 449.5 L39.4 446.2 L42.5 442.9 L45.7 439.7 L48.9 436.5 L52.0 433.3 L55.2 430.2 L58.5 427.1 L61.8 424.0 L65.2 421.0 L68.5 418.0 L71.9 415.1 L75.4 412.2 L78.8 409.3 L82.3 406.5 L85.9 403.7 L89.4 401.0 L93.1 398.3 L96.7 395.7 L100.4 393.0 L104.1 390.5 L107.8 388.0 L111.6 385.6 L115.4 383.2 L119.3 380.8 L120.6 380.1"/><path d="M-5.8 520.1 L-3.2 516.4 L-0.6 512.8 L2.1 509.2 L4.7 505.6 L7.5 502.0 L10.2 498.4 L12.9 494.8 L15.8 491.3 L18.6 487.9 L21.5 484.4 L24.4 480.9 L27.3 477.5 L30.3 474.1 L33.3 470.8 L36.3 467.5 L39.4 464.2 L42.4 460.9 L45.6 457.7 L48.8 454.5 L52.0 451.3 L55.2 448.2 L58.5 445.1 L61.8 442.1 L65.2 439.1 L68.6 436.1 L71.9 433.1 L75.4 430.3 L78.9 427.5 L82.4 424.7 L86.0 421.9 L89.6 419.2 L93.2 416.5 L96.9 413.9 L100.6 411.3 L104.3 408.8 L108.1 406.4 L111.9 404.0 L115.7 401.6 L119.5 399.2 L120.8 398.5"/><path d="M5.0 521.1 L7.8 517.6 L10.5 514.0 L13.3 510.5 L16.1 507.0 L19.0 503.5 L21.9 500.1 L24.8 496.6 L27.8 493.2 L30.8 489.9 L33.8 486.6 L36.9 483.3 L39.9 480.0 L43.1 476.8 L46.3 473.6 L49.5 470.4 L52.7 467.3 L55.9 464.2 L59.2 461.1 L62.6 458.1 L66.0 455.1 L69.4 452.2 L72.8 449.3 L76.3 446.4 L79.8 443.7 L83.4 440.9 L86.9 438.1 L90.6 435.5 L94.3 432.9 L97.9 430.3 L101.6 427.7 L105.4 425.3 L109.2 422.8 L113.0 420.5 L116.8 418.1 L120.7 415.8 L120.7 415.8"/><path d="M17.7 520.9 L20.6 517.4 L23.5 514.0 L26.4 510.6 L29.4 507.2 L32.5 503.9 L35.6 500.7 L38.7 497.4 L41.8 494.1 L44.9 490.9 L48.2 487.8 L51.4 484.7 L54.7 481.6 L57.9 478.5 L61.3 475.5 L64.7 472.6 L68.1 469.6 L71.5 466.7 L75.0 463.9 L78.6 461.1 L82.1 458.3 L85.7 455.6 L89.3 452.9 L93.0 450.3 L96.7 447.8 L100.4 445.2 L104.2 442.7 L107.9 440.3 L111.8 437.9 L115.6 435.6 L119.5 433.3 L120.8 432.5"/><path d="M31.3 520.5 L34.4 517.3 L37.5 514.0 L40.6 510.7 L43.8 507.6 L47.0 504.4 L50.3 501.3 L53.5 498.2 L56.8 495.1 L60.2 492.2 L63.6 489.2 L67.0 486.3 L70.4 483.4 L73.9 480.5 L77.5 477.8 L81.0 475.0 L84.6 472.3 L88.2 469.6 L91.9 467.0 L95.6 464.5 L99.3 461.9 L103.1 459.4 L106.9 457.0 L110.7 454.6 L114.5 452.3 L118.4 450.0 L121.0 448.5"/><path d="M45.0 520.2 L48.2 517.1 L51.5 514.0 L54.8 510.9 L58.1 507.9 L61.5 504.9 L64.9 502.0 L68.4 499.1 L71.8 496.2 L75.3 493.4 L78.9 490.7 L82.5 488.0 L86.1 485.3 L89.8 482.7 L93.5 480.1 L97.2 477.6 L100.9 475.1 L104.7 472.6 L108.5 470.3 L112.4 467.9 L116.2 465.6 L120.1 463.4 L120.1 463.4"/><path d="M58.5 520.8 L61.9 517.9 L65.4 515.0 L68.8 512.1 L72.3 509.2 L75.8 506.4 L79.4 503.7 L83.0 501.0 L86.6 498.3 L90.3 495.7 L94.0 493.2 L97.8 490.7 L101.5 488.2 L105.3 485.8 L109.2 483.5 L113.0 481.2 L116.9 478.9 L120.8 476.7 L120.8 476.7"/><path d="M74.1 520.3 L77.7 517.6 L81.3 514.9 L84.9 512.2 L88.6 509.6 L92.3 507.1 L96.0 504.6 L99.8 502.1 L103.6 499.6 L107.4 497.3 L111.3 495.0 L115.2 492.7 L119.1 490.5 L120.4 489.8"/><path d="M90.5 520.6 L94.2 518.1 L98.0 515.6 L101.8 513.2 L105.6 510.8 L109.5 508.6 L113.4 506.3 L117.3 504.0 L121.2 501.9 L121.2 501.9"/></g></svg>
<div id="tablet">
  <div id="bezel"></div>
</div>
<div class="abs" style="left:163px;top:30px;width:32px;height:2.5px;background:#aab0ba;border-radius:1px"></div>
<div class="abs" style="left:203px;top:30px;width:32px;height:2.5px;background:#aab0ba;border-radius:1px"></div>
<div class="abs" style="left:94.8px;top:74.5px;width:1.6px;height:3px;background:#4a4a4e;border-radius:1px"></div>
<div class="abs" style="left:94.8px;top:127.5px;width:1.6px;height:3px;background:#4a4a4e;border-radius:1px"></div>
<div id="screen">
  <div id="nav">
    <svg class="abs" style="left:8px;top:6px" width="9" height="9" viewBox="0 0 9 9" fill="#f4f2fa"><rect x="0" y="0" width="2.5" height="2.5"/><rect x="3.25" y="0" width="2.5" height="2.5"/><rect x="6.5" y="0" width="2.5" height="2.5"/><rect x="0" y="3.25" width="2.5" height="2.5"/><rect x="3.25" y="3.25" width="2.5" height="2.5"/><rect x="6.5" y="3.25" width="2.5" height="2.5"/><rect x="0" y="6.5" width="2.5" height="2.5"/><rect x="3.25" y="6.5" width="2.5" height="2.5"/><rect x="6.5" y="6.5" width="2.5" height="2.5"/></svg>
    <span style="left:23px;font-size:8.6px;top:5.8px">School Management</span>
    <span style="left:113px">Dashboard</span>
    <span style="left:158.5px">Applications</span>
    <span style="left:209.5px">Enrollments</span>
    <span style="left:259px">Classes</span>
    <span style="left:293px">Students</span>
    <span style="left:333px">Teachers</span>
    <span style="left:372px">Notice Board</span>
    <span style="left:425px">Configuration</span>
    <div class="abs" style="left:634px;top:7.5px;width:7px;height:6.5px;border-radius:50%;background:#cf3e3e"></div>
    <svg class="abs" style="left:645px;top:6px" width="12" height="10" viewBox="0 0 12 10"><ellipse cx="5" cy="4.2" rx="4.2" ry="3" fill="#ecebf5"/><path d="M2 6.5 L1.5 8.5 L4 7Z" fill="#ecebf5"/><ellipse cx="8" cy="7.3" rx="2.8" ry="2" fill="#d9d6ea"/></svg>
    <div class="abs" style="left:652.5px;top:3.8px;width:10px;height:8px;border-radius:50%;background:#3ba648;font-size:5px;color:#fff;text-align:center;line-height:8px">3</div>
    <svg class="abs" style="left:667.5px;top:6.5px" width="9" height="9" viewBox="0 0 9 9" fill="none" stroke="#ecebf5" stroke-width="1.2"><circle cx="4.3" cy="4.4" r="3.3"/><path d="M4.3 2.3 V4.6 H6"/></svg>
    <div class="abs" style="left:673px;top:3.8px;width:10.5px;height:8px;border-radius:50%;background:#3ba648;font-size:5px;color:#fff;text-align:center;line-height:8px">11</div>
    <span style="left:690px;font-size:7.1px;top:7.5px">YourCompany</span>
    <svg class="abs" style="left:741.4px;top:4.2px" width="12.4" height="13.6" viewBox="0 0 12.4 13.6"><rect width="12.4" height="13.6" rx="2.5" fill="#5c4a4c"/><ellipse cx="6.2" cy="8" rx="4.2" ry="4.6" fill="#efcfc0"/><path d="M1.2 6.5 Q1.5 1.2 6.2 1.2 Q11 1.2 11.2 6.5 Q9 3.5 6.2 4.2 Q3.4 3.5 1.2 6.5Z" fill="#2c2222"/><circle cx="4.4" cy="7.4" r="1.3" fill="none" stroke="#3a2a2a" stroke-width="0.6"/><circle cx="8" cy="7.4" r="1.3" fill="none" stroke="#3a2a2a" stroke-width="0.6"/><path d="M5 10.6 Q6.2 11.4 7.4 10.6" stroke="#b06060" stroke-width="0.6" fill="none"/></svg>
  </div>
  <div id="cp"><div class="abs" style="left:45px;top:9.6px;font-size:14.2px;font-weight:bold;color:#1f2a40">Dashboard</div></div>
  <div class="abs" style="left:754px;top:33px;width:6px;height:403px;background:#c6c6c8"></div><div class="abs" style="left:754px;top:436px;width:6px;height:30px;background:#f2f2f3"></div><svg class="abs" style="left:755.5px;top:27.5px" width="4" height="3" viewBox="0 0 4 3"><path d="M0 3 L2 0.5 L4 3Z" fill="#a8a8aa"/></svg>
  <div class="abs" style="left:45px;top:421px;font-size:11px;font-weight:bold;color:#1f2a40">All Stats</div>
  <div class="abs" style="left:594px;top:427px;font-size:7px;color:#2e2e2e;white-space:nowrap">SORT BY:</div>
  <div class="abs" style="left:638px;top:427px;font-size:7.3px;color:#555;white-space:nowrap">Current Week</div>
  <svg class="abs" style="left:690px;top:429px" width="7" height="5" viewBox="0 0 7 5"><path d="M1 1 L3.5 3.5 L6 1" stroke="#555" stroke-width="1.1" fill="none"/></svg>
</div>
<div id="overlay">
  <!-- stat cards -->
  <div class="card stat" style="left:19.5px;top:16px;width:196px;height:88.5px">
    <svg style="left:0;top:0" width="40" height="40" viewBox="0 0 40 40" fill="none" stroke="#4a74ea" stroke-width="1.6" stroke-linecap="round" stroke-linejoin="round"><path d="M23.2 11 H13.8 a2.6 2.6 0 0 0 -2.6 2.6 V27.6 a2.6 2.6 0 0 0 2.6 2.6 H28 a2.6 2.6 0 0 0 2.6 -2.6 V19.6"/><rect x="18.9" y="15.2" width="11.6" height="3.0" rx="1.5" transform="rotate(-42 24.7 16.7)"/></svg>
    <div class="num">14</div><div class="t">Total Applications</div><div class="s">New and existing applications</div>
  </div>
  <div class="card stat" style="left:237px;top:16px;width:196px;height:88.5px">
    <svg style="left:0;top:0" width="40" height="40" viewBox="0 0 40 40" fill="none" stroke="#4a74ea" stroke-width="1.6" stroke-linecap="round" stroke-linejoin="round"><circle cx="17.8" cy="16.3" r="3.25"/><path d="M11.7 28.6 C11.7 25 14.2 23.4 17.45 23.4 C20.7 23.4 23.2 25 23.2 28.6"/><path d="M23.3 19.4 H29.9 M26.6 16.1 V22.7"/></svg>
    <div class="num">8</div><div class="t">Total Enrollments</div><div class="s">New and existing enrollments</div>
  </div>
  <div class="card stat" style="left:455px;top:16px;width:196.5px;height:88.5px">
    <svg style="left:0;top:0" width="40" height="40" viewBox="0 0 40 40" fill="none" stroke="#4a74ea" stroke-width="1.55" stroke-linecap="round" stroke-linejoin="round"><g transform="translate(8.1 8.25) scale(1.03)"><path d="M10 13a2 2 0 1 0 4 0a2 2 0 0 0 -4 0"/><path d="M8 21v-1a2 2 0 0 1 2 -2h4a2 2 0 0 1 2 2v1"/><path d="M15 5a2 2 0 1 0 4 0a2 2 0 0 0 -4 0"/><path d="M17 10h2a2 2 0 0 1 2 2v1"/><path d="M5 5a2 2 0 1 0 4 0a2 2 0 0 0 -4 0"/><path d="M3 13v-1a2 2 0 0 1 2 -2h2"/></g></svg>
    <div class="num">7</div><div class="t">Total Students</div><div class="s">Total enrolled students</div>
  </div>
  <div class="card stat" style="left:673px;top:16px;width:197px;height:88.5px">
    <svg style="left:0;top:0" width="40" height="40" viewBox="0 0 40 40" fill="none" stroke="#4a74ea" stroke-width="1.6" stroke-linecap="round" stroke-linejoin="round"><path d="M28.4 17.4 V13.5 a2 2 0 0 0 -2 -2 H13.6 a2 2 0 0 0 -2 2 V23.9 a2 2 0 0 0 2 2 H21.9"/><path d="M14.4 15.6 H23.4 M14.4 21.2 H19.7"/><circle cx="26.6" cy="22.4" r="3"/><path d="M23.9 29.8 Q23.9 26.5 26.6 26.5 Q29.4 26.5 29.4 29.8"/></svg>
    <div class="num">6</div><div class="t">Total Faculty</div><div class="s">Total teachers onboard</div>
  </div>
  <!-- chart cards -->
  <div class="card chart" style="left:19.5px;top:118.4px;width:415px;height:205.5px">
    <div class="h">Faculty</div><div class="line"></div>
    <svg class="abs" style="left:103.5px;top:52.5px" width="142" height="142" viewBox="0 0 142 142"><circle cx="71" cy="71" r="62.2" fill="none" stroke="#f87171" stroke-width="17.6"/><line x1="71" y1="0" x2="71" y2="18" stroke="#fff" stroke-width="0.9"/></svg>
    <div class="ctext" style="left:124px;top:105px;width:100px;font-size:13px">Total Faculty</div>
    <div class="ctext" style="left:124px;top:118.2px;width:100px;font-size:24px;font-weight:bold">6</div>
    <div class="legend" style="left:355.3px;top:111.8px"><i style="background:#2d6be4;top:0"></i><span style="top:0.2px">Present (0)</span><i style="background:#f87171;top:14.5px;border:0.6px solid #c99"></i><span style="top:13.3px">Absent (6)</span></div>
  </div>
  <div class="card chart" style="left:455px;top:118.4px;width:415px;height:205.5px">
    <div class="h">Students</div><div class="line"></div>
    <svg class="abs" style="left:103.5px;top:52.5px" width="142" height="142" viewBox="0 0 142 142"><circle cx="71" cy="71" r="62.2" fill="none" stroke="#f87171" stroke-width="17.6"/><line x1="71" y1="0" x2="71" y2="18" stroke="#fff" stroke-width="0.9"/></svg>
    <div class="ctext" style="left:124px;top:105px;width:100px;font-size:13px">Total Students</div>
    <div class="ctext" style="left:124px;top:118.2px;width:100px;font-size:24px;font-weight:bold">7</div>
    <div class="legend" style="left:355.3px;top:111.8px"><i style="background:#2d6be4;top:0"></i><span style="top:0.2px">Present (0)</span><i style="background:#f87171;top:14.5px;border:0.6px solid #c99"></i><span style="top:13.3px">Absent (7)</span></div>
  </div>
</div>
<svg class="abs" style="left:0;top:0" width="1024" height="512" viewBox="0 0 1024 512"><path d="M0 0 H5 A5 5 0 0 0 0 5Z" fill="#8a8aa2"/><path d="M1024 0 H1019.5 A4.5 4.5 0 0 1 1024 4.5Z" fill="#a8a4b4"/><path d="M0 512 H5 A5 5 0 0 1 0 507Z" fill="#8c8ca0"/><path d="M1024 512 H1019 A5 5 0 0 0 1024 507Z" fill="#b8a8b0"/></svg>
</body></html>
